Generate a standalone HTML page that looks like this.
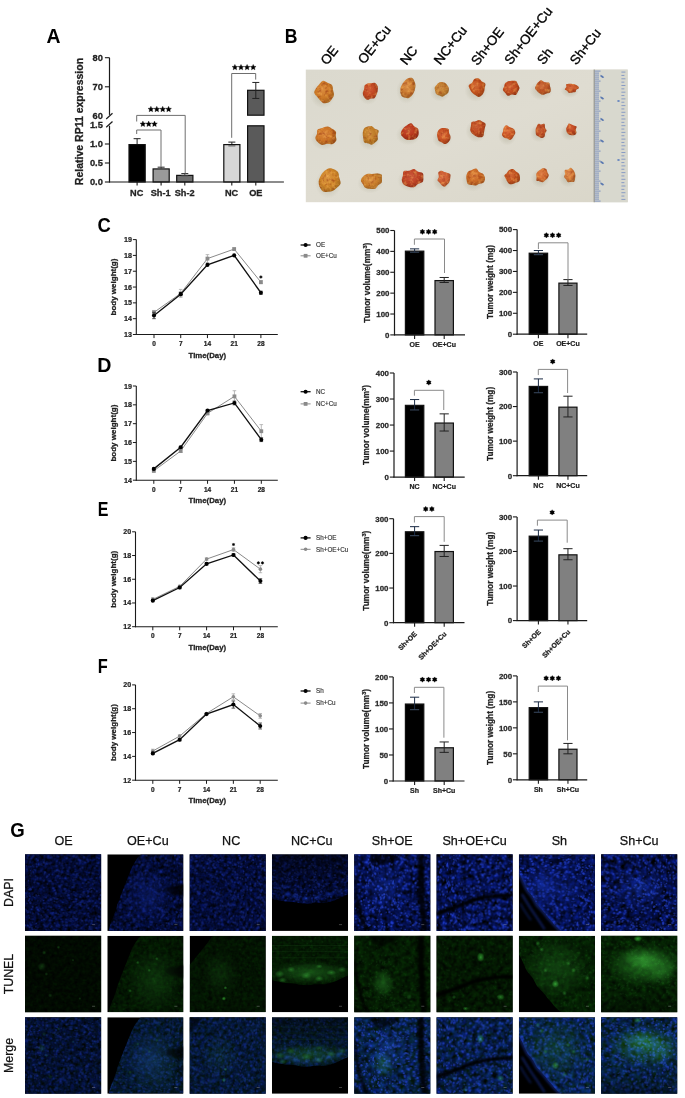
<!DOCTYPE html><html><head><meta charset="utf-8"><style>html,body{margin:0;padding:0;background:#fff;width:685px;height:1098px;overflow:hidden}svg{display:block}#root{filter:blur(0.35px)}</style></head><body>
<svg id="root" width="685" height="1098" viewBox="0 0 685 1098" font-family="Liberation Sans, sans-serif">
<rect width="685" height="1098" fill="#fff"/>
<rect x="129.00" y="144.60" width="16.20" height="37.40" fill="#000" stroke="#111" stroke-width="1.2" />
<line x1="137.10" y1="138.68" x2="137.10" y2="144.00" stroke="#222" stroke-width="1.0" />
<line x1="133.60" y1="138.68" x2="140.60" y2="138.68" stroke="#222" stroke-width="1.0" />
<rect x="153.10" y="168.92" width="16.10" height="13.08" fill="#9a9a9a" stroke="#111" stroke-width="1.2" />
<line x1="161.15" y1="167.18" x2="161.15" y2="168.32" stroke="#222" stroke-width="1.0" />
<line x1="157.65" y1="167.18" x2="164.65" y2="167.18" stroke="#222" stroke-width="1.0" />
<line x1="157.65" y1="169.46" x2="164.65" y2="169.46" stroke="#555" stroke-width="1.0" />
<rect x="176.70" y="175.38" width="16.20" height="6.62" fill="#6e6e6e" stroke="#111" stroke-width="1.2" />
<line x1="184.80" y1="173.64" x2="184.80" y2="174.78" stroke="#222" stroke-width="1.0" />
<line x1="181.30" y1="173.64" x2="188.30" y2="173.64" stroke="#222" stroke-width="1.0" />
<line x1="181.30" y1="175.92" x2="188.30" y2="175.92" stroke="#555" stroke-width="1.0" />
<rect x="223.80" y="144.60" width="16.10" height="37.40" fill="#d6d6d6" stroke="#111" stroke-width="1.2" />
<line x1="231.85" y1="142.10" x2="231.85" y2="144.00" stroke="#222" stroke-width="1.0" />
<line x1="228.35" y1="142.10" x2="235.35" y2="142.10" stroke="#222" stroke-width="1.0" />
<line x1="228.35" y1="145.90" x2="235.35" y2="145.90" stroke="#555" stroke-width="1.0" />
<rect x="247.60" y="125.80" width="16.40" height="56.20" fill="#5a5a5a" stroke="#111" stroke-width="1.2" />
<rect x="247.60" y="90.29" width="16.40" height="24.91" fill="#5a5a5a" stroke="#111" stroke-width="1.2" />
<line x1="255.80" y1="82.44" x2="255.80" y2="98.44" stroke="#222" stroke-width="1.0" />
<line x1="252.30" y1="82.44" x2="259.30" y2="82.44" stroke="#222" stroke-width="1.0" />
<line x1="252.30" y1="98.44" x2="259.30" y2="98.44" stroke="#222" stroke-width="1.0" />
<line x1="109.50" y1="57.70" x2="109.50" y2="114.90" stroke="#1a1a1a" stroke-width="1.2" />
<line x1="109.50" y1="125.70" x2="109.50" y2="182.50" stroke="#1a1a1a" stroke-width="1.2" />
<line x1="109.00" y1="182.00" x2="283.90" y2="182.00" stroke="#1a1a1a" stroke-width="1.2" />
<line x1="106.20" y1="119.00" x2="112.50" y2="113.30" stroke="#1a1a1a" stroke-width="1.2" />
<line x1="106.20" y1="127.30" x2="112.50" y2="121.50" stroke="#1a1a1a" stroke-width="1.2" />
<line x1="104.90" y1="57.70" x2="109.50" y2="57.70" stroke="#1a1a1a" stroke-width="1.1" />
<text x="102.90" y="61.00" font-size="9.3" font-weight="bold" text-anchor="end" fill="#222"  stroke="#222" stroke-width="0.28">80</text>
<line x1="104.90" y1="86.80" x2="109.50" y2="86.80" stroke="#1a1a1a" stroke-width="1.1" />
<text x="102.90" y="90.10" font-size="9.3" font-weight="bold" text-anchor="end" fill="#222"  stroke="#222" stroke-width="0.28">70</text>
<text x="102.90" y="119.20" font-size="9.3" font-weight="bold" text-anchor="end" fill="#222"  stroke="#222" stroke-width="0.28">60</text>
<text x="102.90" y="128.30" font-size="9.3" font-weight="bold" text-anchor="end" fill="#222"  stroke="#222" stroke-width="0.28">1.5</text>
<line x1="104.90" y1="144.00" x2="109.50" y2="144.00" stroke="#1a1a1a" stroke-width="1.1" />
<text x="102.90" y="147.30" font-size="9.3" font-weight="bold" text-anchor="end" fill="#222"  stroke="#222" stroke-width="0.28">1.0</text>
<line x1="104.90" y1="163.00" x2="109.50" y2="163.00" stroke="#1a1a1a" stroke-width="1.1" />
<text x="102.90" y="166.30" font-size="9.3" font-weight="bold" text-anchor="end" fill="#222"  stroke="#222" stroke-width="0.28">0.5</text>
<line x1="104.90" y1="182.00" x2="109.50" y2="182.00" stroke="#1a1a1a" stroke-width="1.1" />
<text x="102.90" y="185.30" font-size="9.3" font-weight="bold" text-anchor="end" fill="#222"  stroke="#222" stroke-width="0.28">0.0</text>
<line x1="137.10" y1="182.00" x2="137.10" y2="185.50" stroke="#1a1a1a" stroke-width="1.1" />
<line x1="161.10" y1="182.00" x2="161.10" y2="185.50" stroke="#1a1a1a" stroke-width="1.1" />
<line x1="184.80" y1="182.00" x2="184.80" y2="185.50" stroke="#1a1a1a" stroke-width="1.1" />
<line x1="231.80" y1="182.00" x2="231.80" y2="185.50" stroke="#1a1a1a" stroke-width="1.1" />
<line x1="255.80" y1="182.00" x2="255.80" y2="185.50" stroke="#1a1a1a" stroke-width="1.1" />
<text x="136.70" y="196.00" font-size="9.2" font-weight="bold" text-anchor="middle" fill="#222"  stroke="#222" stroke-width="0.28">NC</text>
<text x="160.70" y="196.00" font-size="9.2" font-weight="bold" text-anchor="middle" fill="#222"  stroke="#222" stroke-width="0.28">Sh-1</text>
<text x="184.70" y="196.00" font-size="9.2" font-weight="bold" text-anchor="middle" fill="#222"  stroke="#222" stroke-width="0.28">Sh-2</text>
<text x="231.60" y="196.00" font-size="9.2" font-weight="bold" text-anchor="middle" fill="#222"  stroke="#222" stroke-width="0.28">NC</text>
<text x="255.80" y="196.00" font-size="9.2" font-weight="bold" text-anchor="middle" fill="#222"  stroke="#222" stroke-width="0.28">OE</text>
<text x="0.00" y="0.00" font-size="10.5" font-weight="bold" text-anchor="middle" fill="#222" transform="translate(82.7,121.5) rotate(-90)" stroke="#222" stroke-width="0.28">Relative RP11 expression</text>
<polyline points="136.7,134.0 136.7,130.0 161.0,130.0 161.0,167.3" fill="none" stroke="#6e6e6e" stroke-width="1.0"/>
<polyline points="136.7,121.5 136.7,115.4 185.2,115.4 185.2,173.5" fill="none" stroke="#6e6e6e" stroke-width="1.0"/>
<polyline points="231.7,137.8 231.7,73.5 255.7,73.5 255.7,79.6" fill="none" stroke="#6e6e6e" stroke-width="1.0"/>
<polygon points="142.90,121.10 143.72,122.97 145.75,123.17 144.23,124.53 144.66,126.53 142.90,125.50 141.14,126.53 141.57,124.53 140.05,123.17 142.08,122.97" fill="#000" stroke="#000" stroke-width="0.35" stroke-linejoin="round"/>
<polygon points="148.70,121.10 149.52,122.97 151.55,123.17 150.03,124.53 150.46,126.53 148.70,125.50 146.94,126.53 147.37,124.53 145.85,123.17 147.88,122.97" fill="#000" stroke="#000" stroke-width="0.35" stroke-linejoin="round"/>
<polygon points="154.50,121.10 155.32,122.97 157.35,123.17 155.83,124.53 156.26,126.53 154.50,125.50 152.74,126.53 153.17,124.53 151.65,123.17 153.68,122.97" fill="#000" stroke="#000" stroke-width="0.35" stroke-linejoin="round"/>
<polygon points="150.90,106.30 151.72,108.17 153.75,108.37 152.23,109.73 152.66,111.73 150.90,110.70 149.14,111.73 149.57,109.73 148.05,108.37 150.08,108.17" fill="#000" stroke="#000" stroke-width="0.35" stroke-linejoin="round"/>
<polygon points="156.80,106.30 157.62,108.17 159.65,108.37 158.13,109.73 158.56,111.73 156.80,110.70 155.04,111.73 155.47,109.73 153.95,108.37 155.98,108.17" fill="#000" stroke="#000" stroke-width="0.35" stroke-linejoin="round"/>
<polygon points="162.70,106.30 163.52,108.17 165.55,108.37 164.03,109.73 164.46,111.73 162.70,110.70 160.94,111.73 161.37,109.73 159.85,108.37 161.88,108.17" fill="#000" stroke="#000" stroke-width="0.35" stroke-linejoin="round"/>
<polygon points="168.60,106.30 169.42,108.17 171.45,108.37 169.93,109.73 170.36,111.73 168.60,110.70 166.84,111.73 167.27,109.73 165.75,108.37 167.78,108.17" fill="#000" stroke="#000" stroke-width="0.35" stroke-linejoin="round"/>
<polygon points="234.90,64.40 235.72,66.27 237.75,66.47 236.23,67.83 236.66,69.83 234.90,68.80 233.14,69.83 233.57,67.83 232.05,66.47 234.08,66.27" fill="#000" stroke="#000" stroke-width="0.35" stroke-linejoin="round"/>
<polygon points="241.00,64.40 241.82,66.27 243.85,66.47 242.33,67.83 242.76,69.83 241.00,68.80 239.24,69.83 239.67,67.83 238.15,66.47 240.18,66.27" fill="#000" stroke="#000" stroke-width="0.35" stroke-linejoin="round"/>
<polygon points="247.10,64.40 247.92,66.27 249.95,66.47 248.43,67.83 248.86,69.83 247.10,68.80 245.34,69.83 245.77,67.83 244.25,66.47 246.28,66.27" fill="#000" stroke="#000" stroke-width="0.35" stroke-linejoin="round"/>
<polygon points="253.20,64.40 254.02,66.27 256.05,66.47 254.53,67.83 254.96,69.83 253.20,68.80 251.44,69.83 251.87,67.83 250.35,66.47 252.38,66.27" fill="#000" stroke="#000" stroke-width="0.35" stroke-linejoin="round"/>
<defs><linearGradient id="bg" x1="0" y1="0" x2="1" y2="1"><stop offset="0" stop-color="#dbd9ce"/><stop offset="0.5" stop-color="#dfdcd1"/><stop offset="1" stop-color="#d9d6c9"/></linearGradient><radialGradient id="tS" cx="0.5" cy="0.5" r="0.5"><stop offset="0" stop-color="#a8a48c" stop-opacity="0.55"/><stop offset="1" stop-color="#a8a48c" stop-opacity="0"/></radialGradient><filter id="mot" x="-10%" y="-10%" width="120%" height="120%" color-interpolation-filters="sRGB"><feTurbulence type="fractalNoise" baseFrequency="0.28" numOctaves="2" seed="11" result="n"/><feColorMatrix in="n" type="matrix" values="0 0 0 0 1  0 0 0 0 0.74  0 0 0 0 0.38  1.3 0 0 0 -0.62" result="sp"/><feComposite in="sp" in2="SourceGraphic" operator="in" result="sp2"/><feColorMatrix in="n" type="matrix" values="0 0 0 0 0.55  0 0 0 0 0.16  0 0 0 0 0.06  0 1.5 0 0 -0.75" result="dk"/><feComposite in="dk" in2="SourceGraphic" operator="in" result="dk2"/><feMerge><feMergeNode in="SourceGraphic"/><feMergeNode in="dk2"/><feMergeNode in="sp2"/></feMerge><feGaussianBlur stdDeviation="0.6"/></filter><filter id="pbl"><feGaussianBlur stdDeviation="0.35"/></filter></defs>
<rect x="305.80" y="69.60" width="321.90" height="132.60" fill="url(#bg)" stroke="none" stroke-width="0" />
<rect x="593.80" y="69.60" width="33.90" height="132.60" fill="#d8d8ce" stroke="none" stroke-width="0" />
<line x1="594.20" y1="69.60" x2="594.20" y2="202.20" stroke="#8a8a84" stroke-width="1.0" />
<line x1="594.80" y1="71.10" x2="600.60" y2="71.10" stroke="#6f87bd" stroke-width="0.85" />
<line x1="594.80" y1="73.10" x2="599.00" y2="73.10" stroke="#6f87bd" stroke-width="0.85" />
<line x1="594.80" y1="75.10" x2="599.00" y2="75.10" stroke="#6f87bd" stroke-width="0.85" />
<line x1="594.80" y1="77.10" x2="599.00" y2="77.10" stroke="#6f87bd" stroke-width="0.85" />
<line x1="594.80" y1="79.10" x2="599.00" y2="79.10" stroke="#6f87bd" stroke-width="0.85" />
<line x1="594.80" y1="81.10" x2="600.60" y2="81.10" stroke="#6f87bd" stroke-width="0.85" />
<line x1="594.80" y1="83.10" x2="599.00" y2="83.10" stroke="#6f87bd" stroke-width="0.85" />
<line x1="594.80" y1="85.10" x2="599.00" y2="85.10" stroke="#6f87bd" stroke-width="0.85" />
<line x1="594.80" y1="87.10" x2="599.00" y2="87.10" stroke="#6f87bd" stroke-width="0.85" />
<line x1="594.80" y1="89.10" x2="599.00" y2="89.10" stroke="#6f87bd" stroke-width="0.85" />
<line x1="594.80" y1="91.10" x2="600.60" y2="91.10" stroke="#6f87bd" stroke-width="0.85" />
<line x1="594.80" y1="93.10" x2="599.00" y2="93.10" stroke="#6f87bd" stroke-width="0.85" />
<line x1="594.80" y1="95.10" x2="599.00" y2="95.10" stroke="#6f87bd" stroke-width="0.85" />
<line x1="594.80" y1="97.10" x2="599.00" y2="97.10" stroke="#6f87bd" stroke-width="0.85" />
<line x1="594.80" y1="99.10" x2="599.00" y2="99.10" stroke="#6f87bd" stroke-width="0.85" />
<line x1="594.80" y1="101.10" x2="600.60" y2="101.10" stroke="#6f87bd" stroke-width="0.85" />
<line x1="594.80" y1="103.10" x2="599.00" y2="103.10" stroke="#6f87bd" stroke-width="0.85" />
<line x1="594.80" y1="105.10" x2="599.00" y2="105.10" stroke="#6f87bd" stroke-width="0.85" />
<line x1="594.80" y1="107.10" x2="599.00" y2="107.10" stroke="#6f87bd" stroke-width="0.85" />
<line x1="594.80" y1="109.10" x2="599.00" y2="109.10" stroke="#6f87bd" stroke-width="0.85" />
<line x1="594.80" y1="111.10" x2="600.60" y2="111.10" stroke="#6f87bd" stroke-width="0.85" />
<line x1="594.80" y1="113.10" x2="599.00" y2="113.10" stroke="#6f87bd" stroke-width="0.85" />
<line x1="594.80" y1="115.10" x2="599.00" y2="115.10" stroke="#6f87bd" stroke-width="0.85" />
<line x1="594.80" y1="117.10" x2="599.00" y2="117.10" stroke="#6f87bd" stroke-width="0.85" />
<line x1="594.80" y1="119.10" x2="599.00" y2="119.10" stroke="#6f87bd" stroke-width="0.85" />
<line x1="594.80" y1="121.10" x2="600.60" y2="121.10" stroke="#6f87bd" stroke-width="0.85" />
<line x1="594.80" y1="123.10" x2="599.00" y2="123.10" stroke="#6f87bd" stroke-width="0.85" />
<line x1="594.80" y1="125.10" x2="599.00" y2="125.10" stroke="#6f87bd" stroke-width="0.85" />
<line x1="594.80" y1="127.10" x2="599.00" y2="127.10" stroke="#6f87bd" stroke-width="0.85" />
<line x1="594.80" y1="129.10" x2="599.00" y2="129.10" stroke="#6f87bd" stroke-width="0.85" />
<line x1="594.80" y1="131.10" x2="600.60" y2="131.10" stroke="#6f87bd" stroke-width="0.85" />
<line x1="594.80" y1="133.10" x2="599.00" y2="133.10" stroke="#6f87bd" stroke-width="0.85" />
<line x1="594.80" y1="135.10" x2="599.00" y2="135.10" stroke="#6f87bd" stroke-width="0.85" />
<line x1="594.80" y1="137.10" x2="599.00" y2="137.10" stroke="#6f87bd" stroke-width="0.85" />
<line x1="594.80" y1="139.10" x2="599.00" y2="139.10" stroke="#6f87bd" stroke-width="0.85" />
<line x1="594.80" y1="141.10" x2="600.60" y2="141.10" stroke="#6f87bd" stroke-width="0.85" />
<line x1="594.80" y1="143.10" x2="599.00" y2="143.10" stroke="#6f87bd" stroke-width="0.85" />
<line x1="594.80" y1="145.10" x2="599.00" y2="145.10" stroke="#6f87bd" stroke-width="0.85" />
<line x1="594.80" y1="147.10" x2="599.00" y2="147.10" stroke="#6f87bd" stroke-width="0.85" />
<line x1="594.80" y1="149.10" x2="599.00" y2="149.10" stroke="#6f87bd" stroke-width="0.85" />
<line x1="594.80" y1="151.10" x2="600.60" y2="151.10" stroke="#6f87bd" stroke-width="0.85" />
<line x1="594.80" y1="153.10" x2="599.00" y2="153.10" stroke="#6f87bd" stroke-width="0.85" />
<line x1="594.80" y1="155.10" x2="599.00" y2="155.10" stroke="#6f87bd" stroke-width="0.85" />
<line x1="594.80" y1="157.10" x2="599.00" y2="157.10" stroke="#6f87bd" stroke-width="0.85" />
<line x1="594.80" y1="159.10" x2="599.00" y2="159.10" stroke="#6f87bd" stroke-width="0.85" />
<line x1="594.80" y1="161.10" x2="600.60" y2="161.10" stroke="#6f87bd" stroke-width="0.85" />
<line x1="594.80" y1="163.10" x2="599.00" y2="163.10" stroke="#6f87bd" stroke-width="0.85" />
<line x1="594.80" y1="165.10" x2="599.00" y2="165.10" stroke="#6f87bd" stroke-width="0.85" />
<line x1="594.80" y1="167.10" x2="599.00" y2="167.10" stroke="#6f87bd" stroke-width="0.85" />
<line x1="594.80" y1="169.10" x2="599.00" y2="169.10" stroke="#6f87bd" stroke-width="0.85" />
<line x1="594.80" y1="171.10" x2="600.60" y2="171.10" stroke="#6f87bd" stroke-width="0.85" />
<line x1="594.80" y1="173.10" x2="599.00" y2="173.10" stroke="#6f87bd" stroke-width="0.85" />
<line x1="594.80" y1="175.10" x2="599.00" y2="175.10" stroke="#6f87bd" stroke-width="0.85" />
<line x1="594.80" y1="177.10" x2="599.00" y2="177.10" stroke="#6f87bd" stroke-width="0.85" />
<line x1="594.80" y1="179.10" x2="599.00" y2="179.10" stroke="#6f87bd" stroke-width="0.85" />
<line x1="594.80" y1="181.10" x2="600.60" y2="181.10" stroke="#6f87bd" stroke-width="0.85" />
<line x1="594.80" y1="183.10" x2="599.00" y2="183.10" stroke="#6f87bd" stroke-width="0.85" />
<line x1="594.80" y1="185.10" x2="599.00" y2="185.10" stroke="#6f87bd" stroke-width="0.85" />
<line x1="594.80" y1="187.10" x2="599.00" y2="187.10" stroke="#6f87bd" stroke-width="0.85" />
<line x1="594.80" y1="189.10" x2="599.00" y2="189.10" stroke="#6f87bd" stroke-width="0.85" />
<line x1="594.80" y1="191.10" x2="600.60" y2="191.10" stroke="#6f87bd" stroke-width="0.85" />
<line x1="594.80" y1="193.10" x2="599.00" y2="193.10" stroke="#6f87bd" stroke-width="0.85" />
<line x1="594.80" y1="195.10" x2="599.00" y2="195.10" stroke="#6f87bd" stroke-width="0.85" />
<line x1="594.80" y1="197.10" x2="599.00" y2="197.10" stroke="#6f87bd" stroke-width="0.85" />
<line x1="594.80" y1="199.10" x2="599.00" y2="199.10" stroke="#6f87bd" stroke-width="0.85" />
<line x1="594.80" y1="201.10" x2="600.60" y2="201.10" stroke="#6f87bd" stroke-width="0.85" />
<line x1="621.40" y1="72.10" x2="625.40" y2="72.10" stroke="#7a90c0" stroke-width="0.85" />
<line x1="621.40" y1="75.45" x2="624.40" y2="75.45" stroke="#7a90c0" stroke-width="0.85" />
<line x1="621.40" y1="78.80" x2="625.40" y2="78.80" stroke="#7a90c0" stroke-width="0.85" />
<line x1="621.40" y1="82.15" x2="624.40" y2="82.15" stroke="#7a90c0" stroke-width="0.85" />
<line x1="621.40" y1="85.50" x2="625.40" y2="85.50" stroke="#7a90c0" stroke-width="0.85" />
<line x1="621.40" y1="88.85" x2="624.40" y2="88.85" stroke="#7a90c0" stroke-width="0.85" />
<line x1="621.40" y1="92.20" x2="625.40" y2="92.20" stroke="#7a90c0" stroke-width="0.85" />
<line x1="621.40" y1="95.55" x2="624.40" y2="95.55" stroke="#7a90c0" stroke-width="0.85" />
<line x1="621.40" y1="98.90" x2="625.40" y2="98.90" stroke="#7a90c0" stroke-width="0.85" />
<line x1="621.40" y1="102.25" x2="624.40" y2="102.25" stroke="#7a90c0" stroke-width="0.85" />
<line x1="621.40" y1="105.60" x2="625.40" y2="105.60" stroke="#7a90c0" stroke-width="0.85" />
<line x1="621.40" y1="108.95" x2="624.40" y2="108.95" stroke="#7a90c0" stroke-width="0.85" />
<line x1="621.40" y1="112.30" x2="625.40" y2="112.30" stroke="#7a90c0" stroke-width="0.85" />
<line x1="621.40" y1="115.65" x2="624.40" y2="115.65" stroke="#7a90c0" stroke-width="0.85" />
<line x1="621.40" y1="119.00" x2="625.40" y2="119.00" stroke="#7a90c0" stroke-width="0.85" />
<line x1="621.40" y1="122.35" x2="624.40" y2="122.35" stroke="#7a90c0" stroke-width="0.85" />
<line x1="621.40" y1="125.70" x2="625.40" y2="125.70" stroke="#7a90c0" stroke-width="0.85" />
<line x1="621.40" y1="129.05" x2="624.40" y2="129.05" stroke="#7a90c0" stroke-width="0.85" />
<line x1="621.40" y1="132.40" x2="625.40" y2="132.40" stroke="#7a90c0" stroke-width="0.85" />
<line x1="621.40" y1="135.75" x2="624.40" y2="135.75" stroke="#7a90c0" stroke-width="0.85" />
<line x1="621.40" y1="139.10" x2="625.40" y2="139.10" stroke="#7a90c0" stroke-width="0.85" />
<line x1="621.40" y1="142.45" x2="624.40" y2="142.45" stroke="#7a90c0" stroke-width="0.85" />
<line x1="621.40" y1="145.80" x2="625.40" y2="145.80" stroke="#7a90c0" stroke-width="0.85" />
<line x1="621.40" y1="149.15" x2="624.40" y2="149.15" stroke="#7a90c0" stroke-width="0.85" />
<line x1="621.40" y1="152.50" x2="625.40" y2="152.50" stroke="#7a90c0" stroke-width="0.85" />
<line x1="621.40" y1="155.85" x2="624.40" y2="155.85" stroke="#7a90c0" stroke-width="0.85" />
<line x1="621.40" y1="159.20" x2="625.40" y2="159.20" stroke="#7a90c0" stroke-width="0.85" />
<line x1="621.40" y1="162.55" x2="624.40" y2="162.55" stroke="#7a90c0" stroke-width="0.85" />
<line x1="621.40" y1="165.90" x2="625.40" y2="165.90" stroke="#7a90c0" stroke-width="0.85" />
<line x1="621.40" y1="169.25" x2="624.40" y2="169.25" stroke="#7a90c0" stroke-width="0.85" />
<line x1="621.40" y1="172.60" x2="625.40" y2="172.60" stroke="#7a90c0" stroke-width="0.85" />
<line x1="621.40" y1="175.95" x2="624.40" y2="175.95" stroke="#7a90c0" stroke-width="0.85" />
<line x1="621.40" y1="179.30" x2="625.40" y2="179.30" stroke="#7a90c0" stroke-width="0.85" />
<line x1="621.40" y1="182.65" x2="624.40" y2="182.65" stroke="#7a90c0" stroke-width="0.85" />
<line x1="621.40" y1="186.00" x2="625.40" y2="186.00" stroke="#7a90c0" stroke-width="0.85" />
<line x1="621.40" y1="189.35" x2="624.40" y2="189.35" stroke="#7a90c0" stroke-width="0.85" />
<line x1="621.40" y1="192.70" x2="625.40" y2="192.70" stroke="#7a90c0" stroke-width="0.85" />
<line x1="621.40" y1="196.05" x2="624.40" y2="196.05" stroke="#7a90c0" stroke-width="0.85" />
<line x1="621.40" y1="199.40" x2="625.40" y2="199.40" stroke="#7a90c0" stroke-width="0.85" />
<path d="M600.5,74.7 l2.5,1.2 l1.2,1.6 l-1.6,0.6 l-2.2,-1.6Z" fill="#5a78b0"/>
<path d="M600.5,96.2 l2.5,1.2 l1.2,1.6 l-1.6,0.6 l-2.2,-1.6Z" fill="#5a78b0"/>
<path d="M600.5,117.7 l2.5,1.2 l1.2,1.6 l-1.6,0.6 l-2.2,-1.6Z" fill="#5a78b0"/>
<path d="M600.5,139.2 l2.5,1.2 l1.2,1.6 l-1.6,0.6 l-2.2,-1.6Z" fill="#5a78b0"/>
<path d="M600.5,160.7 l2.5,1.2 l1.2,1.6 l-1.6,0.6 l-2.2,-1.6Z" fill="#5a78b0"/>
<path d="M600.5,182.2 l2.5,1.2 l1.2,1.6 l-1.6,0.6 l-2.2,-1.6Z" fill="#5a78b0"/>
<ellipse cx="618.5" cy="101.0" rx="1.3" ry="1.0" fill="#6a88c0"/>
<ellipse cx="618.5" cy="160.0" rx="1.3" ry="1.0" fill="#6a88c0"/>
<defs>
<radialGradient id="tg0" cx="0.42" cy="0.4" r="0.65"><stop offset="0" stop-color="#da8b3e"/><stop offset="0.55" stop-color="#cb7826"/><stop offset="1" stop-color="#9a5b1d"/></radialGradient>
<radialGradient id="tg1" cx="0.42" cy="0.4" r="0.65"><stop offset="0" stop-color="#d15d39"/><stop offset="0.55" stop-color="#c14822"/><stop offset="1" stop-color="#923619"/></radialGradient>
<radialGradient id="tg2" cx="0.42" cy="0.4" r="0.65"><stop offset="0" stop-color="#d88d48"/><stop offset="0.55" stop-color="#c97a31"/><stop offset="1" stop-color="#985c25"/></radialGradient>
<radialGradient id="tg3" cx="0.42" cy="0.4" r="0.65"><stop offset="0" stop-color="#ce8e45"/><stop offset="0.55" stop-color="#be7b2e"/><stop offset="1" stop-color="#905d23"/></radialGradient>
<radialGradient id="tg4" cx="0.42" cy="0.4" r="0.65"><stop offset="0" stop-color="#d16735"/><stop offset="0.55" stop-color="#c1521d"/><stop offset="1" stop-color="#923e16"/></radialGradient>
<radialGradient id="tg5" cx="0.42" cy="0.4" r="0.65"><stop offset="0" stop-color="#d16137"/><stop offset="0.55" stop-color="#c14c1f"/><stop offset="1" stop-color="#923917"/></radialGradient>
<radialGradient id="tg6" cx="0.42" cy="0.4" r="0.65"><stop offset="0" stop-color="#cd6c3d"/><stop offset="0.55" stop-color="#be5726"/><stop offset="1" stop-color="#90421c"/></radialGradient>
<radialGradient id="tg7" cx="0.42" cy="0.4" r="0.65"><stop offset="0" stop-color="#d66b3f"/><stop offset="0.55" stop-color="#c75627"/><stop offset="1" stop-color="#97411e"/></radialGradient>
<radialGradient id="tg8" cx="0.42" cy="0.4" r="0.65"><stop offset="0" stop-color="#da873c"/><stop offset="0.55" stop-color="#cb7325"/><stop offset="1" stop-color="#9a571c"/></radialGradient>
<radialGradient id="tg9" cx="0.42" cy="0.4" r="0.65"><stop offset="0" stop-color="#cd8e3d"/><stop offset="0.55" stop-color="#be7b26"/><stop offset="1" stop-color="#905d1c"/></radialGradient>
<radialGradient id="tg10" cx="0.42" cy="0.4" r="0.65"><stop offset="0" stop-color="#c84e34"/><stop offset="0.55" stop-color="#b8381c"/><stop offset="1" stop-color="#8b2a15"/></radialGradient>
<radialGradient id="tg11" cx="0.42" cy="0.4" r="0.65"><stop offset="0" stop-color="#d6663a"/><stop offset="0.55" stop-color="#c75123"/><stop offset="1" stop-color="#973d1a"/></radialGradient>
<radialGradient id="tg12" cx="0.42" cy="0.4" r="0.65"><stop offset="0" stop-color="#cb5e38"/><stop offset="0.55" stop-color="#bc4920"/><stop offset="1" stop-color="#8e3718"/></radialGradient>
<radialGradient id="tg13" cx="0.42" cy="0.4" r="0.65"><stop offset="0" stop-color="#db6c3c"/><stop offset="0.55" stop-color="#cd5725"/><stop offset="1" stop-color="#9b421c"/></radialGradient>
<radialGradient id="tg14" cx="0.42" cy="0.4" r="0.65"><stop offset="0" stop-color="#cd643d"/><stop offset="0.55" stop-color="#be4e26"/><stop offset="1" stop-color="#903b1c"/></radialGradient>
<radialGradient id="tg15" cx="0.42" cy="0.4" r="0.65"><stop offset="0" stop-color="#d15f39"/><stop offset="0.55" stop-color="#c14a22"/><stop offset="1" stop-color="#923819"/></radialGradient>
<radialGradient id="tg16" cx="0.42" cy="0.4" r="0.65"><stop offset="0" stop-color="#db9640"/><stop offset="0.55" stop-color="#cd8428"/><stop offset="1" stop-color="#9b641e"/></radialGradient>
<radialGradient id="tg17" cx="0.42" cy="0.4" r="0.65"><stop offset="0" stop-color="#d89142"/><stop offset="0.55" stop-color="#c97e2b"/><stop offset="1" stop-color="#985f21"/></radialGradient>
<radialGradient id="tg18" cx="0.42" cy="0.4" r="0.65"><stop offset="0" stop-color="#cd593d"/><stop offset="0.55" stop-color="#be4326"/><stop offset="1" stop-color="#90331c"/></radialGradient>
<radialGradient id="tg19" cx="0.42" cy="0.4" r="0.65"><stop offset="0" stop-color="#db724a"/><stop offset="0.55" stop-color="#cd5e33"/><stop offset="1" stop-color="#9b4726"/></radialGradient>
<radialGradient id="tg20" cx="0.42" cy="0.4" r="0.65"><stop offset="0" stop-color="#d87d3c"/><stop offset="0.55" stop-color="#c96925"/><stop offset="1" stop-color="#984f1c"/></radialGradient>
<radialGradient id="tg21" cx="0.42" cy="0.4" r="0.65"><stop offset="0" stop-color="#d16737"/><stop offset="0.55" stop-color="#c1521f"/><stop offset="1" stop-color="#923e17"/></radialGradient>
<radialGradient id="tg22" cx="0.42" cy="0.4" r="0.65"><stop offset="0" stop-color="#df7e47"/><stop offset="0.55" stop-color="#d16a30"/><stop offset="1" stop-color="#9e5024"/></radialGradient>
<radialGradient id="tg23" cx="0.42" cy="0.4" r="0.65"><stop offset="0" stop-color="#e18b4f"/><stop offset="0.55" stop-color="#d27839"/><stop offset="1" stop-color="#9f5b2b"/></radialGradient>
</defs>
<ellipse cx="322.7" cy="95.3" rx="12.5" ry="13.0" fill="url(#tS)"/>
<ellipse cx="368.4" cy="93.8" rx="10.2" ry="11.0" fill="url(#tS)"/>
<ellipse cx="406.2" cy="90.8" rx="10.0" ry="13.0" fill="url(#tS)"/>
<ellipse cx="439.9" cy="92.1" rx="10.0" ry="9.5" fill="url(#tS)"/>
<ellipse cx="475.9" cy="90.6" rx="11.5" ry="11.3" fill="url(#tS)"/>
<ellipse cx="509.2" cy="90.8" rx="11.0" ry="10.3" fill="url(#tS)"/>
<ellipse cx="541.2" cy="90.8" rx="11.6" ry="9.7" fill="url(#tS)"/>
<ellipse cx="569.9" cy="90.8" rx="9.2" ry="7.1" fill="url(#tS)"/>
<ellipse cx="324.2" cy="138.8" rx="13.5" ry="11.3" fill="url(#tS)"/>
<ellipse cx="369.2" cy="138.3" rx="10.8" ry="12.0" fill="url(#tS)"/>
<ellipse cx="408.2" cy="134.8" rx="12.3" ry="10.5" fill="url(#tS)"/>
<ellipse cx="442.2" cy="138.8" rx="10.0" ry="9.5" fill="url(#tS)"/>
<ellipse cx="476.2" cy="131.1" rx="10.8" ry="11.3" fill="url(#tS)"/>
<ellipse cx="507.2" cy="135.8" rx="9.2" ry="9.7" fill="url(#tS)"/>
<ellipse cx="538.9" cy="133.2" rx="8.7" ry="9.1" fill="url(#tS)"/>
<ellipse cx="569.2" cy="132.5" rx="8.5" ry="8.3" fill="url(#tS)"/>
<ellipse cx="328.2" cy="183.6" rx="13.0" ry="14.8" fill="url(#tS)"/>
<ellipse cx="370.2" cy="183.3" rx="13.0" ry="10.1" fill="url(#tS)"/>
<ellipse cx="410.7" cy="180.4" rx="13.5" ry="11.0" fill="url(#tS)"/>
<ellipse cx="442.0" cy="181.2" rx="9.2" ry="10.1" fill="url(#tS)"/>
<ellipse cx="473.2" cy="180.8" rx="11.7" ry="10.9" fill="url(#tS)"/>
<ellipse cx="510.2" cy="180.2" rx="10.2" ry="9.7" fill="url(#tS)"/>
<ellipse cx="540.2" cy="178.4" rx="9.5" ry="9.5" fill="url(#tS)"/>
<ellipse cx="568.2" cy="178.1" rx="9.2" ry="9.3" fill="url(#tS)"/>
<g filter="url(#mot)">
<path d="M333.1,90.2C333.4,91.9 334.2,93.6 334.0,95.1C333.8,96.6 332.6,98.0 331.7,99.2C330.8,100.5 329.7,101.9 328.4,102.5C327.1,103.2 325.2,103.6 323.8,103.2C322.4,102.8 321.1,101.2 320.0,100.2C318.9,99.1 318.2,98.0 317.2,96.8C316.2,95.5 314.3,93.9 314.2,92.5C314.0,91.0 315.5,89.2 316.3,87.9C317.1,86.6 318.0,85.6 319.1,84.4C320.1,83.3 321.3,81.2 322.7,80.9C324.1,80.6 325.9,82.1 327.5,82.8C329.0,83.5 331.0,83.8 331.9,85.1C332.9,86.3 332.8,88.5 333.1,90.2Z" fill="url(#tg0)" />
<path d="M377.6,91.0C377.4,92.4 376.9,93.7 376.4,94.8C375.9,96.0 375.3,97.6 374.4,98.2C373.5,98.8 372.2,98.3 371.0,98.5C369.8,98.8 368.5,100.1 367.4,99.8C366.2,99.6 364.9,98.4 364.2,97.3C363.4,96.2 362.8,94.5 362.8,93.1C362.8,91.8 363.7,90.5 364.1,89.2C364.4,87.9 364.1,86.3 364.8,85.3C365.4,84.4 366.8,83.9 367.8,83.5C368.8,83.2 369.8,83.4 371.0,83.3C372.2,83.2 373.8,82.4 375.0,82.9C376.1,83.4 377.3,85.0 377.7,86.3C378.2,87.7 377.8,89.6 377.6,91.0Z" fill="url(#tg1)" />
<path d="M414.6,90.4C414.1,92.0 413.3,93.7 412.3,95.0C411.3,96.2 410.0,97.5 408.8,98.0C407.7,98.5 406.4,98.1 405.3,97.8C404.2,97.6 402.9,97.5 402.1,96.6C401.3,95.8 400.8,94.3 400.5,92.9C400.3,91.4 400.2,89.6 400.6,88.0C401.0,86.5 401.9,84.8 402.7,83.5C403.6,82.2 404.6,81.0 405.6,80.1C406.6,79.2 407.9,78.4 409.0,78.1C410.2,77.7 411.6,77.7 412.5,78.2C413.4,78.8 414.0,80.2 414.5,81.4C415.0,82.7 415.5,84.0 415.5,85.5C415.5,87.0 415.1,88.8 414.6,90.4Z" fill="url(#tg2)" />
<path d="M448.9,89.3C448.9,90.4 448.7,91.8 448.2,92.7C447.6,93.6 446.5,94.2 445.5,94.8C444.6,95.5 443.6,96.5 442.6,96.7C441.6,96.8 440.3,96.0 439.3,95.6C438.3,95.2 437.0,94.8 436.4,94.0C435.7,93.3 435.5,92.0 435.2,90.9C435.0,89.8 434.5,88.6 434.7,87.6C434.9,86.6 435.9,85.7 436.7,84.9C437.4,84.0 438.2,83.0 439.2,82.6C440.1,82.1 441.5,82.0 442.6,82.2C443.7,82.3 444.9,82.7 445.8,83.4C446.7,84.0 447.3,85.1 447.9,86.1C448.4,87.1 448.8,88.2 448.9,89.3Z" fill="url(#tg3)" />
<path d="M484.7,87.8C484.5,89.1 484.6,90.2 484.2,91.3C483.8,92.5 483.2,93.8 482.3,94.8C481.4,95.7 480.0,97.1 478.8,97.1C477.6,97.1 476.2,95.7 475.1,95.0C474.0,94.2 473.0,93.7 472.2,92.8C471.4,91.9 470.8,90.9 470.2,89.7C469.7,88.5 468.4,86.7 468.7,85.5C469.0,84.3 471.2,83.8 472.1,82.7C473.1,81.6 473.3,79.6 474.4,78.9C475.5,78.2 477.5,78.1 478.8,78.6C480.0,79.0 480.8,80.7 481.9,81.5C483.0,82.4 484.9,82.6 485.3,83.7C485.8,84.7 484.9,86.5 484.7,87.8Z" fill="url(#tg4)" />
<path d="M519.4,88.0C519.4,89.2 518.5,90.4 517.9,91.5C517.3,92.7 516.9,94.4 515.9,94.9C514.9,95.4 513.1,94.4 511.8,94.5C510.5,94.7 509.0,96.1 508.0,95.8C506.9,95.5 506.1,93.9 505.3,92.9C504.4,92.0 503.1,91.0 502.9,89.9C502.7,88.8 503.8,87.5 504.2,86.4C504.6,85.2 504.6,84.0 505.3,83.1C506.1,82.3 507.3,81.7 508.4,81.3C509.5,80.9 510.7,80.8 511.9,80.7C513.2,80.7 514.9,80.4 515.9,81.1C516.9,81.7 517.4,83.3 518.0,84.4C518.6,85.6 519.4,86.8 519.4,88.0Z" fill="url(#tg5)" />
<path d="M550.8,89.4C550.8,90.4 550.6,91.9 549.9,92.6C549.1,93.3 547.4,93.3 546.2,93.7C545.0,94.0 543.9,94.9 542.8,94.8C541.7,94.7 540.4,93.8 539.5,93.2C538.5,92.5 537.8,91.8 537.1,91.0C536.4,90.1 535.3,89.2 535.1,88.2C535.0,87.3 535.7,86.2 536.2,85.3C536.6,84.3 537.1,83.4 537.9,82.6C538.7,81.7 539.8,80.3 541.0,80.2C542.2,80.2 543.5,81.9 544.9,82.3C546.2,82.7 548.2,82.1 549.1,82.8C550.0,83.5 549.7,85.2 550.0,86.3C550.3,87.4 550.8,88.3 550.8,89.4Z" fill="url(#tg6)" />
<path d="M579.0,88.0C578.8,88.7 576.9,89.1 576.3,89.8C575.7,90.5 576.2,91.6 575.5,92.1C574.9,92.6 573.5,92.4 572.4,92.5C571.4,92.7 570.0,93.3 569.2,93.0C568.3,92.7 567.9,91.6 567.2,90.9C566.5,90.3 564.9,89.9 564.8,89.3C564.6,88.6 566.2,87.8 566.4,87.0C566.7,86.2 565.7,84.9 566.2,84.4C566.8,83.9 568.5,83.9 569.6,83.8C570.6,83.8 571.5,83.9 572.4,84.0C573.3,84.1 574.2,84.1 575.0,84.4C575.9,84.7 576.8,85.2 577.4,85.8C578.1,86.4 579.2,87.3 579.0,88.0Z" fill="url(#tg7)" />
<path d="M335.8,136.0C335.9,137.5 336.8,139.2 336.3,140.5C335.7,141.9 334.1,143.5 332.6,144.0C331.1,144.6 328.9,143.6 327.1,143.7C325.3,143.9 323.5,145.2 322.0,144.9C320.4,144.6 318.8,143.3 317.7,142.1C316.6,141.0 315.5,139.5 315.4,138.2C315.2,136.9 316.6,135.6 317.0,134.1C317.4,132.7 316.6,130.7 317.5,129.7C318.4,128.7 320.7,128.5 322.4,128.0C324.0,127.5 325.8,126.5 327.4,126.6C329.0,126.7 330.6,127.9 332.0,128.7C333.4,129.5 335.2,130.4 335.9,131.7C336.5,132.9 335.7,134.5 335.8,136.0Z" fill="url(#tg8)" />
<path d="M377.6,135.5C377.4,137.0 378.2,138.6 377.7,139.8C377.3,141.0 376.0,141.8 375.0,142.6C374.1,143.4 373.0,144.6 371.9,144.7C370.8,144.9 369.7,144.0 368.5,143.6C367.2,143.2 365.3,143.6 364.4,142.6C363.5,141.7 363.5,139.4 363.3,137.8C363.0,136.2 362.6,134.6 362.8,133.0C362.9,131.4 363.4,129.3 364.3,128.2C365.2,127.2 367.0,127.0 368.2,126.6C369.5,126.3 370.8,125.8 371.9,126.2C373.0,126.5 373.7,128.0 374.8,128.7C376.0,129.5 378.2,129.5 378.6,130.6C379.1,131.8 377.7,134.0 377.6,135.5Z" fill="url(#tg9)" />
<path d="M418.6,132.0C418.6,133.2 418.8,134.6 418.2,135.7C417.7,136.8 416.6,138.1 415.4,138.7C414.2,139.4 412.6,139.7 411.1,139.8C409.6,140.0 407.9,140.1 406.6,139.7C405.3,139.3 404.0,138.2 403.1,137.3C402.1,136.3 401.1,135.1 400.9,133.9C400.7,132.8 401.4,131.4 401.9,130.3C402.5,129.2 403.2,128.3 404.0,127.4C404.9,126.6 405.8,125.9 407.0,125.2C408.2,124.5 410.0,123.0 411.2,123.3C412.5,123.5 413.3,125.7 414.4,126.5C415.5,127.4 417.1,127.6 417.8,128.5C418.5,129.4 418.5,130.8 418.6,132.0Z" fill="url(#tg10)" />
<path d="M450.4,136.0C450.6,137.0 450.6,138.3 450.3,139.3C449.9,140.3 449.2,141.4 448.3,142.2C447.4,143.0 446.1,144.1 445.0,144.1C443.9,144.1 442.7,142.8 441.6,142.2C440.6,141.7 439.4,141.5 438.7,140.7C438.0,139.9 437.8,138.7 437.5,137.6C437.2,136.5 437.0,135.4 437.1,134.3C437.2,133.2 437.5,131.8 438.1,130.8C438.8,129.8 439.9,128.8 441.1,128.3C442.2,127.8 443.7,127.8 445.0,128.0C446.2,128.2 447.9,128.4 448.6,129.3C449.3,130.2 448.9,132.2 449.2,133.3C449.5,134.4 450.2,135.0 450.4,136.0Z" fill="url(#tg11)" />
<path d="M484.8,128.3C484.6,129.6 484.4,130.6 484.1,131.9C483.8,133.3 483.8,135.6 483.0,136.4C482.1,137.3 480.2,137.3 479.0,137.2C477.7,137.1 476.5,136.4 475.5,135.9C474.4,135.3 473.4,134.7 472.5,133.8C471.7,132.9 470.6,131.7 470.3,130.4C470.0,129.2 470.7,127.7 470.9,126.3C471.1,124.9 470.9,122.9 471.7,122.0C472.5,121.2 474.4,121.5 475.6,121.2C476.8,120.9 477.8,119.9 478.9,120.0C480.0,120.1 481.0,121.0 482.1,121.6C483.2,122.3 485.1,122.7 485.5,123.8C486.0,124.9 485.0,127.0 484.8,128.3Z" fill="url(#tg12)" />
<path d="M515.3,133.0C515.2,134.0 514.3,135.0 513.7,135.9C513.2,136.8 512.9,137.8 512.2,138.5C511.6,139.1 510.6,140.0 509.7,140.0C508.9,140.0 508.1,138.9 507.2,138.6C506.3,138.2 505.2,138.4 504.4,137.8C503.5,137.2 502.2,136.1 502.0,135.0C501.8,133.9 502.8,132.5 503.1,131.3C503.4,130.1 503.3,128.7 503.8,127.7C504.4,126.6 505.5,125.2 506.4,125.2C507.4,125.1 508.7,126.6 509.6,127.1C510.5,127.6 511.1,127.7 511.9,128.1C512.7,128.6 513.8,128.9 514.4,129.7C514.9,130.5 515.4,132.0 515.3,133.0Z" fill="url(#tg13)" />
<path d="M546.6,130.4C546.6,131.3 545.5,132.1 545.2,133.1C544.8,134.2 545.1,135.9 544.5,136.7C543.9,137.5 542.5,138.0 541.5,138.0C540.5,137.9 539.6,137.0 538.7,136.5C537.8,136.0 536.7,135.8 536.2,135.0C535.7,134.3 535.8,132.8 535.7,131.8C535.7,130.8 535.5,129.9 535.7,129.0C535.9,128.1 536.3,127.2 536.8,126.4C537.2,125.5 537.8,124.1 538.5,123.8C539.3,123.5 540.3,124.5 541.3,124.5C542.3,124.6 543.9,123.5 544.5,124.0C545.1,124.6 544.6,126.7 545.0,127.8C545.3,128.9 546.5,129.5 546.6,130.4Z" fill="url(#tg14)" />
<path d="M575.8,129.7C575.7,130.7 576.6,131.8 576.4,132.7C576.2,133.6 575.4,134.7 574.6,135.1C573.8,135.5 572.5,135.3 571.6,135.2C570.7,135.1 569.9,135.0 569.2,134.7C568.5,134.3 567.8,133.8 567.3,133.1C566.9,132.5 566.7,131.7 566.5,130.9C566.3,130.1 566.1,129.2 566.2,128.5C566.4,127.7 566.9,127.1 567.3,126.3C567.8,125.5 568.1,123.9 568.8,123.6C569.5,123.3 570.8,124.3 571.6,124.6C572.4,124.9 572.9,125.1 573.8,125.5C574.6,125.8 576.3,125.9 576.6,126.6C577.0,127.3 575.8,128.7 575.8,129.7Z" fill="url(#tg15)" />
<path d="M340.6,183.6C340.1,185.3 337.9,186.8 336.6,188.0C335.2,189.3 334.0,190.4 332.6,191.0C331.2,191.6 329.8,191.7 328.2,191.8C326.6,191.9 324.6,192.4 323.2,191.6C321.8,190.9 320.6,189.0 319.9,187.3C319.1,185.5 318.5,183.2 318.7,181.2C318.9,179.2 320.0,177.0 321.0,175.2C322.0,173.5 323.3,171.8 324.7,170.7C326.1,169.5 327.9,168.4 329.5,168.2C331.1,168.0 332.9,168.7 334.3,169.4C335.8,170.1 337.4,171.0 338.2,172.4C339.0,173.8 338.8,176.0 339.2,177.8C339.6,179.7 341.0,181.9 340.6,183.6Z" fill="url(#tg16)" />
<path d="M381.9,178.8C381.9,180.1 382.3,181.4 381.7,182.5C381.0,183.6 379.3,184.3 378.2,185.3C377.1,186.4 376.3,188.3 374.9,188.8C373.4,189.4 371.2,189.0 369.6,188.7C367.9,188.5 366.0,188.2 364.9,187.4C363.8,186.5 363.6,185.1 362.9,183.9C362.2,182.8 360.9,181.6 360.9,180.4C361.0,179.1 362.0,177.6 363.1,176.5C364.1,175.4 365.6,174.3 367.1,173.9C368.6,173.5 370.3,174.0 371.9,173.9C373.4,173.9 374.8,173.4 376.4,173.5C378.0,173.6 380.6,173.8 381.5,174.6C382.4,175.5 381.9,177.4 381.9,178.8Z" fill="url(#tg17)" />
<path d="M423.3,177.6C423.3,179.1 423.6,180.9 422.7,182.0C421.8,183.0 419.4,183.1 418.0,184.0C416.5,184.9 415.6,186.8 413.9,187.2C412.3,187.6 410.0,187.2 408.3,186.7C406.5,186.2 404.4,185.3 403.4,184.2C402.3,183.0 401.9,181.1 401.8,179.7C401.8,178.3 402.6,177.1 402.9,175.7C403.2,174.3 402.7,172.1 403.7,171.3C404.8,170.5 407.6,171.1 409.3,170.8C411.0,170.4 412.4,168.9 413.8,169.0C415.2,169.1 416.2,170.8 417.7,171.5C419.2,172.2 421.8,172.2 422.8,173.2C423.7,174.3 423.3,176.1 423.3,177.6Z" fill="url(#tg18)" />
<path d="M450.2,178.4C450.0,179.7 449.8,181.0 449.3,182.0C448.9,183.0 448.0,183.7 447.2,184.5C446.4,185.3 445.5,186.5 444.6,186.7C443.7,186.8 442.5,186.0 441.7,185.3C440.9,184.7 440.5,183.6 439.8,182.8C439.1,182.0 437.6,181.3 437.5,180.3C437.3,179.3 438.6,178.2 438.8,176.9C438.9,175.6 437.9,173.5 438.3,172.5C438.8,171.4 440.4,170.8 441.4,170.8C442.5,170.7 443.5,171.7 444.4,172.1C445.3,172.4 446.0,172.5 446.9,172.8C447.9,173.2 449.7,173.3 450.2,174.3C450.8,175.2 450.3,177.1 450.2,178.4Z" fill="url(#tg19)" />
<path d="M485.0,178.0C485.1,179.4 484.7,181.4 483.7,182.4C482.7,183.4 480.4,183.3 479.1,183.8C477.8,184.3 477.1,185.3 475.9,185.5C474.8,185.7 473.5,185.4 472.2,185.1C470.9,184.9 468.9,184.9 467.9,184.0C467.0,183.2 466.8,181.4 466.6,180.0C466.3,178.7 466.1,177.3 466.3,175.9C466.6,174.6 467.0,172.9 467.9,171.9C468.8,170.9 470.4,170.4 471.8,169.9C473.2,169.4 474.9,168.3 476.2,168.6C477.4,169.0 478.1,171.2 479.2,172.1C480.4,173.0 482.0,173.0 483.0,173.9C484.0,174.9 484.9,176.6 485.0,178.0Z" fill="url(#tg20)" />
<path d="M520.0,177.4C520.1,178.6 520.0,180.3 519.3,181.2C518.5,182.1 516.7,182.2 515.6,182.7C514.6,183.1 513.8,183.8 512.8,184.0C511.8,184.3 510.4,184.5 509.5,184.1C508.5,183.7 507.8,182.5 507.3,181.6C506.7,180.7 506.5,179.9 506.0,178.9C505.6,177.9 504.2,176.5 504.4,175.5C504.5,174.5 506.1,173.8 506.9,172.9C507.7,172.0 508.2,170.7 509.2,170.1C510.2,169.5 511.9,168.9 513.0,169.1C514.1,169.4 515.0,170.8 516.0,171.6C517.0,172.4 518.3,172.8 518.9,173.8C519.6,174.7 520.0,176.2 520.0,177.4Z" fill="url(#tg21)" />
<path d="M548.8,175.6C548.7,176.6 547.8,177.7 547.2,178.5C546.6,179.3 545.8,179.8 545.0,180.4C544.3,181.0 543.6,182.0 542.7,182.2C541.9,182.4 540.9,181.7 539.9,181.5C538.9,181.3 537.1,181.5 536.6,180.8C536.0,180.0 536.7,178.1 536.6,177.0C536.6,175.9 536.1,175.0 536.3,174.1C536.5,173.2 537.2,172.3 537.8,171.6C538.4,170.9 539.2,170.5 540.0,170.0C540.9,169.4 541.8,168.3 542.8,168.2C543.9,168.0 545.4,168.4 546.2,169.1C547.0,169.8 547.1,171.4 547.5,172.5C548.0,173.6 548.8,174.6 548.8,175.6Z" fill="url(#tg22)" />
<path d="M575.3,175.3C575.4,176.2 575.3,177.2 575.1,178.2C574.9,179.3 574.8,181.2 574.1,181.8C573.4,182.4 571.8,181.9 570.7,182.0C569.7,182.0 568.5,182.4 567.7,181.9C566.9,181.4 566.6,180.0 566.0,179.2C565.4,178.4 564.3,177.7 564.2,176.9C564.0,176.0 565.0,175.1 565.1,174.0C565.2,172.9 564.3,170.9 564.8,170.2C565.3,169.5 567.0,170.1 568.0,169.7C569.1,169.2 570.0,167.6 570.8,167.7C571.7,167.8 572.6,169.3 573.3,170.1C573.9,170.9 574.4,171.7 574.7,172.6C575.1,173.5 575.2,174.4 575.3,175.3Z" fill="url(#tg23)" />
</g>
<text x="0.00" y="0.00" font-size="13.4" font-weight="normal" text-anchor="start" fill="#000" stroke="#000" stroke-width="0.35" transform="translate(326.90,65.80) rotate(-52)">OE</text>
<text x="0.00" y="0.00" font-size="13.4" font-weight="normal" text-anchor="start" fill="#000" stroke="#000" stroke-width="0.35" transform="translate(364.30,64.80) rotate(-52)">OE+Cu</text>
<text x="0.00" y="0.00" font-size="13.4" font-weight="normal" text-anchor="start" fill="#000" stroke="#000" stroke-width="0.35" transform="translate(406.40,65.80) rotate(-52)">NC</text>
<text x="0.00" y="0.00" font-size="13.4" font-weight="normal" text-anchor="start" fill="#000" stroke="#000" stroke-width="0.35" transform="translate(440.20,65.40) rotate(-52)">NC+Cu</text>
<text x="0.00" y="0.00" font-size="13.4" font-weight="normal" text-anchor="start" fill="#000" stroke="#000" stroke-width="0.35" transform="translate(477.60,66.30) rotate(-52)">Sh+OE</text>
<text x="0.00" y="0.00" font-size="13.4" font-weight="normal" text-anchor="start" fill="#000" stroke="#000" stroke-width="0.35" transform="translate(510.80,65.40) rotate(-52)">Sh+OE+Cu</text>
<text x="0.00" y="0.00" font-size="13.4" font-weight="normal" text-anchor="start" fill="#000" stroke="#000" stroke-width="0.35" transform="translate(543.40,65.40) rotate(-52)">Sh</text>
<text x="0.00" y="0.00" font-size="13.4" font-weight="normal" text-anchor="start" fill="#000" stroke="#000" stroke-width="0.35" transform="translate(576.20,65.80) rotate(-52)">Sh+Cu</text>
<text x="0.00" y="0.00" font-size="20" font-weight="bold" text-anchor="start" fill="#000" transform="translate(46.6,43.0) scale(0.97,1)">A</text>
<text x="0.00" y="0.00" font-size="20" font-weight="bold" text-anchor="start" fill="#000" transform="translate(284.8,42.9) scale(0.88,1)">B</text>
<text x="0.00" y="0.00" font-size="19.8" font-weight="bold" text-anchor="start" fill="#000" transform="translate(97.4,231.7) scale(0.93,1)">C</text>
<text x="0.00" y="0.00" font-size="19.6" font-weight="bold" text-anchor="start" fill="#000" transform="translate(97.2,372.1) scale(1.0,1)">D</text>
<text x="0.00" y="0.00" font-size="20" font-weight="bold" text-anchor="start" fill="#000" transform="translate(97.7,515.8) scale(0.8,1)">E</text>
<text x="0.00" y="0.00" font-size="20" font-weight="bold" text-anchor="start" fill="#000" transform="translate(97.7,672.7) scale(0.82,1)">F</text>
<text x="0.00" y="0.00" font-size="20" font-weight="bold" text-anchor="start" fill="#000" transform="translate(10.2,837.4) scale(0.93,1)">G</text>
<line x1="136.30" y1="239.60" x2="136.30" y2="335.00" stroke="#1a1a1a" stroke-width="1.1" />
<line x1="135.80" y1="334.50" x2="277.80" y2="334.50" stroke="#1a1a1a" stroke-width="1.1" />
<line x1="132.90" y1="334.50" x2="136.30" y2="334.50" stroke="#1a1a1a" stroke-width="1.0" />
<text x="131.90" y="337.00" font-size="7.1" font-weight="bold" text-anchor="end" fill="#222"  stroke="#222" stroke-width="0.22">13</text>
<line x1="132.90" y1="318.68" x2="136.30" y2="318.68" stroke="#1a1a1a" stroke-width="1.0" />
<text x="131.90" y="321.18" font-size="7.1" font-weight="bold" text-anchor="end" fill="#222"  stroke="#222" stroke-width="0.22">14</text>
<line x1="132.90" y1="302.87" x2="136.30" y2="302.87" stroke="#1a1a1a" stroke-width="1.0" />
<text x="131.90" y="305.37" font-size="7.1" font-weight="bold" text-anchor="end" fill="#222"  stroke="#222" stroke-width="0.22">15</text>
<line x1="132.90" y1="287.05" x2="136.30" y2="287.05" stroke="#1a1a1a" stroke-width="1.0" />
<text x="131.90" y="289.55" font-size="7.1" font-weight="bold" text-anchor="end" fill="#222"  stroke="#222" stroke-width="0.22">16</text>
<line x1="132.90" y1="271.23" x2="136.30" y2="271.23" stroke="#1a1a1a" stroke-width="1.0" />
<text x="131.90" y="273.73" font-size="7.1" font-weight="bold" text-anchor="end" fill="#222"  stroke="#222" stroke-width="0.22">17</text>
<line x1="132.90" y1="255.42" x2="136.30" y2="255.42" stroke="#1a1a1a" stroke-width="1.0" />
<text x="131.90" y="257.92" font-size="7.1" font-weight="bold" text-anchor="end" fill="#222"  stroke="#222" stroke-width="0.22">18</text>
<line x1="132.90" y1="239.60" x2="136.30" y2="239.60" stroke="#1a1a1a" stroke-width="1.0" />
<text x="131.90" y="242.10" font-size="7.1" font-weight="bold" text-anchor="end" fill="#222"  stroke="#222" stroke-width="0.22">19</text>
<line x1="154.00" y1="334.50" x2="154.00" y2="338.10" stroke="#1a1a1a" stroke-width="1.0" />
<text x="154.00" y="345.80" font-size="6.5" font-weight="bold" text-anchor="middle" fill="#222"  stroke="#222" stroke-width="0.22">0</text>
<line x1="180.72" y1="334.50" x2="180.72" y2="338.10" stroke="#1a1a1a" stroke-width="1.0" />
<text x="180.72" y="345.80" font-size="6.5" font-weight="bold" text-anchor="middle" fill="#222"  stroke="#222" stroke-width="0.22">7</text>
<line x1="207.45" y1="334.50" x2="207.45" y2="338.10" stroke="#1a1a1a" stroke-width="1.0" />
<text x="207.45" y="345.80" font-size="6.5" font-weight="bold" text-anchor="middle" fill="#222"  stroke="#222" stroke-width="0.22">14</text>
<line x1="234.17" y1="334.50" x2="234.17" y2="338.10" stroke="#1a1a1a" stroke-width="1.0" />
<text x="234.17" y="345.80" font-size="6.5" font-weight="bold" text-anchor="middle" fill="#222"  stroke="#222" stroke-width="0.22">21</text>
<line x1="260.90" y1="334.50" x2="260.90" y2="338.10" stroke="#1a1a1a" stroke-width="1.0" />
<text x="260.90" y="345.80" font-size="6.5" font-weight="bold" text-anchor="middle" fill="#222"  stroke="#222" stroke-width="0.22">28</text>
<text x="207.30" y="357.70" font-size="7.8" font-weight="bold" text-anchor="middle" fill="#222"  stroke="#222" stroke-width="0.28">Time(Day)</text>
<text x="0.00" y="0.00" font-size="8.0" font-weight="bold" text-anchor="middle" fill="#222" transform="translate(116.0,287.05) rotate(-90)" stroke="#222" stroke-width="0.28">body weight(g)</text>
<polyline points="154.00,312.36 180.72,293.38 207.45,258.58 234.17,249.09 260.90,282.15" fill="none" stroke="#8a8a8a" stroke-width="1.0"/>
<line x1="154.00" y1="314.25" x2="154.00" y2="310.46" stroke="#aaa" stroke-width="0.8" />
<line x1="152.20" y1="310.46" x2="155.80" y2="310.46" stroke="#aaa" stroke-width="0.8" />
<line x1="152.20" y1="314.25" x2="155.80" y2="314.25" stroke="#aaa" stroke-width="0.8" />
<rect x="152.10" y="310.46" width="3.80" height="3.80" fill="#8a8a8a" stroke="none" stroke-width="0" />
<line x1="180.72" y1="297.33" x2="180.72" y2="289.42" stroke="#aaa" stroke-width="0.8" />
<line x1="178.92" y1="289.42" x2="182.53" y2="289.42" stroke="#aaa" stroke-width="0.8" />
<line x1="178.92" y1="297.33" x2="182.53" y2="297.33" stroke="#aaa" stroke-width="0.8" />
<rect x="178.82" y="291.48" width="3.80" height="3.80" fill="#8a8a8a" stroke="none" stroke-width="0" />
<line x1="207.45" y1="262.53" x2="207.45" y2="254.63" stroke="#aaa" stroke-width="0.8" />
<line x1="205.65" y1="254.63" x2="209.25" y2="254.63" stroke="#aaa" stroke-width="0.8" />
<line x1="205.65" y1="262.53" x2="209.25" y2="262.53" stroke="#aaa" stroke-width="0.8" />
<rect x="205.55" y="256.68" width="3.80" height="3.80" fill="#8a8a8a" stroke="none" stroke-width="0" />
<line x1="234.17" y1="250.36" x2="234.17" y2="247.82" stroke="#aaa" stroke-width="0.8" />
<line x1="232.37" y1="247.82" x2="235.97" y2="247.82" stroke="#aaa" stroke-width="0.8" />
<line x1="232.37" y1="250.36" x2="235.97" y2="250.36" stroke="#aaa" stroke-width="0.8" />
<rect x="232.27" y="247.19" width="3.80" height="3.80" fill="#8a8a8a" stroke="none" stroke-width="0" />
<line x1="260.90" y1="283.73" x2="260.90" y2="280.57" stroke="#aaa" stroke-width="0.8" />
<line x1="259.10" y1="280.57" x2="262.70" y2="280.57" stroke="#aaa" stroke-width="0.8" />
<line x1="259.10" y1="283.73" x2="262.70" y2="283.73" stroke="#aaa" stroke-width="0.8" />
<rect x="259.00" y="280.25" width="3.80" height="3.80" fill="#8a8a8a" stroke="none" stroke-width="0" />
<polyline points="154.00,315.52 180.72,294.17 207.45,264.91 234.17,255.42 260.90,292.74" fill="none" stroke="#111" stroke-width="1.35"/>
<line x1="154.00" y1="318.68" x2="154.00" y2="312.36" stroke="#333" stroke-width="0.8" />
<line x1="152.20" y1="312.36" x2="155.80" y2="312.36" stroke="#333" stroke-width="0.8" />
<line x1="152.20" y1="318.68" x2="155.80" y2="318.68" stroke="#333" stroke-width="0.8" />
<circle cx="154.00" cy="315.52" r="2.05" fill="#000"/>
<line x1="180.72" y1="295.75" x2="180.72" y2="292.59" stroke="#333" stroke-width="0.8" />
<line x1="178.92" y1="292.59" x2="182.53" y2="292.59" stroke="#333" stroke-width="0.8" />
<line x1="178.92" y1="295.75" x2="182.53" y2="295.75" stroke="#333" stroke-width="0.8" />
<circle cx="180.72" cy="294.17" r="2.05" fill="#000"/>
<circle cx="207.45" cy="264.91" r="2.05" fill="#000"/>
<circle cx="234.17" cy="255.42" r="2.05" fill="#000"/>
<line x1="260.90" y1="294.33" x2="260.90" y2="291.16" stroke="#333" stroke-width="0.8" />
<line x1="259.10" y1="291.16" x2="262.70" y2="291.16" stroke="#333" stroke-width="0.8" />
<line x1="259.10" y1="294.33" x2="262.70" y2="294.33" stroke="#333" stroke-width="0.8" />
<circle cx="260.90" cy="292.74" r="2.05" fill="#000"/>
<polygon points="260.90,275.45 261.40,276.13 262.24,276.23 261.90,277.00 262.24,277.77 261.40,277.87 260.90,278.55 260.40,277.87 259.56,277.77 259.90,277.00 259.56,276.23 260.40,276.13" fill="#000" stroke="#000" stroke-width="0.3" stroke-linejoin="round"/>
<line x1="300.60" y1="245.00" x2="310.60" y2="245.00" stroke="#111" stroke-width="1.3" />
<circle cx="305.6" cy="245.0" r="2.05" fill="#000"/>
<line x1="300.60" y1="255.80" x2="310.60" y2="255.80" stroke="#8a8a8a" stroke-width="1.0" />
<rect x="303.70" y="253.90" width="3.80" height="3.80" fill="#8a8a8a" stroke="none" stroke-width="0" />
<text x="316.00" y="247.20" font-size="6.3" font-weight="normal" text-anchor="start" fill="#333" stroke="#333" stroke-width="0.15">OE</text>
<text x="316.00" y="258.00" font-size="6.3" font-weight="normal" text-anchor="start" fill="#333" stroke="#333" stroke-width="0.15">OE+Cu</text>
<line x1="136.30" y1="386.00" x2="136.30" y2="480.70" stroke="#1a1a1a" stroke-width="1.1" />
<line x1="135.80" y1="480.20" x2="277.80" y2="480.20" stroke="#1a1a1a" stroke-width="1.1" />
<line x1="132.90" y1="480.20" x2="136.30" y2="480.20" stroke="#1a1a1a" stroke-width="1.0" />
<text x="131.90" y="482.70" font-size="7.1" font-weight="bold" text-anchor="end" fill="#222"  stroke="#222" stroke-width="0.22">14</text>
<line x1="132.90" y1="461.36" x2="136.30" y2="461.36" stroke="#1a1a1a" stroke-width="1.0" />
<text x="131.90" y="463.86" font-size="7.1" font-weight="bold" text-anchor="end" fill="#222"  stroke="#222" stroke-width="0.22">15</text>
<line x1="132.90" y1="442.52" x2="136.30" y2="442.52" stroke="#1a1a1a" stroke-width="1.0" />
<text x="131.90" y="445.02" font-size="7.1" font-weight="bold" text-anchor="end" fill="#222"  stroke="#222" stroke-width="0.22">16</text>
<line x1="132.90" y1="423.68" x2="136.30" y2="423.68" stroke="#1a1a1a" stroke-width="1.0" />
<text x="131.90" y="426.18" font-size="7.1" font-weight="bold" text-anchor="end" fill="#222"  stroke="#222" stroke-width="0.22">17</text>
<line x1="132.90" y1="404.84" x2="136.30" y2="404.84" stroke="#1a1a1a" stroke-width="1.0" />
<text x="131.90" y="407.34" font-size="7.1" font-weight="bold" text-anchor="end" fill="#222"  stroke="#222" stroke-width="0.22">18</text>
<line x1="132.90" y1="386.00" x2="136.30" y2="386.00" stroke="#1a1a1a" stroke-width="1.0" />
<text x="131.90" y="388.50" font-size="7.1" font-weight="bold" text-anchor="end" fill="#222"  stroke="#222" stroke-width="0.22">19</text>
<line x1="153.80" y1="480.20" x2="153.80" y2="483.80" stroke="#1a1a1a" stroke-width="1.0" />
<text x="153.80" y="491.50" font-size="6.5" font-weight="bold" text-anchor="middle" fill="#222"  stroke="#222" stroke-width="0.22">0</text>
<line x1="180.68" y1="480.20" x2="180.68" y2="483.80" stroke="#1a1a1a" stroke-width="1.0" />
<text x="180.68" y="491.50" font-size="6.5" font-weight="bold" text-anchor="middle" fill="#222"  stroke="#222" stroke-width="0.22">7</text>
<line x1="207.55" y1="480.20" x2="207.55" y2="483.80" stroke="#1a1a1a" stroke-width="1.0" />
<text x="207.55" y="491.50" font-size="6.5" font-weight="bold" text-anchor="middle" fill="#222"  stroke="#222" stroke-width="0.22">14</text>
<line x1="234.43" y1="480.20" x2="234.43" y2="483.80" stroke="#1a1a1a" stroke-width="1.0" />
<text x="234.43" y="491.50" font-size="6.5" font-weight="bold" text-anchor="middle" fill="#222"  stroke="#222" stroke-width="0.22">21</text>
<line x1="261.30" y1="480.20" x2="261.30" y2="483.80" stroke="#1a1a1a" stroke-width="1.0" />
<text x="261.30" y="491.50" font-size="6.5" font-weight="bold" text-anchor="middle" fill="#222"  stroke="#222" stroke-width="0.22">28</text>
<text x="207.30" y="503.40" font-size="7.8" font-weight="bold" text-anchor="middle" fill="#222"  stroke="#222" stroke-width="0.28">Time(Day)</text>
<text x="0.00" y="0.00" font-size="8.0" font-weight="bold" text-anchor="middle" fill="#222" transform="translate(116.0,433.10) rotate(-90)" stroke="#222" stroke-width="0.28">body weight(g)</text>
<polyline points="153.80,470.78 180.68,451.00 207.55,413.32 234.43,396.36 261.30,431.22" fill="none" stroke="#8a8a8a" stroke-width="1.0"/>
<line x1="153.80" y1="472.29" x2="153.80" y2="469.27" stroke="#aaa" stroke-width="0.8" />
<line x1="152.00" y1="469.27" x2="155.60" y2="469.27" stroke="#aaa" stroke-width="0.8" />
<line x1="152.00" y1="472.29" x2="155.60" y2="472.29" stroke="#aaa" stroke-width="0.8" />
<rect x="151.90" y="468.88" width="3.80" height="3.80" fill="#8a8a8a" stroke="none" stroke-width="0" />
<line x1="180.68" y1="452.51" x2="180.68" y2="449.49" stroke="#aaa" stroke-width="0.8" />
<line x1="178.88" y1="449.49" x2="182.48" y2="449.49" stroke="#aaa" stroke-width="0.8" />
<line x1="178.88" y1="452.51" x2="182.48" y2="452.51" stroke="#aaa" stroke-width="0.8" />
<rect x="178.78" y="449.10" width="3.80" height="3.80" fill="#8a8a8a" stroke="none" stroke-width="0" />
<line x1="207.55" y1="414.83" x2="207.55" y2="411.81" stroke="#aaa" stroke-width="0.8" />
<line x1="205.75" y1="411.81" x2="209.35" y2="411.81" stroke="#aaa" stroke-width="0.8" />
<line x1="205.75" y1="414.83" x2="209.35" y2="414.83" stroke="#aaa" stroke-width="0.8" />
<rect x="205.65" y="411.42" width="3.80" height="3.80" fill="#8a8a8a" stroke="none" stroke-width="0" />
<line x1="234.43" y1="402.01" x2="234.43" y2="390.71" stroke="#aaa" stroke-width="0.8" />
<line x1="232.62" y1="390.71" x2="236.23" y2="390.71" stroke="#aaa" stroke-width="0.8" />
<line x1="232.62" y1="402.01" x2="236.23" y2="402.01" stroke="#aaa" stroke-width="0.8" />
<rect x="232.53" y="394.46" width="3.80" height="3.80" fill="#8a8a8a" stroke="none" stroke-width="0" />
<line x1="261.30" y1="437.81" x2="261.30" y2="424.62" stroke="#aaa" stroke-width="0.8" />
<line x1="259.50" y1="424.62" x2="263.10" y2="424.62" stroke="#aaa" stroke-width="0.8" />
<line x1="259.50" y1="437.81" x2="263.10" y2="437.81" stroke="#aaa" stroke-width="0.8" />
<rect x="259.40" y="429.32" width="3.80" height="3.80" fill="#8a8a8a" stroke="none" stroke-width="0" />
<polyline points="153.80,468.90 180.68,447.23 207.55,410.49 234.43,402.96 261.30,439.69" fill="none" stroke="#111" stroke-width="1.35"/>
<line x1="153.80" y1="469.84" x2="153.80" y2="467.95" stroke="#333" stroke-width="0.8" />
<line x1="152.00" y1="467.95" x2="155.60" y2="467.95" stroke="#333" stroke-width="0.8" />
<line x1="152.00" y1="469.84" x2="155.60" y2="469.84" stroke="#333" stroke-width="0.8" />
<circle cx="153.80" cy="468.90" r="2.05" fill="#000"/>
<line x1="180.68" y1="448.17" x2="180.68" y2="446.29" stroke="#333" stroke-width="0.8" />
<line x1="178.88" y1="446.29" x2="182.48" y2="446.29" stroke="#333" stroke-width="0.8" />
<line x1="178.88" y1="448.17" x2="182.48" y2="448.17" stroke="#333" stroke-width="0.8" />
<circle cx="180.68" cy="447.23" r="2.05" fill="#000"/>
<line x1="207.55" y1="411.43" x2="207.55" y2="409.55" stroke="#333" stroke-width="0.8" />
<line x1="205.75" y1="409.55" x2="209.35" y2="409.55" stroke="#333" stroke-width="0.8" />
<line x1="205.75" y1="411.43" x2="209.35" y2="411.43" stroke="#333" stroke-width="0.8" />
<circle cx="207.55" cy="410.49" r="2.05" fill="#000"/>
<line x1="234.43" y1="404.84" x2="234.43" y2="401.07" stroke="#333" stroke-width="0.8" />
<line x1="232.62" y1="401.07" x2="236.23" y2="401.07" stroke="#333" stroke-width="0.8" />
<line x1="232.62" y1="404.84" x2="236.23" y2="404.84" stroke="#333" stroke-width="0.8" />
<circle cx="234.43" cy="402.96" r="2.05" fill="#000"/>
<line x1="261.30" y1="441.58" x2="261.30" y2="437.81" stroke="#333" stroke-width="0.8" />
<line x1="259.50" y1="437.81" x2="263.10" y2="437.81" stroke="#333" stroke-width="0.8" />
<line x1="259.50" y1="441.58" x2="263.10" y2="441.58" stroke="#333" stroke-width="0.8" />
<circle cx="261.30" cy="439.69" r="2.05" fill="#000"/>
<line x1="300.60" y1="391.70" x2="310.60" y2="391.70" stroke="#111" stroke-width="1.3" />
<circle cx="305.6" cy="391.7" r="2.05" fill="#000"/>
<line x1="300.60" y1="403.90" x2="310.60" y2="403.90" stroke="#8a8a8a" stroke-width="1.0" />
<rect x="303.70" y="402.00" width="3.80" height="3.80" fill="#8a8a8a" stroke="none" stroke-width="0" />
<text x="316.00" y="393.90" font-size="6.3" font-weight="normal" text-anchor="start" fill="#333" stroke="#333" stroke-width="0.15">NC</text>
<text x="316.00" y="406.10" font-size="6.3" font-weight="normal" text-anchor="start" fill="#333" stroke="#333" stroke-width="0.15">NC+Cu</text>
<line x1="135.50" y1="531.80" x2="135.50" y2="627.20" stroke="#1a1a1a" stroke-width="1.1" />
<line x1="135.00" y1="626.70" x2="277.80" y2="626.70" stroke="#1a1a1a" stroke-width="1.1" />
<line x1="132.10" y1="626.70" x2="135.50" y2="626.70" stroke="#1a1a1a" stroke-width="1.0" />
<text x="131.10" y="629.20" font-size="7.1" font-weight="bold" text-anchor="end" fill="#222"  stroke="#222" stroke-width="0.22">12</text>
<line x1="132.10" y1="602.98" x2="135.50" y2="602.98" stroke="#1a1a1a" stroke-width="1.0" />
<text x="131.10" y="605.48" font-size="7.1" font-weight="bold" text-anchor="end" fill="#222"  stroke="#222" stroke-width="0.22">14</text>
<line x1="132.10" y1="579.25" x2="135.50" y2="579.25" stroke="#1a1a1a" stroke-width="1.0" />
<text x="131.10" y="581.75" font-size="7.1" font-weight="bold" text-anchor="end" fill="#222"  stroke="#222" stroke-width="0.22">16</text>
<line x1="132.10" y1="555.52" x2="135.50" y2="555.52" stroke="#1a1a1a" stroke-width="1.0" />
<text x="131.10" y="558.02" font-size="7.1" font-weight="bold" text-anchor="end" fill="#222"  stroke="#222" stroke-width="0.22">18</text>
<line x1="132.10" y1="531.80" x2="135.50" y2="531.80" stroke="#1a1a1a" stroke-width="1.0" />
<text x="131.10" y="534.30" font-size="7.1" font-weight="bold" text-anchor="end" fill="#222"  stroke="#222" stroke-width="0.22">20</text>
<line x1="152.80" y1="626.70" x2="152.80" y2="630.30" stroke="#1a1a1a" stroke-width="1.0" />
<text x="152.80" y="638.00" font-size="6.5" font-weight="bold" text-anchor="middle" fill="#222"  stroke="#222" stroke-width="0.22">0</text>
<line x1="179.70" y1="626.70" x2="179.70" y2="630.30" stroke="#1a1a1a" stroke-width="1.0" />
<text x="179.70" y="638.00" font-size="6.5" font-weight="bold" text-anchor="middle" fill="#222"  stroke="#222" stroke-width="0.22">7</text>
<line x1="206.60" y1="626.70" x2="206.60" y2="630.30" stroke="#1a1a1a" stroke-width="1.0" />
<text x="206.60" y="638.00" font-size="6.5" font-weight="bold" text-anchor="middle" fill="#222"  stroke="#222" stroke-width="0.22">14</text>
<line x1="233.50" y1="626.70" x2="233.50" y2="630.30" stroke="#1a1a1a" stroke-width="1.0" />
<text x="233.50" y="638.00" font-size="6.5" font-weight="bold" text-anchor="middle" fill="#222"  stroke="#222" stroke-width="0.22">21</text>
<line x1="260.40" y1="626.70" x2="260.40" y2="630.30" stroke="#1a1a1a" stroke-width="1.0" />
<text x="260.40" y="638.00" font-size="6.5" font-weight="bold" text-anchor="middle" fill="#222"  stroke="#222" stroke-width="0.22">28</text>
<text x="207.30" y="649.90" font-size="7.8" font-weight="bold" text-anchor="middle" fill="#222"  stroke="#222" stroke-width="0.28">Time(Day)</text>
<text x="0.00" y="0.00" font-size="8.0" font-weight="bold" text-anchor="middle" fill="#222" transform="translate(116.0,579.25) rotate(-90)" stroke="#222" stroke-width="0.28">body weight(g)</text>
<polyline points="152.80,599.42 179.70,586.37 206.60,559.08 233.50,549.59 260.40,569.17" fill="none" stroke="#8a8a8a" stroke-width="1.0"/>
<line x1="152.80" y1="601.20" x2="152.80" y2="597.64" stroke="#aaa" stroke-width="0.8" />
<line x1="151.00" y1="597.64" x2="154.60" y2="597.64" stroke="#aaa" stroke-width="0.8" />
<line x1="151.00" y1="601.20" x2="154.60" y2="601.20" stroke="#aaa" stroke-width="0.8" />
<circle cx="152.80" cy="599.42" r="1.8" fill="#8a8a8a"/>
<line x1="179.70" y1="587.55" x2="179.70" y2="585.18" stroke="#aaa" stroke-width="0.8" />
<line x1="177.90" y1="585.18" x2="181.50" y2="585.18" stroke="#aaa" stroke-width="0.8" />
<line x1="177.90" y1="587.55" x2="181.50" y2="587.55" stroke="#aaa" stroke-width="0.8" />
<circle cx="179.70" cy="586.37" r="1.8" fill="#8a8a8a"/>
<line x1="206.60" y1="560.27" x2="206.60" y2="557.90" stroke="#aaa" stroke-width="0.8" />
<line x1="204.80" y1="557.90" x2="208.40" y2="557.90" stroke="#aaa" stroke-width="0.8" />
<line x1="204.80" y1="560.27" x2="208.40" y2="560.27" stroke="#aaa" stroke-width="0.8" />
<circle cx="206.60" cy="559.08" r="1.8" fill="#8a8a8a"/>
<line x1="233.50" y1="551.37" x2="233.50" y2="547.81" stroke="#aaa" stroke-width="0.8" />
<line x1="231.70" y1="547.81" x2="235.30" y2="547.81" stroke="#aaa" stroke-width="0.8" />
<line x1="231.70" y1="551.37" x2="235.30" y2="551.37" stroke="#aaa" stroke-width="0.8" />
<circle cx="233.50" cy="549.59" r="1.8" fill="#8a8a8a"/>
<line x1="260.40" y1="572.73" x2="260.40" y2="565.61" stroke="#aaa" stroke-width="0.8" />
<line x1="258.60" y1="565.61" x2="262.20" y2="565.61" stroke="#aaa" stroke-width="0.8" />
<line x1="258.60" y1="572.73" x2="262.20" y2="572.73" stroke="#aaa" stroke-width="0.8" />
<circle cx="260.40" cy="569.17" r="1.8" fill="#8a8a8a"/>
<polyline points="152.80,600.60 179.70,587.55 206.60,563.83 233.50,554.93 260.40,581.03" fill="none" stroke="#111" stroke-width="1.35"/>
<line x1="152.80" y1="601.79" x2="152.80" y2="599.42" stroke="#333" stroke-width="0.8" />
<line x1="151.00" y1="599.42" x2="154.60" y2="599.42" stroke="#333" stroke-width="0.8" />
<line x1="151.00" y1="601.79" x2="154.60" y2="601.79" stroke="#333" stroke-width="0.8" />
<circle cx="152.80" cy="600.60" r="2.05" fill="#000"/>
<line x1="179.70" y1="588.74" x2="179.70" y2="586.37" stroke="#333" stroke-width="0.8" />
<line x1="177.90" y1="586.37" x2="181.50" y2="586.37" stroke="#333" stroke-width="0.8" />
<line x1="177.90" y1="588.74" x2="181.50" y2="588.74" stroke="#333" stroke-width="0.8" />
<circle cx="179.70" cy="587.55" r="2.05" fill="#000"/>
<line x1="206.60" y1="565.01" x2="206.60" y2="562.64" stroke="#333" stroke-width="0.8" />
<line x1="204.80" y1="562.64" x2="208.40" y2="562.64" stroke="#333" stroke-width="0.8" />
<line x1="204.80" y1="565.01" x2="208.40" y2="565.01" stroke="#333" stroke-width="0.8" />
<circle cx="206.60" cy="563.83" r="2.05" fill="#000"/>
<line x1="233.50" y1="556.12" x2="233.50" y2="553.75" stroke="#333" stroke-width="0.8" />
<line x1="231.70" y1="553.75" x2="235.30" y2="553.75" stroke="#333" stroke-width="0.8" />
<line x1="231.70" y1="556.12" x2="235.30" y2="556.12" stroke="#333" stroke-width="0.8" />
<circle cx="233.50" cy="554.93" r="2.05" fill="#000"/>
<line x1="260.40" y1="583.40" x2="260.40" y2="578.66" stroke="#333" stroke-width="0.8" />
<line x1="258.60" y1="578.66" x2="262.20" y2="578.66" stroke="#333" stroke-width="0.8" />
<line x1="258.60" y1="583.40" x2="262.20" y2="583.40" stroke="#333" stroke-width="0.8" />
<circle cx="260.40" cy="581.03" r="2.05" fill="#000"/>
<polygon points="233.50,542.95 234.00,543.63 234.84,543.73 234.50,544.50 234.84,545.27 234.00,545.37 233.50,546.05 233.00,545.37 232.16,545.27 232.50,544.50 232.16,543.73 233.00,543.63" fill="#000" stroke="#000" stroke-width="0.3" stroke-linejoin="round"/>
<polygon points="258.35,561.35 258.85,562.03 259.69,562.12 259.35,562.90 259.69,563.67 258.85,563.77 258.35,564.45 257.85,563.77 257.01,563.67 257.35,562.90 257.01,562.12 257.85,562.03" fill="#000" stroke="#000" stroke-width="0.3" stroke-linejoin="round"/>
<polygon points="262.45,561.35 262.95,562.03 263.79,562.12 263.45,562.90 263.79,563.67 262.95,563.77 262.45,564.45 261.95,563.77 261.11,563.67 261.45,562.90 261.11,562.12 261.95,562.03" fill="#000" stroke="#000" stroke-width="0.3" stroke-linejoin="round"/>
<line x1="300.60" y1="537.90" x2="310.60" y2="537.90" stroke="#111" stroke-width="1.3" />
<circle cx="305.6" cy="537.9" r="2.05" fill="#000"/>
<line x1="300.60" y1="549.30" x2="310.60" y2="549.30" stroke="#8a8a8a" stroke-width="1.0" />
<circle cx="305.60" cy="549.30" r="1.8" fill="#8a8a8a"/>
<text x="316.00" y="540.10" font-size="6.3" font-weight="normal" text-anchor="start" fill="#333" stroke="#333" stroke-width="0.15">Sh+OE</text>
<text x="316.00" y="551.50" font-size="6.3" font-weight="normal" text-anchor="start" fill="#333" stroke="#333" stroke-width="0.15">Sh+OE+Cu</text>
<line x1="135.50" y1="684.90" x2="135.50" y2="780.70" stroke="#1a1a1a" stroke-width="1.1" />
<line x1="135.00" y1="780.20" x2="277.80" y2="780.20" stroke="#1a1a1a" stroke-width="1.1" />
<line x1="132.10" y1="780.20" x2="135.50" y2="780.20" stroke="#1a1a1a" stroke-width="1.0" />
<text x="131.10" y="782.70" font-size="7.1" font-weight="bold" text-anchor="end" fill="#222"  stroke="#222" stroke-width="0.22">12</text>
<line x1="132.10" y1="756.38" x2="135.50" y2="756.38" stroke="#1a1a1a" stroke-width="1.0" />
<text x="131.10" y="758.88" font-size="7.1" font-weight="bold" text-anchor="end" fill="#222"  stroke="#222" stroke-width="0.22">14</text>
<line x1="132.10" y1="732.55" x2="135.50" y2="732.55" stroke="#1a1a1a" stroke-width="1.0" />
<text x="131.10" y="735.05" font-size="7.1" font-weight="bold" text-anchor="end" fill="#222"  stroke="#222" stroke-width="0.22">16</text>
<line x1="132.10" y1="708.73" x2="135.50" y2="708.73" stroke="#1a1a1a" stroke-width="1.0" />
<text x="131.10" y="711.23" font-size="7.1" font-weight="bold" text-anchor="end" fill="#222"  stroke="#222" stroke-width="0.22">18</text>
<line x1="132.10" y1="684.90" x2="135.50" y2="684.90" stroke="#1a1a1a" stroke-width="1.0" />
<text x="131.10" y="687.40" font-size="7.1" font-weight="bold" text-anchor="end" fill="#222"  stroke="#222" stroke-width="0.22">20</text>
<line x1="152.80" y1="780.20" x2="152.80" y2="783.80" stroke="#1a1a1a" stroke-width="1.0" />
<text x="152.80" y="791.50" font-size="6.5" font-weight="bold" text-anchor="middle" fill="#222"  stroke="#222" stroke-width="0.22">0</text>
<line x1="179.65" y1="780.20" x2="179.65" y2="783.80" stroke="#1a1a1a" stroke-width="1.0" />
<text x="179.65" y="791.50" font-size="6.5" font-weight="bold" text-anchor="middle" fill="#222"  stroke="#222" stroke-width="0.22">7</text>
<line x1="206.50" y1="780.20" x2="206.50" y2="783.80" stroke="#1a1a1a" stroke-width="1.0" />
<text x="206.50" y="791.50" font-size="6.5" font-weight="bold" text-anchor="middle" fill="#222"  stroke="#222" stroke-width="0.22">14</text>
<line x1="233.35" y1="780.20" x2="233.35" y2="783.80" stroke="#1a1a1a" stroke-width="1.0" />
<text x="233.35" y="791.50" font-size="6.5" font-weight="bold" text-anchor="middle" fill="#222"  stroke="#222" stroke-width="0.22">21</text>
<line x1="260.20" y1="780.20" x2="260.20" y2="783.80" stroke="#1a1a1a" stroke-width="1.0" />
<text x="260.20" y="791.50" font-size="6.5" font-weight="bold" text-anchor="middle" fill="#222"  stroke="#222" stroke-width="0.22">28</text>
<text x="207.30" y="803.40" font-size="7.8" font-weight="bold" text-anchor="middle" fill="#222"  stroke="#222" stroke-width="0.28">Time(Day)</text>
<text x="0.00" y="0.00" font-size="8.0" font-weight="bold" text-anchor="middle" fill="#222" transform="translate(116.0,732.55) rotate(-90)" stroke="#222" stroke-width="0.28">body weight(g)</text>
<polyline points="152.80,751.01 179.65,736.12 206.50,713.49 233.35,696.81 260.20,715.87" fill="none" stroke="#8a8a8a" stroke-width="1.0"/>
<line x1="152.80" y1="752.80" x2="152.80" y2="749.23" stroke="#aaa" stroke-width="0.8" />
<line x1="151.00" y1="749.23" x2="154.60" y2="749.23" stroke="#aaa" stroke-width="0.8" />
<line x1="151.00" y1="752.80" x2="154.60" y2="752.80" stroke="#aaa" stroke-width="0.8" />
<circle cx="152.80" cy="751.01" r="1.8" fill="#8a8a8a"/>
<line x1="179.65" y1="737.32" x2="179.65" y2="734.93" stroke="#aaa" stroke-width="0.8" />
<line x1="177.85" y1="734.93" x2="181.45" y2="734.93" stroke="#aaa" stroke-width="0.8" />
<line x1="177.85" y1="737.32" x2="181.45" y2="737.32" stroke="#aaa" stroke-width="0.8" />
<circle cx="179.65" cy="736.12" r="1.8" fill="#8a8a8a"/>
<line x1="206.50" y1="714.09" x2="206.50" y2="712.89" stroke="#aaa" stroke-width="0.8" />
<line x1="204.70" y1="712.89" x2="208.30" y2="712.89" stroke="#aaa" stroke-width="0.8" />
<line x1="204.70" y1="714.09" x2="208.30" y2="714.09" stroke="#aaa" stroke-width="0.8" />
<circle cx="206.50" cy="713.49" r="1.8" fill="#8a8a8a"/>
<line x1="233.35" y1="699.79" x2="233.35" y2="693.83" stroke="#aaa" stroke-width="0.8" />
<line x1="231.55" y1="693.83" x2="235.15" y2="693.83" stroke="#aaa" stroke-width="0.8" />
<line x1="231.55" y1="699.79" x2="235.15" y2="699.79" stroke="#aaa" stroke-width="0.8" />
<circle cx="233.35" cy="696.81" r="1.8" fill="#8a8a8a"/>
<line x1="260.20" y1="718.25" x2="260.20" y2="713.49" stroke="#aaa" stroke-width="0.8" />
<line x1="258.40" y1="713.49" x2="262.00" y2="713.49" stroke="#aaa" stroke-width="0.8" />
<line x1="258.40" y1="718.25" x2="262.00" y2="718.25" stroke="#aaa" stroke-width="0.8" />
<circle cx="260.20" cy="715.87" r="1.8" fill="#8a8a8a"/>
<polyline points="152.80,753.40 179.65,739.70 206.50,714.09 233.35,704.56 260.20,726.00" fill="none" stroke="#111" stroke-width="1.35"/>
<line x1="152.80" y1="754.59" x2="152.80" y2="752.21" stroke="#333" stroke-width="0.8" />
<line x1="151.00" y1="752.21" x2="154.60" y2="752.21" stroke="#333" stroke-width="0.8" />
<line x1="151.00" y1="754.59" x2="154.60" y2="754.59" stroke="#333" stroke-width="0.8" />
<circle cx="152.80" cy="753.40" r="2.05" fill="#000"/>
<line x1="179.65" y1="740.89" x2="179.65" y2="738.51" stroke="#333" stroke-width="0.8" />
<line x1="177.85" y1="738.51" x2="181.45" y2="738.51" stroke="#333" stroke-width="0.8" />
<line x1="177.85" y1="740.89" x2="181.45" y2="740.89" stroke="#333" stroke-width="0.8" />
<circle cx="179.65" cy="739.70" r="2.05" fill="#000"/>
<line x1="206.50" y1="714.68" x2="206.50" y2="713.49" stroke="#333" stroke-width="0.8" />
<line x1="204.70" y1="713.49" x2="208.30" y2="713.49" stroke="#333" stroke-width="0.8" />
<line x1="204.70" y1="714.68" x2="208.30" y2="714.68" stroke="#333" stroke-width="0.8" />
<circle cx="206.50" cy="714.09" r="2.05" fill="#000"/>
<line x1="233.35" y1="708.13" x2="233.35" y2="700.98" stroke="#333" stroke-width="0.8" />
<line x1="231.55" y1="700.98" x2="235.15" y2="700.98" stroke="#333" stroke-width="0.8" />
<line x1="231.55" y1="708.13" x2="235.15" y2="708.13" stroke="#333" stroke-width="0.8" />
<circle cx="233.35" cy="704.56" r="2.05" fill="#000"/>
<line x1="260.20" y1="728.98" x2="260.20" y2="723.02" stroke="#333" stroke-width="0.8" />
<line x1="258.40" y1="723.02" x2="262.00" y2="723.02" stroke="#333" stroke-width="0.8" />
<line x1="258.40" y1="728.98" x2="262.00" y2="728.98" stroke="#333" stroke-width="0.8" />
<circle cx="260.20" cy="726.00" r="2.05" fill="#000"/>
<line x1="300.60" y1="691.00" x2="310.60" y2="691.00" stroke="#111" stroke-width="1.3" />
<circle cx="305.6" cy="691.0" r="2.05" fill="#000"/>
<line x1="300.60" y1="703.10" x2="310.60" y2="703.10" stroke="#8a8a8a" stroke-width="1.0" />
<circle cx="305.60" cy="703.10" r="1.8" fill="#8a8a8a"/>
<text x="316.00" y="693.20" font-size="6.3" font-weight="normal" text-anchor="start" fill="#333" stroke="#333" stroke-width="0.15">Sh</text>
<text x="316.00" y="705.30" font-size="6.3" font-weight="normal" text-anchor="start" fill="#333" stroke="#333" stroke-width="0.15">Sh+Cu</text>
<rect x="405.40" y="251.14" width="18.40" height="83.76" fill="#000" stroke="#111" stroke-width="1.2" />
<line x1="414.60" y1="248.87" x2="414.60" y2="252.22" stroke="#1a2a44" stroke-width="1.0" />
<line x1="410.00" y1="248.87" x2="419.20" y2="248.87" stroke="#1a2a44" stroke-width="1.0" />
<line x1="410.00" y1="252.22" x2="419.20" y2="252.22" stroke="#3a4a60" stroke-width="1.0" />
<rect x="435.00" y="280.59" width="18.40" height="54.31" fill="#808080" stroke="#111" stroke-width="1.2" />
<line x1="444.20" y1="277.48" x2="444.20" y2="282.49" stroke="#222" stroke-width="1.0" />
<line x1="439.60" y1="277.48" x2="448.80" y2="277.48" stroke="#222" stroke-width="1.0" />
<line x1="439.60" y1="282.49" x2="448.80" y2="282.49" stroke="#222" stroke-width="1.0" />
<line x1="394.50" y1="230.50" x2="394.50" y2="335.40" stroke="#1a1a1a" stroke-width="1.2" />
<line x1="394.00" y1="334.90" x2="465.00" y2="334.90" stroke="#1a1a1a" stroke-width="1.2" />
<line x1="390.30" y1="334.90" x2="394.50" y2="334.90" stroke="#1a1a1a" stroke-width="1.1" />
<text x="389.50" y="337.70" font-size="7.9" font-weight="bold" text-anchor="end" fill="#2a2a2a"  stroke="#2a2a2a" stroke-width="0.28">0</text>
<line x1="390.30" y1="314.02" x2="394.50" y2="314.02" stroke="#1a1a1a" stroke-width="1.1" />
<text x="389.50" y="316.82" font-size="7.9" font-weight="bold" text-anchor="end" fill="#2a2a2a"  stroke="#2a2a2a" stroke-width="0.28">100</text>
<line x1="390.30" y1="293.14" x2="394.50" y2="293.14" stroke="#1a1a1a" stroke-width="1.1" />
<text x="389.50" y="295.94" font-size="7.9" font-weight="bold" text-anchor="end" fill="#2a2a2a"  stroke="#2a2a2a" stroke-width="0.28">200</text>
<line x1="390.30" y1="272.26" x2="394.50" y2="272.26" stroke="#1a1a1a" stroke-width="1.1" />
<text x="389.50" y="275.06" font-size="7.9" font-weight="bold" text-anchor="end" fill="#2a2a2a"  stroke="#2a2a2a" stroke-width="0.28">300</text>
<line x1="390.30" y1="251.38" x2="394.50" y2="251.38" stroke="#1a1a1a" stroke-width="1.1" />
<text x="389.50" y="254.18" font-size="7.9" font-weight="bold" text-anchor="end" fill="#2a2a2a"  stroke="#2a2a2a" stroke-width="0.28">400</text>
<line x1="390.30" y1="230.50" x2="394.50" y2="230.50" stroke="#1a1a1a" stroke-width="1.1" />
<text x="389.50" y="233.30" font-size="7.9" font-weight="bold" text-anchor="end" fill="#2a2a2a"  stroke="#2a2a2a" stroke-width="0.28">500</text>
<line x1="414.60" y1="334.90" x2="414.60" y2="338.90" stroke="#1a1a1a" stroke-width="1.1" />
<line x1="444.20" y1="334.90" x2="444.20" y2="338.90" stroke="#1a1a1a" stroke-width="1.1" />
<polyline points="414.40,244.80 414.40,239.00 444.50,239.00 444.50,273.00" fill="none" stroke="#8a8a8a" stroke-width="1.0"/>
<polygon points="422.40,229.10 423.28,230.28 424.74,230.45 424.15,231.80 424.74,233.15 423.28,233.32 422.40,234.50 421.53,233.32 420.06,233.15 420.65,231.80 420.06,230.45 421.53,230.28" fill="#000" stroke="#000" stroke-width="0.3" stroke-linejoin="round"/>
<polygon points="428.55,229.10 429.43,230.28 430.89,230.45 430.30,231.80 430.89,233.15 429.43,233.32 428.55,234.50 427.68,233.32 426.21,233.15 426.80,231.80 426.21,230.45 427.68,230.28" fill="#000" stroke="#000" stroke-width="0.3" stroke-linejoin="round"/>
<polygon points="434.70,229.10 435.58,230.28 437.04,230.45 436.45,231.80 437.04,233.15 435.58,233.32 434.70,234.50 433.83,233.32 432.36,233.15 432.95,231.80 432.36,230.45 433.83,230.28" fill="#000" stroke="#000" stroke-width="0.3" stroke-linejoin="round"/>
<text x="414.60" y="347.10" font-size="7.0" font-weight="bold" text-anchor="middle" fill="#222"  stroke="#222" stroke-width="0.22">OE</text>
<text x="444.20" y="347.10" font-size="7.0" font-weight="bold" text-anchor="middle" fill="#222"  stroke="#222" stroke-width="0.22">OE+Cu</text>
<text font-size="8.3" font-weight="bold" text-anchor="middle" fill="#222" stroke="#222" stroke-width="0.25" transform="translate(369.90,282.70) rotate(-90)">Tumor volume(mm<tspan font-size="5.6" dy="-3">3</tspan><tspan dy="3">)</tspan></text>
<rect x="529.20" y="253.21" width="18.40" height="80.99" fill="#000" stroke="#111" stroke-width="1.2" />
<line x1="538.40" y1="250.52" x2="538.40" y2="254.70" stroke="#1a2a44" stroke-width="1.0" />
<line x1="533.80" y1="250.52" x2="543.00" y2="250.52" stroke="#1a2a44" stroke-width="1.0" />
<line x1="533.80" y1="254.70" x2="543.00" y2="254.70" stroke="#3a4a60" stroke-width="1.0" />
<rect x="558.90" y="283.13" width="18.10" height="51.07" fill="#808080" stroke="#111" stroke-width="1.2" />
<line x1="567.95" y1="279.60" x2="567.95" y2="285.46" stroke="#222" stroke-width="1.0" />
<line x1="563.35" y1="279.60" x2="572.55" y2="279.60" stroke="#222" stroke-width="1.0" />
<line x1="563.35" y1="285.46" x2="572.55" y2="285.46" stroke="#222" stroke-width="1.0" />
<line x1="517.10" y1="229.60" x2="517.10" y2="334.70" stroke="#1a1a1a" stroke-width="1.2" />
<line x1="516.60" y1="334.20" x2="587.20" y2="334.20" stroke="#1a1a1a" stroke-width="1.2" />
<line x1="512.90" y1="334.20" x2="517.10" y2="334.20" stroke="#1a1a1a" stroke-width="1.1" />
<text x="512.10" y="337.00" font-size="7.9" font-weight="bold" text-anchor="end" fill="#2a2a2a"  stroke="#2a2a2a" stroke-width="0.28">0</text>
<line x1="512.90" y1="313.28" x2="517.10" y2="313.28" stroke="#1a1a1a" stroke-width="1.1" />
<text x="512.10" y="316.08" font-size="7.9" font-weight="bold" text-anchor="end" fill="#2a2a2a"  stroke="#2a2a2a" stroke-width="0.28">100</text>
<line x1="512.90" y1="292.36" x2="517.10" y2="292.36" stroke="#1a1a1a" stroke-width="1.1" />
<text x="512.10" y="295.16" font-size="7.9" font-weight="bold" text-anchor="end" fill="#2a2a2a"  stroke="#2a2a2a" stroke-width="0.28">200</text>
<line x1="512.90" y1="271.44" x2="517.10" y2="271.44" stroke="#1a1a1a" stroke-width="1.1" />
<text x="512.10" y="274.24" font-size="7.9" font-weight="bold" text-anchor="end" fill="#2a2a2a"  stroke="#2a2a2a" stroke-width="0.28">300</text>
<line x1="512.90" y1="250.52" x2="517.10" y2="250.52" stroke="#1a1a1a" stroke-width="1.1" />
<text x="512.10" y="253.32" font-size="7.9" font-weight="bold" text-anchor="end" fill="#2a2a2a"  stroke="#2a2a2a" stroke-width="0.28">400</text>
<line x1="512.90" y1="229.60" x2="517.10" y2="229.60" stroke="#1a1a1a" stroke-width="1.1" />
<text x="512.10" y="232.40" font-size="7.9" font-weight="bold" text-anchor="end" fill="#2a2a2a"  stroke="#2a2a2a" stroke-width="0.28">500</text>
<line x1="538.40" y1="334.20" x2="538.40" y2="338.20" stroke="#1a1a1a" stroke-width="1.1" />
<line x1="567.95" y1="334.20" x2="567.95" y2="338.20" stroke="#1a1a1a" stroke-width="1.1" />
<polyline points="538.40,249.00 538.40,242.80 568.00,242.80 568.00,279.60" fill="none" stroke="#8a8a8a" stroke-width="1.0"/>
<polygon points="546.35,232.60 547.23,233.78 548.69,233.95 548.10,235.30 548.69,236.65 547.23,236.82 546.35,238.00 545.48,236.82 544.01,236.65 544.60,235.30 544.01,233.95 545.48,233.78" fill="#000" stroke="#000" stroke-width="0.3" stroke-linejoin="round"/>
<polygon points="552.50,232.60 553.38,233.78 554.84,233.95 554.25,235.30 554.84,236.65 553.38,236.82 552.50,238.00 551.62,236.82 550.16,236.65 550.75,235.30 550.16,233.95 551.62,233.78" fill="#000" stroke="#000" stroke-width="0.3" stroke-linejoin="round"/>
<polygon points="558.65,232.60 559.52,233.78 560.99,233.95 560.40,235.30 560.99,236.65 559.52,236.82 558.65,238.00 557.77,236.82 556.31,236.65 556.90,235.30 556.31,233.95 557.77,233.78" fill="#000" stroke="#000" stroke-width="0.3" stroke-linejoin="round"/>
<text x="538.40" y="346.40" font-size="7.0" font-weight="bold" text-anchor="middle" fill="#222"  stroke="#222" stroke-width="0.22">OE</text>
<text x="567.95" y="346.40" font-size="7.0" font-weight="bold" text-anchor="middle" fill="#222"  stroke="#222" stroke-width="0.22">OE+Cu</text>
<text font-size="8.3" font-weight="bold" text-anchor="middle" fill="#222" stroke="#222" stroke-width="0.25" transform="translate(493.10,281.90) rotate(-90)">Tumor weight (mg)</text>
<rect x="405.40" y="405.35" width="18.40" height="71.75" fill="#000" stroke="#111" stroke-width="1.2" />
<line x1="414.60" y1="399.55" x2="414.60" y2="409.96" stroke="#1a2a44" stroke-width="1.0" />
<line x1="410.00" y1="399.55" x2="419.20" y2="399.55" stroke="#1a2a44" stroke-width="1.0" />
<line x1="410.00" y1="409.96" x2="419.20" y2="409.96" stroke="#3a4a60" stroke-width="1.0" />
<rect x="435.00" y="423.05" width="18.40" height="54.05" fill="#808080" stroke="#111" stroke-width="1.2" />
<line x1="444.20" y1="413.86" x2="444.20" y2="431.04" stroke="#222" stroke-width="1.0" />
<line x1="439.60" y1="413.86" x2="448.80" y2="413.86" stroke="#222" stroke-width="1.0" />
<line x1="439.60" y1="431.04" x2="448.80" y2="431.04" stroke="#222" stroke-width="1.0" />
<line x1="394.00" y1="373.00" x2="394.00" y2="477.60" stroke="#1a1a1a" stroke-width="1.2" />
<line x1="393.50" y1="477.10" x2="464.70" y2="477.10" stroke="#1a1a1a" stroke-width="1.2" />
<line x1="389.80" y1="477.10" x2="394.00" y2="477.10" stroke="#1a1a1a" stroke-width="1.1" />
<text x="389.00" y="479.90" font-size="7.9" font-weight="bold" text-anchor="end" fill="#2a2a2a"  stroke="#2a2a2a" stroke-width="0.28">0</text>
<line x1="389.80" y1="451.08" x2="394.00" y2="451.08" stroke="#1a1a1a" stroke-width="1.1" />
<text x="389.00" y="453.88" font-size="7.9" font-weight="bold" text-anchor="end" fill="#2a2a2a"  stroke="#2a2a2a" stroke-width="0.28">100</text>
<line x1="389.80" y1="425.05" x2="394.00" y2="425.05" stroke="#1a1a1a" stroke-width="1.1" />
<text x="389.00" y="427.85" font-size="7.9" font-weight="bold" text-anchor="end" fill="#2a2a2a"  stroke="#2a2a2a" stroke-width="0.28">200</text>
<line x1="389.80" y1="399.02" x2="394.00" y2="399.02" stroke="#1a1a1a" stroke-width="1.1" />
<text x="389.00" y="401.82" font-size="7.9" font-weight="bold" text-anchor="end" fill="#2a2a2a"  stroke="#2a2a2a" stroke-width="0.28">300</text>
<line x1="389.80" y1="373.00" x2="394.00" y2="373.00" stroke="#1a1a1a" stroke-width="1.1" />
<text x="389.00" y="375.80" font-size="7.9" font-weight="bold" text-anchor="end" fill="#2a2a2a"  stroke="#2a2a2a" stroke-width="0.28">400</text>
<line x1="414.60" y1="477.10" x2="414.60" y2="481.10" stroke="#1a1a1a" stroke-width="1.1" />
<line x1="444.20" y1="477.10" x2="444.20" y2="481.10" stroke="#1a1a1a" stroke-width="1.1" />
<polyline points="414.40,395.70 414.40,390.30 443.75,390.30 443.75,410.00" fill="none" stroke="#8a8a8a" stroke-width="1.0"/>
<polygon points="428.80,379.85 429.68,381.03 431.14,381.20 430.55,382.55 431.14,383.90 429.68,384.07 428.80,385.25 427.93,384.07 426.46,383.90 427.05,382.55 426.46,381.20 427.93,381.03" fill="#000" stroke="#000" stroke-width="0.3" stroke-linejoin="round"/>
<text x="414.60" y="489.30" font-size="7.0" font-weight="bold" text-anchor="middle" fill="#222"  stroke="#222" stroke-width="0.22">NC</text>
<text x="444.20" y="489.30" font-size="7.0" font-weight="bold" text-anchor="middle" fill="#222"  stroke="#222" stroke-width="0.22">NC+Cu</text>
<text font-size="8.3" font-weight="bold" text-anchor="middle" fill="#222" stroke="#222" stroke-width="0.25" transform="translate(369.40,425.05) rotate(-90)">Tumor volume(mm<tspan font-size="5.6" dy="-3">3</tspan><tspan dy="3">)</tspan></text>
<rect x="529.20" y="386.43" width="18.40" height="89.27" fill="#000" stroke="#111" stroke-width="1.2" />
<line x1="538.40" y1="378.91" x2="538.40" y2="392.74" stroke="#1a2a44" stroke-width="1.0" />
<line x1="533.80" y1="378.91" x2="543.00" y2="378.91" stroke="#1a2a44" stroke-width="1.0" />
<line x1="533.80" y1="392.74" x2="543.00" y2="392.74" stroke="#3a4a60" stroke-width="1.0" />
<rect x="558.90" y="407.17" width="18.10" height="68.53" fill="#808080" stroke="#111" stroke-width="1.2" />
<line x1="567.95" y1="396.20" x2="567.95" y2="416.94" stroke="#222" stroke-width="1.0" />
<line x1="563.35" y1="396.20" x2="572.55" y2="396.20" stroke="#222" stroke-width="1.0" />
<line x1="563.35" y1="416.94" x2="572.55" y2="416.94" stroke="#222" stroke-width="1.0" />
<line x1="517.10" y1="372.00" x2="517.10" y2="476.20" stroke="#1a1a1a" stroke-width="1.2" />
<line x1="516.60" y1="475.70" x2="587.20" y2="475.70" stroke="#1a1a1a" stroke-width="1.2" />
<line x1="512.90" y1="475.70" x2="517.10" y2="475.70" stroke="#1a1a1a" stroke-width="1.1" />
<text x="512.10" y="478.50" font-size="7.9" font-weight="bold" text-anchor="end" fill="#2a2a2a"  stroke="#2a2a2a" stroke-width="0.28">0</text>
<line x1="512.90" y1="441.13" x2="517.10" y2="441.13" stroke="#1a1a1a" stroke-width="1.1" />
<text x="512.10" y="443.93" font-size="7.9" font-weight="bold" text-anchor="end" fill="#2a2a2a"  stroke="#2a2a2a" stroke-width="0.28">100</text>
<line x1="512.90" y1="406.57" x2="517.10" y2="406.57" stroke="#1a1a1a" stroke-width="1.1" />
<text x="512.10" y="409.37" font-size="7.9" font-weight="bold" text-anchor="end" fill="#2a2a2a"  stroke="#2a2a2a" stroke-width="0.28">200</text>
<line x1="512.90" y1="372.00" x2="517.10" y2="372.00" stroke="#1a1a1a" stroke-width="1.1" />
<text x="512.10" y="374.80" font-size="7.9" font-weight="bold" text-anchor="end" fill="#2a2a2a"  stroke="#2a2a2a" stroke-width="0.28">300</text>
<line x1="538.40" y1="475.70" x2="538.40" y2="479.70" stroke="#1a1a1a" stroke-width="1.1" />
<line x1="567.95" y1="475.70" x2="567.95" y2="479.70" stroke="#1a1a1a" stroke-width="1.1" />
<polyline points="538.30,375.10 538.30,369.40 567.60,369.40 567.60,393.00" fill="none" stroke="#8a8a8a" stroke-width="1.0"/>
<polygon points="552.70,358.90 553.58,360.08 555.04,360.25 554.45,361.60 555.04,362.95 553.58,363.12 552.70,364.30 551.83,363.12 550.36,362.95 550.95,361.60 550.36,360.25 551.83,360.08" fill="#000" stroke="#000" stroke-width="0.3" stroke-linejoin="round"/>
<text x="538.40" y="487.90" font-size="7.0" font-weight="bold" text-anchor="middle" fill="#222"  stroke="#222" stroke-width="0.22">NC</text>
<text x="567.95" y="487.90" font-size="7.0" font-weight="bold" text-anchor="middle" fill="#222"  stroke="#222" stroke-width="0.22">NC+Cu</text>
<text font-size="8.3" font-weight="bold" text-anchor="middle" fill="#222" stroke="#222" stroke-width="0.25" transform="translate(493.10,423.85) rotate(-90)">Tumor weight (mg)</text>
<rect x="405.40" y="531.78" width="18.40" height="90.92" fill="#000" stroke="#111" stroke-width="1.2" />
<line x1="414.60" y1="526.67" x2="414.60" y2="535.69" stroke="#1a2a44" stroke-width="1.0" />
<line x1="410.00" y1="526.67" x2="419.20" y2="526.67" stroke="#1a2a44" stroke-width="1.0" />
<line x1="410.00" y1="535.69" x2="419.20" y2="535.69" stroke="#3a4a60" stroke-width="1.0" />
<rect x="435.00" y="551.54" width="18.40" height="71.16" fill="#808080" stroke="#111" stroke-width="1.2" />
<line x1="444.20" y1="545.39" x2="444.20" y2="556.49" stroke="#222" stroke-width="1.0" />
<line x1="439.60" y1="545.39" x2="448.80" y2="545.39" stroke="#222" stroke-width="1.0" />
<line x1="439.60" y1="556.49" x2="448.80" y2="556.49" stroke="#222" stroke-width="1.0" />
<line x1="393.50" y1="518.70" x2="393.50" y2="623.20" stroke="#1a1a1a" stroke-width="1.2" />
<line x1="393.00" y1="622.70" x2="464.50" y2="622.70" stroke="#1a1a1a" stroke-width="1.2" />
<line x1="389.30" y1="622.70" x2="393.50" y2="622.70" stroke="#1a1a1a" stroke-width="1.1" />
<text x="388.50" y="625.50" font-size="7.9" font-weight="bold" text-anchor="end" fill="#2a2a2a"  stroke="#2a2a2a" stroke-width="0.28">0</text>
<line x1="389.30" y1="588.03" x2="393.50" y2="588.03" stroke="#1a1a1a" stroke-width="1.1" />
<text x="388.50" y="590.83" font-size="7.9" font-weight="bold" text-anchor="end" fill="#2a2a2a"  stroke="#2a2a2a" stroke-width="0.28">100</text>
<line x1="389.30" y1="553.37" x2="393.50" y2="553.37" stroke="#1a1a1a" stroke-width="1.1" />
<text x="388.50" y="556.17" font-size="7.9" font-weight="bold" text-anchor="end" fill="#2a2a2a"  stroke="#2a2a2a" stroke-width="0.28">200</text>
<line x1="389.30" y1="518.70" x2="393.50" y2="518.70" stroke="#1a1a1a" stroke-width="1.1" />
<text x="388.50" y="521.50" font-size="7.9" font-weight="bold" text-anchor="end" fill="#2a2a2a"  stroke="#2a2a2a" stroke-width="0.28">300</text>
<line x1="414.60" y1="622.70" x2="414.60" y2="626.70" stroke="#1a1a1a" stroke-width="1.1" />
<line x1="444.20" y1="622.70" x2="444.20" y2="626.70" stroke="#1a1a1a" stroke-width="1.1" />
<polyline points="414.40,522.50 414.40,516.60 444.20,516.60 444.20,541.80" fill="none" stroke="#8a8a8a" stroke-width="1.0"/>
<polygon points="425.73,506.35 426.60,507.53 428.06,507.70 427.48,509.05 428.06,510.40 426.60,510.57 425.73,511.75 424.85,510.57 423.39,510.40 423.98,509.05 423.39,507.70 424.85,507.53" fill="#000" stroke="#000" stroke-width="0.3" stroke-linejoin="round"/>
<polygon points="431.88,506.35 432.75,507.53 434.21,507.70 433.62,509.05 434.21,510.40 432.75,510.57 431.88,511.75 431.00,510.57 429.54,510.40 430.12,509.05 429.54,507.70 431.00,507.53" fill="#000" stroke="#000" stroke-width="0.3" stroke-linejoin="round"/>
<text x="0.00" y="0.00" font-size="7.0" font-weight="bold" text-anchor="end" fill="#222" transform="translate(417.40,634.50) rotate(-45)" stroke="#222" stroke-width="0.22">Sh+OE</text>
<text x="0.00" y="0.00" font-size="7.0" font-weight="bold" text-anchor="end" fill="#222" transform="translate(447.00,634.50) rotate(-45)" stroke="#222" stroke-width="0.22">Sh+OE+Cu</text>
<text font-size="8.3" font-weight="bold" text-anchor="middle" fill="#222" stroke="#222" stroke-width="0.25" transform="translate(368.90,570.70) rotate(-90)">Tumor volume(mm<tspan font-size="5.6" dy="-3">3</tspan><tspan dy="3">)</tspan></text>
<rect x="529.20" y="536.17" width="18.40" height="84.43" fill="#000" stroke="#111" stroke-width="1.2" />
<line x1="538.40" y1="530.04" x2="538.40" y2="541.10" stroke="#1a2a44" stroke-width="1.0" />
<line x1="533.80" y1="530.04" x2="543.00" y2="530.04" stroke="#1a2a44" stroke-width="1.0" />
<line x1="533.80" y1="541.10" x2="543.00" y2="541.10" stroke="#3a4a60" stroke-width="1.0" />
<rect x="558.90" y="554.83" width="18.10" height="65.77" fill="#808080" stroke="#111" stroke-width="1.2" />
<line x1="567.95" y1="548.70" x2="567.95" y2="559.76" stroke="#222" stroke-width="1.0" />
<line x1="563.35" y1="548.70" x2="572.55" y2="548.70" stroke="#222" stroke-width="1.0" />
<line x1="563.35" y1="559.76" x2="572.55" y2="559.76" stroke="#222" stroke-width="1.0" />
<line x1="517.10" y1="516.90" x2="517.10" y2="621.10" stroke="#1a1a1a" stroke-width="1.2" />
<line x1="516.60" y1="620.60" x2="587.20" y2="620.60" stroke="#1a1a1a" stroke-width="1.2" />
<line x1="512.90" y1="620.60" x2="517.10" y2="620.60" stroke="#1a1a1a" stroke-width="1.1" />
<text x="512.10" y="623.40" font-size="7.9" font-weight="bold" text-anchor="end" fill="#2a2a2a"  stroke="#2a2a2a" stroke-width="0.28">0</text>
<line x1="512.90" y1="586.03" x2="517.10" y2="586.03" stroke="#1a1a1a" stroke-width="1.1" />
<text x="512.10" y="588.83" font-size="7.9" font-weight="bold" text-anchor="end" fill="#2a2a2a"  stroke="#2a2a2a" stroke-width="0.28">100</text>
<line x1="512.90" y1="551.47" x2="517.10" y2="551.47" stroke="#1a1a1a" stroke-width="1.1" />
<text x="512.10" y="554.27" font-size="7.9" font-weight="bold" text-anchor="end" fill="#2a2a2a"  stroke="#2a2a2a" stroke-width="0.28">200</text>
<line x1="512.90" y1="516.90" x2="517.10" y2="516.90" stroke="#1a1a1a" stroke-width="1.1" />
<text x="512.10" y="519.70" font-size="7.9" font-weight="bold" text-anchor="end" fill="#2a2a2a"  stroke="#2a2a2a" stroke-width="0.28">300</text>
<line x1="538.40" y1="620.60" x2="538.40" y2="624.60" stroke="#1a1a1a" stroke-width="1.1" />
<line x1="567.95" y1="620.60" x2="567.95" y2="624.60" stroke="#1a1a1a" stroke-width="1.1" />
<polyline points="537.40,525.70 537.40,520.10 567.20,520.10 567.20,542.70" fill="none" stroke="#8a8a8a" stroke-width="1.0"/>
<polygon points="552.15,509.70 553.02,510.88 554.49,511.05 553.90,512.40 554.49,513.75 553.02,513.92 552.15,515.10 551.27,513.92 549.81,513.75 550.40,512.40 549.81,511.05 551.27,510.88" fill="#000" stroke="#000" stroke-width="0.3" stroke-linejoin="round"/>
<text x="0.00" y="0.00" font-size="7.0" font-weight="bold" text-anchor="end" fill="#222" transform="translate(541.20,632.40) rotate(-45)" stroke="#222" stroke-width="0.22">Sh+OE</text>
<text x="0.00" y="0.00" font-size="7.0" font-weight="bold" text-anchor="end" fill="#222" transform="translate(570.75,632.40) rotate(-45)" stroke="#222" stroke-width="0.22">Sh+OE+Cu</text>
<text font-size="8.3" font-weight="bold" text-anchor="middle" fill="#222" stroke="#222" stroke-width="0.25" transform="translate(493.10,568.75) rotate(-90)">Tumor weight (mg)</text>
<rect x="405.40" y="704.05" width="18.40" height="76.95" fill="#000" stroke="#111" stroke-width="1.2" />
<line x1="414.60" y1="697.20" x2="414.60" y2="709.69" stroke="#1a2a44" stroke-width="1.0" />
<line x1="410.00" y1="697.20" x2="419.20" y2="697.20" stroke="#1a2a44" stroke-width="1.0" />
<line x1="410.00" y1="709.69" x2="419.20" y2="709.69" stroke="#3a4a60" stroke-width="1.0" />
<rect x="435.00" y="747.77" width="18.40" height="33.23" fill="#808080" stroke="#111" stroke-width="1.2" />
<line x1="444.20" y1="741.96" x2="444.20" y2="752.37" stroke="#222" stroke-width="1.0" />
<line x1="439.60" y1="741.96" x2="448.80" y2="741.96" stroke="#222" stroke-width="1.0" />
<line x1="439.60" y1="752.37" x2="448.80" y2="752.37" stroke="#222" stroke-width="1.0" />
<line x1="393.20" y1="676.90" x2="393.20" y2="781.50" stroke="#1a1a1a" stroke-width="1.2" />
<line x1="392.70" y1="781.00" x2="464.50" y2="781.00" stroke="#1a1a1a" stroke-width="1.2" />
<line x1="389.00" y1="781.00" x2="393.20" y2="781.00" stroke="#1a1a1a" stroke-width="1.1" />
<text x="388.20" y="783.80" font-size="7.9" font-weight="bold" text-anchor="end" fill="#2a2a2a"  stroke="#2a2a2a" stroke-width="0.28">0</text>
<line x1="389.00" y1="754.98" x2="393.20" y2="754.98" stroke="#1a1a1a" stroke-width="1.1" />
<text x="388.20" y="757.77" font-size="7.9" font-weight="bold" text-anchor="end" fill="#2a2a2a"  stroke="#2a2a2a" stroke-width="0.28">50</text>
<line x1="389.00" y1="728.95" x2="393.20" y2="728.95" stroke="#1a1a1a" stroke-width="1.1" />
<text x="388.20" y="731.75" font-size="7.9" font-weight="bold" text-anchor="end" fill="#2a2a2a"  stroke="#2a2a2a" stroke-width="0.28">100</text>
<line x1="389.00" y1="702.92" x2="393.20" y2="702.92" stroke="#1a1a1a" stroke-width="1.1" />
<text x="388.20" y="705.72" font-size="7.9" font-weight="bold" text-anchor="end" fill="#2a2a2a"  stroke="#2a2a2a" stroke-width="0.28">150</text>
<line x1="389.00" y1="676.90" x2="393.20" y2="676.90" stroke="#1a1a1a" stroke-width="1.1" />
<text x="388.20" y="679.70" font-size="7.9" font-weight="bold" text-anchor="end" fill="#2a2a2a"  stroke="#2a2a2a" stroke-width="0.28">200</text>
<line x1="414.60" y1="781.00" x2="414.60" y2="785.00" stroke="#1a1a1a" stroke-width="1.1" />
<line x1="444.20" y1="781.00" x2="444.20" y2="785.00" stroke="#1a1a1a" stroke-width="1.1" />
<polyline points="414.40,693.00 414.40,687.30 443.90,687.30 443.90,737.70" fill="none" stroke="#8a8a8a" stroke-width="1.0"/>
<polygon points="422.40,676.90 423.28,678.08 424.74,678.25 424.15,679.60 424.74,680.95 423.28,681.12 422.40,682.30 421.53,681.12 420.06,680.95 420.65,679.60 420.06,678.25 421.53,678.08" fill="#000" stroke="#000" stroke-width="0.3" stroke-linejoin="round"/>
<polygon points="428.55,676.90 429.43,678.08 430.89,678.25 430.30,679.60 430.89,680.95 429.43,681.12 428.55,682.30 427.68,681.12 426.21,680.95 426.80,679.60 426.21,678.25 427.68,678.08" fill="#000" stroke="#000" stroke-width="0.3" stroke-linejoin="round"/>
<polygon points="434.70,676.90 435.58,678.08 437.04,678.25 436.45,679.60 437.04,680.95 435.58,681.12 434.70,682.30 433.83,681.12 432.36,680.95 432.95,679.60 432.36,678.25 433.83,678.08" fill="#000" stroke="#000" stroke-width="0.3" stroke-linejoin="round"/>
<text x="414.60" y="793.20" font-size="7.0" font-weight="bold" text-anchor="middle" fill="#222"  stroke="#222" stroke-width="0.22">Sh</text>
<text x="444.20" y="793.20" font-size="7.0" font-weight="bold" text-anchor="middle" fill="#222"  stroke="#222" stroke-width="0.22">Sh+Cu</text>
<text font-size="8.3" font-weight="bold" text-anchor="middle" fill="#222" stroke="#222" stroke-width="0.25" transform="translate(368.60,728.95) rotate(-90)">Tumor volume(mm<tspan font-size="5.6" dy="-3">3</tspan><tspan dy="3">)</tspan></text>
<rect x="529.20" y="707.67" width="18.40" height="72.13" fill="#000" stroke="#111" stroke-width="1.2" />
<line x1="538.40" y1="701.88" x2="538.40" y2="712.26" stroke="#1a2a44" stroke-width="1.0" />
<line x1="533.80" y1="701.88" x2="543.00" y2="701.88" stroke="#1a2a44" stroke-width="1.0" />
<line x1="533.80" y1="712.26" x2="543.00" y2="712.26" stroke="#3a4a60" stroke-width="1.0" />
<rect x="558.90" y="749.23" width="18.10" height="30.57" fill="#808080" stroke="#111" stroke-width="1.2" />
<line x1="567.95" y1="743.43" x2="567.95" y2="753.82" stroke="#222" stroke-width="1.0" />
<line x1="563.35" y1="743.43" x2="572.55" y2="743.43" stroke="#222" stroke-width="1.0" />
<line x1="563.35" y1="753.82" x2="572.55" y2="753.82" stroke="#222" stroke-width="1.0" />
<line x1="517.10" y1="675.90" x2="517.10" y2="780.30" stroke="#1a1a1a" stroke-width="1.2" />
<line x1="516.60" y1="779.80" x2="587.20" y2="779.80" stroke="#1a1a1a" stroke-width="1.2" />
<line x1="512.90" y1="779.80" x2="517.10" y2="779.80" stroke="#1a1a1a" stroke-width="1.1" />
<text x="512.10" y="782.60" font-size="7.9" font-weight="bold" text-anchor="end" fill="#2a2a2a"  stroke="#2a2a2a" stroke-width="0.28">0</text>
<line x1="512.90" y1="753.82" x2="517.10" y2="753.82" stroke="#1a1a1a" stroke-width="1.1" />
<text x="512.10" y="756.62" font-size="7.9" font-weight="bold" text-anchor="end" fill="#2a2a2a"  stroke="#2a2a2a" stroke-width="0.28">50</text>
<line x1="512.90" y1="727.85" x2="517.10" y2="727.85" stroke="#1a1a1a" stroke-width="1.1" />
<text x="512.10" y="730.65" font-size="7.9" font-weight="bold" text-anchor="end" fill="#2a2a2a"  stroke="#2a2a2a" stroke-width="0.28">100</text>
<line x1="512.90" y1="701.88" x2="517.10" y2="701.88" stroke="#1a1a1a" stroke-width="1.1" />
<text x="512.10" y="704.67" font-size="7.9" font-weight="bold" text-anchor="end" fill="#2a2a2a"  stroke="#2a2a2a" stroke-width="0.28">150</text>
<line x1="512.90" y1="675.90" x2="517.10" y2="675.90" stroke="#1a1a1a" stroke-width="1.1" />
<text x="512.10" y="678.70" font-size="7.9" font-weight="bold" text-anchor="end" fill="#2a2a2a"  stroke="#2a2a2a" stroke-width="0.28">200</text>
<line x1="538.40" y1="779.80" x2="538.40" y2="783.80" stroke="#1a1a1a" stroke-width="1.1" />
<line x1="567.95" y1="779.80" x2="567.95" y2="783.80" stroke="#1a1a1a" stroke-width="1.1" />
<polyline points="538.30,692.00 538.30,686.10 567.50,686.10 567.50,740.30" fill="none" stroke="#8a8a8a" stroke-width="1.0"/>
<polygon points="546.15,675.60 547.02,676.78 548.49,676.95 547.90,678.30 548.49,679.65 547.02,679.82 546.15,681.00 545.27,679.82 543.81,679.65 544.40,678.30 543.81,676.95 545.27,676.78" fill="#000" stroke="#000" stroke-width="0.3" stroke-linejoin="round"/>
<polygon points="552.30,675.60 553.17,676.78 554.64,676.95 554.05,678.30 554.64,679.65 553.17,679.82 552.30,681.00 551.42,679.82 549.96,679.65 550.55,678.30 549.96,676.95 551.42,676.78" fill="#000" stroke="#000" stroke-width="0.3" stroke-linejoin="round"/>
<polygon points="558.45,675.60 559.32,676.78 560.79,676.95 560.20,678.30 560.79,679.65 559.32,679.82 558.45,681.00 557.57,679.82 556.11,679.65 556.70,678.30 556.11,676.95 557.57,676.78" fill="#000" stroke="#000" stroke-width="0.3" stroke-linejoin="round"/>
<text x="538.40" y="792.00" font-size="7.0" font-weight="bold" text-anchor="middle" fill="#222"  stroke="#222" stroke-width="0.22">Sh</text>
<text x="567.95" y="792.00" font-size="7.0" font-weight="bold" text-anchor="middle" fill="#222"  stroke="#222" stroke-width="0.22">Sh+Cu</text>
<text font-size="8.3" font-weight="bold" text-anchor="middle" fill="#222" stroke="#222" stroke-width="0.25" transform="translate(493.10,727.85) rotate(-90)">Tumor weight (mg)</text>
<text x="63.60" y="845.00" font-size="12.6" font-weight="normal" text-anchor="middle" fill="#111" stroke="#111" stroke-width="0.25">OE</text>
<text x="147.90" y="845.00" font-size="12.6" font-weight="normal" text-anchor="middle" fill="#111" stroke="#111" stroke-width="0.25">OE+Cu</text>
<text x="231.20" y="845.00" font-size="12.6" font-weight="normal" text-anchor="middle" fill="#111" stroke="#111" stroke-width="0.25">NC</text>
<text x="311.80" y="845.00" font-size="12.6" font-weight="normal" text-anchor="middle" fill="#111" stroke="#111" stroke-width="0.25">NC+Cu</text>
<text x="392.30" y="845.00" font-size="12.6" font-weight="normal" text-anchor="middle" fill="#111" stroke="#111" stroke-width="0.25">Sh+OE</text>
<text x="474.60" y="845.00" font-size="12.6" font-weight="normal" text-anchor="middle" fill="#111" stroke="#111" stroke-width="0.25">Sh+OE+Cu</text>
<text x="559.40" y="845.00" font-size="12.6" font-weight="normal" text-anchor="middle" fill="#111" stroke="#111" stroke-width="0.25">Sh</text>
<text x="639.20" y="845.00" font-size="12.6" font-weight="normal" text-anchor="middle" fill="#111" stroke="#111" stroke-width="0.25">Sh+Cu</text>
<text x="0.00" y="0.00" font-size="12.4" font-weight="normal" text-anchor="middle" fill="#111" stroke="#111" stroke-width="0.25" transform="translate(13.0,892.60) rotate(-90)">DAPI</text>
<text x="0.00" y="0.00" font-size="12.4" font-weight="normal" text-anchor="middle" fill="#111" stroke="#111" stroke-width="0.25" transform="translate(13.0,974.05) rotate(-90)">TUNEL</text>
<text x="0.00" y="0.00" font-size="12.4" font-weight="normal" text-anchor="middle" fill="#111" stroke="#111" stroke-width="0.25" transform="translate(13.0,1055.50) rotate(-90)">Merge</text>
<defs>
<pattern id="dB" patternUnits="userSpaceOnUse" width="100" height="100">
<circle cx="63.9" cy="2.5" r="1.1" fill="#2a4cf0" fill-opacity="0.42"/>
<circle cx="73.6" cy="67.7" r="1.5" fill="#2a4cf0" fill-opacity="0.32"/>
<circle cx="42.2" cy="3.0" r="1.0" fill="#2a4cf0" fill-opacity="0.63"/>
<circle cx="2.7" cy="19.9" r="1.3" fill="#2a4cf0" fill-opacity="0.66"/>
<circle cx="22.0" cy="58.9" r="1.5" fill="#2a4cf0" fill-opacity="0.25"/>
<circle cx="80.6" cy="69.8" r="1.1" fill="#2a4cf0" fill-opacity="0.37"/>
<circle cx="95.7" cy="33.7" r="0.9" fill="#2a4cf0" fill-opacity="0.32"/>
<circle cx="84.7" cy="60.4" r="1.5" fill="#2a4cf0" fill-opacity="0.80"/>
<circle cx="53.6" cy="97.3" r="1.1" fill="#2a4cf0" fill-opacity="0.66"/>
<circle cx="82.9" cy="61.9" r="1.5" fill="#2a4cf0" fill-opacity="0.68"/>
<circle cx="70.5" cy="4.6" r="1.0" fill="#2a4cf0" fill-opacity="0.47"/>
<circle cx="8.0" cy="23.3" r="0.9" fill="#2a4cf0" fill-opacity="0.46"/>
<circle cx="63.6" cy="36.5" r="1.1" fill="#2a4cf0" fill-opacity="0.41"/>
<circle cx="26.7" cy="93.7" r="1.3" fill="#2a4cf0" fill-opacity="0.71"/>
<circle cx="17.1" cy="72.9" r="1.0" fill="#2a4cf0" fill-opacity="0.53"/>
<circle cx="99.0" cy="64.0" r="1.3" fill="#2a4cf0" fill-opacity="0.76"/>
<circle cx="84.3" cy="77.6" r="1.0" fill="#2a4cf0" fill-opacity="0.27"/>
<circle cx="31.5" cy="26.8" r="1.0" fill="#2a4cf0" fill-opacity="0.96"/>
<circle cx="87.6" cy="31.5" r="1.3" fill="#2a4cf0" fill-opacity="0.55"/>
<circle cx="91.5" cy="45.9" r="1.0" fill="#2a4cf0" fill-opacity="0.43"/>
<circle cx="56.1" cy="26.3" r="1.3" fill="#2a4cf0" fill-opacity="0.92"/>
<circle cx="39.9" cy="21.9" r="1.6" fill="#2a4cf0" fill-opacity="0.63"/>
<circle cx="9.1" cy="4.7" r="0.9" fill="#2a4cf0" fill-opacity="0.72"/>
<circle cx="79.2" cy="42.2" r="0.9" fill="#2a4cf0" fill-opacity="0.54"/>
<circle cx="99.6" cy="52.9" r="1.6" fill="#2a4cf0" fill-opacity="0.90"/>
<circle cx="1.1" cy="72.1" r="1.4" fill="#2a4cf0" fill-opacity="0.65"/>
<circle cx="26.7" cy="64.1" r="0.9" fill="#2a4cf0" fill-opacity="0.58"/>
<circle cx="45.4" cy="95.4" r="1.5" fill="#2a4cf0" fill-opacity="0.45"/>
<circle cx="50.1" cy="17.9" r="1.5" fill="#2a4cf0" fill-opacity="0.90"/>
<circle cx="29.8" cy="63.9" r="1.3" fill="#2a4cf0" fill-opacity="0.36"/>
<circle cx="76.3" cy="53.9" r="1.4" fill="#2a4cf0" fill-opacity="0.65"/>
<circle cx="0.1" cy="32.4" r="0.9" fill="#2a4cf0" fill-opacity="0.95"/>
<circle cx="87.9" cy="83.2" r="1.1" fill="#2a4cf0" fill-opacity="0.29"/>
<circle cx="87.8" cy="94.7" r="0.9" fill="#2a4cf0" fill-opacity="0.61"/>
<circle cx="6.9" cy="76.1" r="1.4" fill="#2a4cf0" fill-opacity="0.35"/>
<circle cx="47.5" cy="55.0" r="1.0" fill="#2a4cf0" fill-opacity="0.90"/>
<circle cx="42.3" cy="21.2" r="1.3" fill="#2a4cf0" fill-opacity="0.80"/>
<circle cx="20.1" cy="31.2" r="1.6" fill="#2a4cf0" fill-opacity="0.74"/>
<circle cx="43.8" cy="51.8" r="0.9" fill="#2a4cf0" fill-opacity="0.42"/>
<circle cx="33.8" cy="58.8" r="1.0" fill="#2a4cf0" fill-opacity="0.42"/>
<circle cx="7.1" cy="63.1" r="1.0" fill="#2a4cf0" fill-opacity="0.93"/>
<circle cx="86.0" cy="7.1" r="1.0" fill="#2a4cf0" fill-opacity="0.75"/>
<circle cx="21.4" cy="13.2" r="1.6" fill="#2a4cf0" fill-opacity="0.68"/>
<circle cx="47.3" cy="78.5" r="1.5" fill="#2a4cf0" fill-opacity="0.39"/>
<circle cx="9.7" cy="43.1" r="1.2" fill="#2a4cf0" fill-opacity="0.60"/>
<circle cx="72.9" cy="67.3" r="1.6" fill="#2a4cf0" fill-opacity="0.32"/>
<circle cx="40.3" cy="33.9" r="1.5" fill="#2a4cf0" fill-opacity="0.44"/>
<circle cx="19.0" cy="44.9" r="1.2" fill="#2a4cf0" fill-opacity="0.46"/>
<circle cx="25.0" cy="92.3" r="1.2" fill="#2a4cf0" fill-opacity="0.90"/>
<circle cx="55.0" cy="5.1" r="1.6" fill="#2a4cf0" fill-opacity="0.88"/>
<circle cx="96.9" cy="92.6" r="1.5" fill="#2a4cf0" fill-opacity="0.37"/>
<circle cx="48.6" cy="21.4" r="1.2" fill="#2a4cf0" fill-opacity="0.29"/>
<circle cx="37.9" cy="98.5" r="1.0" fill="#2a4cf0" fill-opacity="0.84"/>
<circle cx="45.5" cy="42.3" r="1.6" fill="#2a4cf0" fill-opacity="1.00"/>
<circle cx="55.6" cy="71.8" r="1.0" fill="#2a4cf0" fill-opacity="0.47"/>
<circle cx="96.9" cy="57.9" r="1.3" fill="#2a4cf0" fill-opacity="0.81"/>
<circle cx="5.7" cy="58.4" r="1.2" fill="#2a4cf0" fill-opacity="0.89"/>
<circle cx="15.7" cy="96.1" r="0.9" fill="#2a4cf0" fill-opacity="0.39"/>
<circle cx="59.5" cy="67.5" r="1.0" fill="#2a4cf0" fill-opacity="0.34"/>
<circle cx="89.0" cy="24.6" r="1.3" fill="#2a4cf0" fill-opacity="0.71"/>
<circle cx="41.9" cy="58.4" r="1.2" fill="#2a4cf0" fill-opacity="0.95"/>
<circle cx="20.4" cy="71.6" r="1.0" fill="#2a4cf0" fill-opacity="0.55"/>
<circle cx="67.2" cy="30.0" r="1.1" fill="#2a4cf0" fill-opacity="0.81"/>
<circle cx="7.3" cy="45.8" r="1.6" fill="#2a4cf0" fill-opacity="1.00"/>
<circle cx="7.3" cy="21.3" r="1.0" fill="#2a4cf0" fill-opacity="0.95"/>
<circle cx="88.1" cy="87.9" r="1.1" fill="#2a4cf0" fill-opacity="0.37"/>
<circle cx="83.4" cy="70.4" r="1.3" fill="#2a4cf0" fill-opacity="0.99"/>
<circle cx="65.4" cy="0.8" r="1.5" fill="#2a4cf0" fill-opacity="0.47"/>
<circle cx="66.3" cy="93.9" r="1.0" fill="#2a4cf0" fill-opacity="0.34"/>
<circle cx="10.7" cy="55.3" r="1.1" fill="#2a4cf0" fill-opacity="0.70"/>
<circle cx="71.8" cy="20.4" r="1.3" fill="#2a4cf0" fill-opacity="0.45"/>
<circle cx="48.9" cy="90.5" r="1.5" fill="#2a4cf0" fill-opacity="0.32"/>
<circle cx="42.4" cy="27.7" r="0.9" fill="#2a4cf0" fill-opacity="0.83"/>
<circle cx="63.7" cy="26.2" r="1.4" fill="#2a4cf0" fill-opacity="0.66"/>
<circle cx="42.8" cy="1.0" r="0.9" fill="#2a4cf0" fill-opacity="0.91"/>
<circle cx="90.4" cy="54.6" r="1.5" fill="#2a4cf0" fill-opacity="0.69"/>
<circle cx="14.8" cy="12.7" r="1.1" fill="#2a4cf0" fill-opacity="0.92"/>
<circle cx="79.6" cy="86.1" r="1.5" fill="#2a4cf0" fill-opacity="0.41"/>
<circle cx="25.0" cy="10.3" r="1.4" fill="#2a4cf0" fill-opacity="0.91"/>
<circle cx="40.6" cy="62.1" r="1.0" fill="#2a4cf0" fill-opacity="0.95"/>
<circle cx="86.5" cy="97.6" r="1.5" fill="#2a4cf0" fill-opacity="0.91"/>
<circle cx="2.5" cy="73.7" r="1.1" fill="#2a4cf0" fill-opacity="0.95"/>
<circle cx="80.2" cy="86.4" r="1.5" fill="#2a4cf0" fill-opacity="0.45"/>
<circle cx="78.7" cy="10.8" r="1.5" fill="#2a4cf0" fill-opacity="0.89"/>
<circle cx="22.2" cy="81.7" r="1.2" fill="#2a4cf0" fill-opacity="0.48"/>
<circle cx="79.5" cy="22.8" r="0.9" fill="#2a4cf0" fill-opacity="0.39"/>
<circle cx="32.8" cy="86.4" r="1.6" fill="#2a4cf0" fill-opacity="0.46"/>
<circle cx="64.1" cy="40.0" r="1.6" fill="#2a4cf0" fill-opacity="0.65"/>
<circle cx="93.9" cy="11.5" r="1.6" fill="#2a4cf0" fill-opacity="0.38"/>
<circle cx="96.3" cy="26.5" r="0.9" fill="#2a4cf0" fill-opacity="0.58"/>
<circle cx="72.9" cy="31.4" r="1.3" fill="#2a4cf0" fill-opacity="0.63"/>
<circle cx="38.5" cy="57.7" r="1.0" fill="#2a4cf0" fill-opacity="0.78"/>
<circle cx="0.2" cy="92.6" r="1.3" fill="#2a4cf0" fill-opacity="0.79"/>
<circle cx="74.2" cy="67.1" r="1.1" fill="#2a4cf0" fill-opacity="0.30"/>
<circle cx="66.4" cy="33.0" r="1.1" fill="#2a4cf0" fill-opacity="0.89"/>
<circle cx="72.0" cy="30.0" r="1.1" fill="#2a4cf0" fill-opacity="0.56"/>
<circle cx="40.2" cy="29.6" r="0.9" fill="#2a4cf0" fill-opacity="0.57"/>
<circle cx="94.0" cy="67.7" r="1.5" fill="#2a4cf0" fill-opacity="0.71"/>
<circle cx="30.1" cy="54.8" r="0.9" fill="#2a4cf0" fill-opacity="0.47"/>
<circle cx="43.0" cy="58.0" r="1.3" fill="#2a4cf0" fill-opacity="0.60"/>
<circle cx="44.2" cy="21.4" r="1.2" fill="#2a4cf0" fill-opacity="0.93"/>
<circle cx="79.6" cy="17.0" r="0.9" fill="#2a4cf0" fill-opacity="0.64"/>
<circle cx="63.3" cy="33.5" r="1.5" fill="#2a4cf0" fill-opacity="0.81"/>
<circle cx="67.3" cy="22.5" r="1.0" fill="#2a4cf0" fill-opacity="0.27"/>
<circle cx="24.5" cy="47.5" r="1.5" fill="#2a4cf0" fill-opacity="0.30"/>
<circle cx="41.4" cy="63.0" r="1.0" fill="#2a4cf0" fill-opacity="0.77"/>
<circle cx="49.4" cy="24.4" r="1.3" fill="#2a4cf0" fill-opacity="0.25"/>
<circle cx="75.1" cy="77.0" r="0.9" fill="#2a4cf0" fill-opacity="0.57"/>
<circle cx="17.6" cy="95.8" r="1.2" fill="#2a4cf0" fill-opacity="0.29"/>
<circle cx="24.9" cy="84.8" r="1.2" fill="#2a4cf0" fill-opacity="0.85"/>
<circle cx="66.8" cy="98.8" r="1.3" fill="#2a4cf0" fill-opacity="0.96"/>
<circle cx="89.1" cy="61.3" r="1.4" fill="#2a4cf0" fill-opacity="0.63"/>
<circle cx="83.1" cy="54.8" r="1.5" fill="#2a4cf0" fill-opacity="0.81"/>
<circle cx="47.5" cy="25.9" r="1.0" fill="#2a4cf0" fill-opacity="0.73"/>
<circle cx="76.6" cy="52.1" r="1.3" fill="#2a4cf0" fill-opacity="0.46"/>
<circle cx="7.7" cy="28.6" r="1.1" fill="#2a4cf0" fill-opacity="0.49"/>
<circle cx="54.0" cy="13.8" r="1.0" fill="#2a4cf0" fill-opacity="0.77"/>
<circle cx="70.6" cy="6.4" r="1.2" fill="#2a4cf0" fill-opacity="0.66"/>
<circle cx="41.6" cy="20.7" r="1.2" fill="#2a4cf0" fill-opacity="0.93"/>
<circle cx="58.4" cy="69.6" r="1.5" fill="#2a4cf0" fill-opacity="0.82"/>
<circle cx="38.0" cy="0.6" r="1.1" fill="#2a4cf0" fill-opacity="0.82"/>
<circle cx="85.3" cy="95.3" r="1.2" fill="#2a4cf0" fill-opacity="0.81"/>
<circle cx="54.6" cy="60.3" r="1.0" fill="#2a4cf0" fill-opacity="0.41"/>
<circle cx="43.6" cy="2.9" r="1.1" fill="#2a4cf0" fill-opacity="0.76"/>
<circle cx="40.4" cy="16.5" r="1.2" fill="#2a4cf0" fill-opacity="0.35"/>
<circle cx="62.2" cy="2.7" r="1.1" fill="#2a4cf0" fill-opacity="0.67"/>
<circle cx="2.7" cy="64.3" r="1.0" fill="#2a4cf0" fill-opacity="0.60"/>
<circle cx="5.0" cy="37.9" r="1.0" fill="#2a4cf0" fill-opacity="0.50"/>
<circle cx="76.1" cy="37.9" r="1.4" fill="#2a4cf0" fill-opacity="0.87"/>
<circle cx="25.2" cy="8.2" r="0.9" fill="#2a4cf0" fill-opacity="0.65"/>
<circle cx="100.0" cy="35.0" r="1.3" fill="#2a4cf0" fill-opacity="0.84"/>
<circle cx="65.2" cy="75.4" r="1.6" fill="#2a4cf0" fill-opacity="0.40"/>
<circle cx="2.0" cy="15.2" r="0.9" fill="#2a4cf0" fill-opacity="0.75"/>
<circle cx="56.4" cy="21.8" r="1.4" fill="#2a4cf0" fill-opacity="0.83"/>
<circle cx="16.8" cy="60.7" r="1.4" fill="#2a4cf0" fill-opacity="0.34"/>
<circle cx="81.9" cy="96.5" r="0.9" fill="#2a4cf0" fill-opacity="0.27"/>
<circle cx="31.2" cy="67.7" r="1.6" fill="#2a4cf0" fill-opacity="0.55"/>
<circle cx="71.5" cy="7.6" r="1.4" fill="#2a4cf0" fill-opacity="0.72"/>
<circle cx="10.2" cy="77.2" r="1.5" fill="#2a4cf0" fill-opacity="0.70"/>
<circle cx="12.1" cy="98.4" r="1.4" fill="#2a4cf0" fill-opacity="0.51"/>
<circle cx="42.8" cy="37.1" r="1.2" fill="#2a4cf0" fill-opacity="0.51"/>
<circle cx="85.0" cy="82.2" r="0.9" fill="#2a4cf0" fill-opacity="0.97"/>
<circle cx="63.6" cy="82.9" r="1.4" fill="#2a4cf0" fill-opacity="0.58"/>
<circle cx="73.4" cy="96.5" r="1.1" fill="#2a4cf0" fill-opacity="0.86"/>
<circle cx="53.8" cy="48.3" r="1.2" fill="#2a4cf0" fill-opacity="0.80"/>
<circle cx="26.8" cy="85.2" r="1.5" fill="#2a4cf0" fill-opacity="0.31"/>
<circle cx="88.2" cy="24.4" r="1.2" fill="#2a4cf0" fill-opacity="0.71"/>
<circle cx="37.9" cy="2.9" r="1.5" fill="#2a4cf0" fill-opacity="0.39"/>
<circle cx="21.2" cy="79.8" r="1.1" fill="#2a4cf0" fill-opacity="0.91"/>
<circle cx="70.1" cy="27.6" r="0.9" fill="#2a4cf0" fill-opacity="0.96"/>
<circle cx="8.6" cy="72.0" r="1.2" fill="#2a4cf0" fill-opacity="0.82"/>
<circle cx="69.1" cy="64.6" r="1.2" fill="#2a4cf0" fill-opacity="0.84"/>
<circle cx="9.3" cy="22.2" r="1.4" fill="#2a4cf0" fill-opacity="0.48"/>
<circle cx="58.2" cy="47.3" r="1.2" fill="#2a4cf0" fill-opacity="0.57"/>
<circle cx="74.6" cy="33.1" r="1.4" fill="#2a4cf0" fill-opacity="0.45"/>
<circle cx="25.1" cy="12.1" r="1.0" fill="#2a4cf0" fill-opacity="0.34"/>
<circle cx="53.6" cy="76.2" r="1.0" fill="#2a4cf0" fill-opacity="0.41"/>
<circle cx="48.4" cy="72.5" r="1.6" fill="#2a4cf0" fill-opacity="0.64"/>
<circle cx="28.3" cy="10.1" r="1.0" fill="#2a4cf0" fill-opacity="0.42"/>
<circle cx="17.9" cy="1.4" r="1.3" fill="#2a4cf0" fill-opacity="0.46"/>
<circle cx="97.4" cy="55.3" r="1.4" fill="#2a4cf0" fill-opacity="0.34"/>
<circle cx="86.8" cy="49.1" r="1.5" fill="#2a4cf0" fill-opacity="0.68"/>
<circle cx="46.9" cy="44.0" r="1.0" fill="#2a4cf0" fill-opacity="0.29"/>
<circle cx="94.1" cy="47.8" r="1.5" fill="#2a4cf0" fill-opacity="0.55"/>
<circle cx="7.4" cy="62.9" r="0.9" fill="#2a4cf0" fill-opacity="0.36"/>
<circle cx="56.3" cy="30.4" r="1.6" fill="#2a4cf0" fill-opacity="0.34"/>
<circle cx="76.4" cy="60.6" r="1.4" fill="#2a4cf0" fill-opacity="0.42"/>
<circle cx="52.3" cy="45.1" r="1.2" fill="#2a4cf0" fill-opacity="0.90"/>
<circle cx="99.0" cy="30.5" r="1.3" fill="#2a4cf0" fill-opacity="0.71"/>
<circle cx="74.0" cy="94.8" r="1.0" fill="#2a4cf0" fill-opacity="0.41"/>
<circle cx="66.0" cy="15.7" r="1.0" fill="#2a4cf0" fill-opacity="0.31"/>
<circle cx="0.3" cy="45.1" r="1.3" fill="#2a4cf0" fill-opacity="0.47"/>
<circle cx="23.1" cy="70.7" r="1.4" fill="#2a4cf0" fill-opacity="0.59"/>
<circle cx="68.7" cy="92.4" r="1.4" fill="#2a4cf0" fill-opacity="0.72"/>
<circle cx="66.1" cy="93.4" r="1.2" fill="#2a4cf0" fill-opacity="0.66"/>
<circle cx="64.8" cy="90.8" r="1.5" fill="#2a4cf0" fill-opacity="0.30"/>
<circle cx="16.6" cy="30.8" r="1.4" fill="#2a4cf0" fill-opacity="0.68"/>
<circle cx="28.9" cy="12.4" r="1.4" fill="#2a4cf0" fill-opacity="0.77"/>
<circle cx="94.3" cy="50.0" r="1.2" fill="#2a4cf0" fill-opacity="0.31"/>
<circle cx="4.0" cy="43.2" r="1.1" fill="#2a4cf0" fill-opacity="0.44"/>
<circle cx="9.1" cy="96.2" r="1.5" fill="#2a4cf0" fill-opacity="0.68"/>
<circle cx="95.1" cy="100.0" r="1.4" fill="#2a4cf0" fill-opacity="0.45"/>
<circle cx="4.0" cy="75.6" r="1.2" fill="#2a4cf0" fill-opacity="0.74"/>
<circle cx="91.6" cy="18.1" r="1.3" fill="#2a4cf0" fill-opacity="0.73"/>
<circle cx="49.2" cy="9.1" r="1.1" fill="#2a4cf0" fill-opacity="0.50"/>
<circle cx="67.0" cy="85.8" r="1.1" fill="#2a4cf0" fill-opacity="0.77"/>
<circle cx="28.8" cy="94.5" r="1.5" fill="#2a4cf0" fill-opacity="0.66"/>
<circle cx="45.5" cy="31.5" r="1.1" fill="#2a4cf0" fill-opacity="0.98"/>
<circle cx="40.4" cy="51.5" r="1.6" fill="#2a4cf0" fill-opacity="0.74"/>
<circle cx="54.3" cy="41.3" r="1.0" fill="#2a4cf0" fill-opacity="0.52"/>
<circle cx="75.6" cy="62.5" r="1.4" fill="#2a4cf0" fill-opacity="0.40"/>
<circle cx="54.9" cy="92.8" r="1.2" fill="#2a4cf0" fill-opacity="0.77"/>
<circle cx="12.1" cy="97.3" r="1.3" fill="#2a4cf0" fill-opacity="0.43"/>
<circle cx="15.8" cy="55.1" r="1.3" fill="#2a4cf0" fill-opacity="0.32"/>
<circle cx="99.2" cy="91.3" r="1.2" fill="#2a4cf0" fill-opacity="0.34"/>
<circle cx="83.2" cy="49.8" r="1.4" fill="#2a4cf0" fill-opacity="0.63"/>
<circle cx="27.3" cy="83.5" r="1.6" fill="#2a4cf0" fill-opacity="0.43"/>
<circle cx="55.1" cy="38.4" r="1.5" fill="#2a4cf0" fill-opacity="0.63"/>
<circle cx="87.9" cy="86.4" r="1.1" fill="#2a4cf0" fill-opacity="0.84"/>
<circle cx="41.5" cy="93.4" r="1.2" fill="#2a4cf0" fill-opacity="0.87"/>
<circle cx="28.3" cy="29.9" r="1.3" fill="#2a4cf0" fill-opacity="1.00"/>
<circle cx="49.0" cy="14.9" r="1.3" fill="#2a4cf0" fill-opacity="0.51"/>
<circle cx="55.2" cy="54.3" r="1.2" fill="#2a4cf0" fill-opacity="0.49"/>
<circle cx="18.9" cy="69.7" r="1.3" fill="#2a4cf0" fill-opacity="0.43"/>
<circle cx="77.6" cy="4.4" r="1.4" fill="#2a4cf0" fill-opacity="0.78"/>
<circle cx="81.1" cy="38.6" r="1.3" fill="#2a4cf0" fill-opacity="0.87"/>
<circle cx="98.1" cy="49.5" r="0.9" fill="#2a4cf0" fill-opacity="0.63"/>
<circle cx="59.0" cy="87.0" r="1.5" fill="#2a4cf0" fill-opacity="0.58"/>
<circle cx="52.6" cy="45.7" r="1.4" fill="#2a4cf0" fill-opacity="0.56"/>
<circle cx="65.5" cy="15.4" r="1.2" fill="#2a4cf0" fill-opacity="0.98"/>
<circle cx="33.9" cy="69.3" r="1.3" fill="#2a4cf0" fill-opacity="0.89"/>
<circle cx="85.2" cy="85.9" r="1.1" fill="#2a4cf0" fill-opacity="0.49"/>
<circle cx="71.9" cy="75.9" r="1.5" fill="#2a4cf0" fill-opacity="0.28"/>
<circle cx="6.8" cy="63.1" r="1.5" fill="#2a4cf0" fill-opacity="1.00"/>
<circle cx="74.7" cy="43.4" r="0.9" fill="#2a4cf0" fill-opacity="0.73"/>
<circle cx="87.3" cy="44.4" r="1.4" fill="#2a4cf0" fill-opacity="0.93"/>
<circle cx="4.6" cy="79.6" r="1.1" fill="#2a4cf0" fill-opacity="0.53"/>
<circle cx="14.6" cy="53.1" r="1.3" fill="#2a4cf0" fill-opacity="0.84"/>
<circle cx="17.0" cy="7.9" r="1.5" fill="#2a4cf0" fill-opacity="0.71"/>
<circle cx="24.1" cy="91.3" r="1.0" fill="#2a4cf0" fill-opacity="0.60"/>
<circle cx="25.4" cy="25.5" r="0.9" fill="#2a4cf0" fill-opacity="0.85"/>
<circle cx="90.1" cy="67.8" r="1.0" fill="#2a4cf0" fill-opacity="0.58"/>
<circle cx="34.6" cy="58.8" r="1.3" fill="#2a4cf0" fill-opacity="0.57"/>
<circle cx="25.0" cy="84.5" r="1.0" fill="#2a4cf0" fill-opacity="0.54"/>
<circle cx="48.3" cy="23.7" r="1.3" fill="#2a4cf0" fill-opacity="0.68"/>
<circle cx="99.3" cy="29.5" r="1.6" fill="#2a4cf0" fill-opacity="0.74"/>
<circle cx="27.4" cy="56.6" r="1.4" fill="#2a4cf0" fill-opacity="0.81"/>
<circle cx="4.9" cy="60.6" r="1.2" fill="#2a4cf0" fill-opacity="0.93"/>
<circle cx="28.6" cy="79.9" r="1.3" fill="#2a4cf0" fill-opacity="0.51"/>
<circle cx="63.7" cy="62.1" r="1.4" fill="#2a4cf0" fill-opacity="0.79"/>
<circle cx="65.9" cy="83.8" r="1.3" fill="#2a4cf0" fill-opacity="0.93"/>
<circle cx="64.6" cy="30.9" r="1.2" fill="#2a4cf0" fill-opacity="0.68"/>
<circle cx="73.2" cy="9.0" r="1.1" fill="#2a4cf0" fill-opacity="0.81"/>
<circle cx="17.6" cy="13.2" r="1.3" fill="#2a4cf0" fill-opacity="0.98"/>
<circle cx="53.1" cy="91.3" r="1.5" fill="#2a4cf0" fill-opacity="0.44"/>
<circle cx="82.5" cy="48.2" r="1.5" fill="#2a4cf0" fill-opacity="0.81"/>
<circle cx="33.9" cy="11.5" r="1.6" fill="#2a4cf0" fill-opacity="0.36"/>
<circle cx="96.7" cy="86.0" r="1.4" fill="#2a4cf0" fill-opacity="0.98"/>
<circle cx="96.7" cy="80.5" r="1.1" fill="#2a4cf0" fill-opacity="0.84"/>
<circle cx="1.4" cy="53.7" r="1.2" fill="#2a4cf0" fill-opacity="0.75"/>
<circle cx="67.2" cy="58.5" r="1.5" fill="#2a4cf0" fill-opacity="0.96"/>
<circle cx="10.8" cy="23.4" r="0.9" fill="#2a4cf0" fill-opacity="0.91"/>
<circle cx="56.1" cy="91.5" r="1.0" fill="#2a4cf0" fill-opacity="0.30"/>
<circle cx="82.4" cy="90.9" r="1.1" fill="#2a4cf0" fill-opacity="0.56"/>
<circle cx="14.0" cy="94.6" r="1.1" fill="#2a4cf0" fill-opacity="0.62"/>
<circle cx="9.7" cy="88.7" r="1.0" fill="#2a4cf0" fill-opacity="0.59"/>
<circle cx="67.0" cy="74.3" r="1.6" fill="#2a4cf0" fill-opacity="0.56"/>
<circle cx="74.2" cy="15.5" r="1.2" fill="#2a4cf0" fill-opacity="0.32"/>
<circle cx="48.9" cy="40.8" r="1.6" fill="#2a4cf0" fill-opacity="0.27"/>
<circle cx="37.1" cy="44.3" r="1.6" fill="#2a4cf0" fill-opacity="0.89"/>
<circle cx="9.9" cy="68.6" r="1.3" fill="#2a4cf0" fill-opacity="0.98"/>
<circle cx="35.9" cy="39.8" r="1.0" fill="#2a4cf0" fill-opacity="0.34"/>
<circle cx="84.8" cy="45.5" r="1.3" fill="#2a4cf0" fill-opacity="0.73"/>
<circle cx="59.7" cy="2.1" r="1.4" fill="#2a4cf0" fill-opacity="0.43"/>
<circle cx="12.6" cy="56.5" r="0.9" fill="#2a4cf0" fill-opacity="0.82"/>
<circle cx="20.7" cy="21.6" r="1.5" fill="#2a4cf0" fill-opacity="0.50"/>
<circle cx="14.8" cy="90.1" r="0.9" fill="#2a4cf0" fill-opacity="0.89"/>
<circle cx="14.5" cy="13.0" r="1.0" fill="#2a4cf0" fill-opacity="0.38"/>
<circle cx="66.1" cy="2.6" r="0.9" fill="#2a4cf0" fill-opacity="0.84"/>
<circle cx="23.8" cy="32.4" r="1.0" fill="#2a4cf0" fill-opacity="0.29"/>
<circle cx="74.2" cy="52.6" r="1.4" fill="#2a4cf0" fill-opacity="0.61"/>
<circle cx="77.8" cy="51.3" r="0.9" fill="#2a4cf0" fill-opacity="0.63"/>
<circle cx="94.5" cy="4.3" r="1.4" fill="#2a4cf0" fill-opacity="0.90"/>
<circle cx="52.1" cy="45.8" r="1.6" fill="#2a4cf0" fill-opacity="0.30"/>
<circle cx="47.9" cy="40.2" r="1.4" fill="#2a4cf0" fill-opacity="0.62"/>
<circle cx="91.0" cy="7.3" r="0.9" fill="#2a4cf0" fill-opacity="0.71"/>
<circle cx="6.6" cy="27.5" r="1.3" fill="#2a4cf0" fill-opacity="0.66"/>
<circle cx="32.5" cy="99.5" r="1.2" fill="#2a4cf0" fill-opacity="0.59"/>
<circle cx="60.5" cy="9.9" r="1.4" fill="#2a4cf0" fill-opacity="0.89"/>
<circle cx="65.1" cy="76.9" r="1.4" fill="#2a4cf0" fill-opacity="0.41"/>
<circle cx="45.2" cy="22.8" r="1.1" fill="#2a4cf0" fill-opacity="0.59"/>
<circle cx="41.6" cy="9.5" r="1.2" fill="#2a4cf0" fill-opacity="0.75"/>
<circle cx="37.4" cy="15.3" r="1.5" fill="#2a4cf0" fill-opacity="0.30"/>
<circle cx="83.2" cy="9.3" r="0.9" fill="#2a4cf0" fill-opacity="0.80"/>
<circle cx="81.2" cy="55.6" r="1.3" fill="#2a4cf0" fill-opacity="0.67"/>
<circle cx="33.0" cy="12.2" r="1.1" fill="#2a4cf0" fill-opacity="0.75"/>
<circle cx="75.0" cy="86.8" r="1.4" fill="#2a4cf0" fill-opacity="0.98"/>
<circle cx="60.0" cy="35.2" r="1.3" fill="#2a4cf0" fill-opacity="0.41"/>
<circle cx="65.7" cy="22.4" r="0.9" fill="#2a4cf0" fill-opacity="0.88"/>
<circle cx="36.8" cy="76.3" r="1.3" fill="#2a4cf0" fill-opacity="0.86"/>
<circle cx="84.5" cy="97.5" r="1.5" fill="#2a4cf0" fill-opacity="0.71"/>
<circle cx="64.3" cy="2.6" r="1.5" fill="#2a4cf0" fill-opacity="0.87"/>
<circle cx="26.7" cy="18.0" r="1.4" fill="#2a4cf0" fill-opacity="0.48"/>
<circle cx="34.0" cy="0.6" r="1.5" fill="#2a4cf0" fill-opacity="0.67"/>
<circle cx="40.1" cy="14.2" r="1.3" fill="#2a4cf0" fill-opacity="0.27"/>
<circle cx="74.6" cy="21.5" r="1.2" fill="#2a4cf0" fill-opacity="0.51"/>
<circle cx="37.0" cy="72.2" r="1.4" fill="#2a4cf0" fill-opacity="0.68"/>
<circle cx="8.5" cy="5.3" r="1.0" fill="#2a4cf0" fill-opacity="0.71"/>
<circle cx="67.4" cy="27.2" r="1.3" fill="#2a4cf0" fill-opacity="0.61"/>
<circle cx="44.2" cy="27.3" r="1.4" fill="#2a4cf0" fill-opacity="0.34"/>
<circle cx="43.0" cy="28.3" r="1.4" fill="#2a4cf0" fill-opacity="0.61"/>
<circle cx="66.7" cy="4.5" r="1.1" fill="#2a4cf0" fill-opacity="0.70"/>
<circle cx="0.8" cy="30.1" r="1.0" fill="#2a4cf0" fill-opacity="0.35"/>
<circle cx="25.6" cy="32.8" r="0.9" fill="#2a4cf0" fill-opacity="0.81"/>
<circle cx="17.6" cy="38.0" r="1.4" fill="#2a4cf0" fill-opacity="0.63"/>
<circle cx="83.3" cy="80.6" r="0.9" fill="#2a4cf0" fill-opacity="0.90"/>
<circle cx="4.2" cy="1.9" r="1.5" fill="#2a4cf0" fill-opacity="0.90"/>
<circle cx="57.6" cy="57.3" r="1.4" fill="#2a4cf0" fill-opacity="0.56"/>
<circle cx="11.5" cy="2.1" r="1.1" fill="#2a4cf0" fill-opacity="0.85"/>
<circle cx="61.8" cy="83.2" r="1.5" fill="#2a4cf0" fill-opacity="0.32"/>
<circle cx="84.4" cy="24.3" r="1.3" fill="#2a4cf0" fill-opacity="0.64"/>
<circle cx="39.6" cy="31.0" r="1.1" fill="#2a4cf0" fill-opacity="0.50"/>
<circle cx="16.8" cy="51.0" r="0.9" fill="#2a4cf0" fill-opacity="0.63"/>
<circle cx="90.6" cy="34.9" r="1.4" fill="#2a4cf0" fill-opacity="0.86"/>
<circle cx="81.5" cy="23.6" r="1.0" fill="#2a4cf0" fill-opacity="0.40"/>
<circle cx="60.2" cy="76.0" r="1.3" fill="#2a4cf0" fill-opacity="0.38"/>
<circle cx="77.3" cy="49.4" r="1.4" fill="#2a4cf0" fill-opacity="0.82"/>
<circle cx="44.9" cy="92.4" r="1.3" fill="#2a4cf0" fill-opacity="0.73"/>
<circle cx="62.5" cy="86.4" r="1.3" fill="#2a4cf0" fill-opacity="0.36"/>
<circle cx="6.8" cy="44.2" r="1.1" fill="#2a4cf0" fill-opacity="0.46"/>
<circle cx="5.6" cy="50.7" r="1.1" fill="#2a4cf0" fill-opacity="0.59"/>
<circle cx="5.7" cy="83.2" r="0.9" fill="#2a4cf0" fill-opacity="0.90"/>
<circle cx="85.5" cy="61.5" r="1.2" fill="#2a4cf0" fill-opacity="0.60"/>
<circle cx="55.4" cy="79.2" r="1.5" fill="#2a4cf0" fill-opacity="0.59"/>
<circle cx="81.0" cy="65.2" r="1.1" fill="#2a4cf0" fill-opacity="0.61"/>
<circle cx="15.1" cy="6.2" r="0.9" fill="#2a4cf0" fill-opacity="0.92"/>
<circle cx="34.3" cy="71.4" r="1.2" fill="#2a4cf0" fill-opacity="0.38"/>
<circle cx="24.8" cy="43.8" r="1.2" fill="#2a4cf0" fill-opacity="0.64"/>
<circle cx="15.9" cy="37.3" r="1.1" fill="#2a4cf0" fill-opacity="0.56"/>
<circle cx="33.8" cy="59.8" r="1.4" fill="#2a4cf0" fill-opacity="0.74"/>
<circle cx="6.6" cy="9.5" r="1.4" fill="#2a4cf0" fill-opacity="0.46"/>
<circle cx="72.4" cy="65.7" r="1.5" fill="#2a4cf0" fill-opacity="0.90"/>
<circle cx="33.3" cy="58.3" r="1.0" fill="#2a4cf0" fill-opacity="0.51"/>
<circle cx="96.8" cy="69.8" r="1.1" fill="#2a4cf0" fill-opacity="0.70"/>
<circle cx="93.8" cy="31.0" r="1.1" fill="#2a4cf0" fill-opacity="0.84"/>
<circle cx="81.3" cy="67.0" r="1.5" fill="#2a4cf0" fill-opacity="0.80"/>
<circle cx="68.5" cy="52.6" r="1.3" fill="#2a4cf0" fill-opacity="0.57"/>
<circle cx="36.2" cy="36.3" r="1.0" fill="#2a4cf0" fill-opacity="0.41"/>
<circle cx="94.8" cy="48.6" r="1.0" fill="#2a4cf0" fill-opacity="0.35"/>
<circle cx="7.7" cy="84.4" r="0.9" fill="#2a4cf0" fill-opacity="0.83"/>
<circle cx="83.5" cy="88.4" r="0.9" fill="#2a4cf0" fill-opacity="0.50"/>
<circle cx="76.6" cy="13.1" r="1.1" fill="#2a4cf0" fill-opacity="0.37"/>
<circle cx="83.1" cy="77.1" r="1.5" fill="#2a4cf0" fill-opacity="0.37"/>
<circle cx="43.8" cy="41.1" r="1.4" fill="#2a4cf0" fill-opacity="0.43"/>
<circle cx="44.4" cy="28.5" r="1.4" fill="#2a4cf0" fill-opacity="0.59"/>
<circle cx="53.4" cy="30.9" r="1.5" fill="#2a4cf0" fill-opacity="0.60"/>
<circle cx="83.5" cy="36.8" r="1.6" fill="#2a4cf0" fill-opacity="0.99"/>
<circle cx="46.2" cy="28.2" r="1.1" fill="#2a4cf0" fill-opacity="0.65"/>
<circle cx="96.6" cy="81.7" r="1.5" fill="#2a4cf0" fill-opacity="0.35"/>
<circle cx="25.0" cy="64.1" r="1.5" fill="#2a4cf0" fill-opacity="0.67"/>
<circle cx="10.3" cy="84.6" r="1.5" fill="#2a4cf0" fill-opacity="0.46"/>
<circle cx="76.3" cy="27.3" r="1.5" fill="#2a4cf0" fill-opacity="0.36"/>
<circle cx="43.7" cy="94.6" r="1.0" fill="#2a4cf0" fill-opacity="0.59"/>
<circle cx="35.0" cy="2.7" r="0.9" fill="#2a4cf0" fill-opacity="0.63"/>
<circle cx="23.6" cy="99.5" r="1.1" fill="#2a4cf0" fill-opacity="0.27"/>
<circle cx="93.1" cy="83.9" r="1.3" fill="#2a4cf0" fill-opacity="0.84"/>
<circle cx="13.8" cy="28.7" r="1.5" fill="#2a4cf0" fill-opacity="0.77"/>
<circle cx="13.9" cy="70.6" r="1.2" fill="#2a4cf0" fill-opacity="0.25"/>
<circle cx="7.9" cy="25.6" r="1.5" fill="#2a4cf0" fill-opacity="0.66"/>
<circle cx="72.7" cy="52.8" r="0.9" fill="#2a4cf0" fill-opacity="0.47"/>
<circle cx="30.1" cy="4.8" r="1.2" fill="#2a4cf0" fill-opacity="0.85"/>
<circle cx="45.7" cy="11.1" r="1.5" fill="#2a4cf0" fill-opacity="0.70"/>
<circle cx="1.6" cy="51.5" r="1.0" fill="#2a4cf0" fill-opacity="0.36"/>
<circle cx="42.9" cy="61.5" r="1.0" fill="#2a4cf0" fill-opacity="0.56"/>
<circle cx="66.4" cy="8.6" r="1.6" fill="#2a4cf0" fill-opacity="0.30"/>
<circle cx="52.6" cy="50.7" r="1.6" fill="#2a4cf0" fill-opacity="0.67"/>
<circle cx="39.0" cy="47.0" r="1.3" fill="#2a4cf0" fill-opacity="0.99"/>
<circle cx="25.4" cy="1.6" r="1.4" fill="#2a4cf0" fill-opacity="0.51"/>
<circle cx="73.3" cy="62.8" r="1.4" fill="#2a4cf0" fill-opacity="0.80"/>
<circle cx="33.3" cy="4.4" r="1.3" fill="#2a4cf0" fill-opacity="0.86"/>
<circle cx="17.5" cy="77.9" r="1.2" fill="#2a4cf0" fill-opacity="0.77"/>
<circle cx="63.2" cy="81.1" r="0.9" fill="#2a4cf0" fill-opacity="0.83"/>
<circle cx="45.8" cy="29.3" r="0.9" fill="#2a4cf0" fill-opacity="0.40"/>
<circle cx="4.2" cy="93.3" r="1.2" fill="#2a4cf0" fill-opacity="0.99"/>
<circle cx="54.3" cy="25.3" r="1.4" fill="#2a4cf0" fill-opacity="0.39"/>
<circle cx="35.7" cy="78.1" r="1.5" fill="#2a4cf0" fill-opacity="0.50"/>
<circle cx="12.4" cy="36.8" r="1.5" fill="#2a4cf0" fill-opacity="0.81"/>
<circle cx="89.5" cy="38.7" r="1.6" fill="#2a4cf0" fill-opacity="0.62"/>
<circle cx="49.8" cy="92.4" r="1.2" fill="#2a4cf0" fill-opacity="0.85"/>
<circle cx="72.7" cy="7.9" r="1.3" fill="#2a4cf0" fill-opacity="0.87"/>
<circle cx="54.5" cy="32.1" r="0.9" fill="#2a4cf0" fill-opacity="0.75"/>
<circle cx="30.6" cy="60.3" r="1.2" fill="#2a4cf0" fill-opacity="0.77"/>
<circle cx="35.2" cy="4.2" r="1.5" fill="#2a4cf0" fill-opacity="0.51"/>
<circle cx="99.8" cy="27.5" r="1.6" fill="#2a4cf0" fill-opacity="0.96"/>
<circle cx="7.5" cy="63.8" r="1.1" fill="#2a4cf0" fill-opacity="0.85"/>
<circle cx="67.9" cy="95.3" r="1.0" fill="#2a4cf0" fill-opacity="0.71"/>
<circle cx="78.1" cy="3.5" r="0.9" fill="#2a4cf0" fill-opacity="0.83"/>
<circle cx="36.6" cy="38.3" r="1.3" fill="#2a4cf0" fill-opacity="0.70"/>
<circle cx="67.9" cy="94.9" r="1.1" fill="#2a4cf0" fill-opacity="0.82"/>
<circle cx="57.4" cy="52.9" r="1.1" fill="#2a4cf0" fill-opacity="0.74"/>
<circle cx="25.0" cy="11.3" r="1.4" fill="#2a4cf0" fill-opacity="0.62"/>
<circle cx="38.7" cy="56.2" r="1.0" fill="#2a4cf0" fill-opacity="0.45"/>
<circle cx="44.6" cy="99.6" r="1.1" fill="#2a4cf0" fill-opacity="0.94"/>
<circle cx="49.1" cy="12.3" r="1.5" fill="#2a4cf0" fill-opacity="0.59"/>
<circle cx="89.9" cy="44.5" r="0.9" fill="#2a4cf0" fill-opacity="0.76"/>
<circle cx="84.6" cy="32.0" r="1.1" fill="#2a4cf0" fill-opacity="0.30"/>
<circle cx="54.2" cy="89.1" r="1.5" fill="#2a4cf0" fill-opacity="0.78"/>
<circle cx="92.7" cy="63.8" r="1.4" fill="#2a4cf0" fill-opacity="0.63"/>
<circle cx="12.1" cy="20.1" r="1.0" fill="#2a4cf0" fill-opacity="0.84"/>
<circle cx="2.6" cy="55.4" r="1.1" fill="#2a4cf0" fill-opacity="0.85"/>
<circle cx="55.2" cy="61.2" r="0.9" fill="#2a4cf0" fill-opacity="0.48"/>
<circle cx="100.0" cy="71.9" r="1.2" fill="#2a4cf0" fill-opacity="0.83"/>
<circle cx="82.3" cy="7.4" r="1.6" fill="#2a4cf0" fill-opacity="0.73"/>
<circle cx="45.0" cy="68.0" r="1.1" fill="#2a4cf0" fill-opacity="0.91"/>
<circle cx="78.0" cy="64.0" r="1.0" fill="#2a4cf0" fill-opacity="0.97"/>
<circle cx="43.3" cy="91.1" r="0.9" fill="#2a4cf0" fill-opacity="0.34"/>
<circle cx="15.3" cy="16.5" r="1.1" fill="#2a4cf0" fill-opacity="0.78"/>
<circle cx="34.6" cy="94.1" r="1.5" fill="#2a4cf0" fill-opacity="0.88"/>
<circle cx="25.1" cy="63.5" r="1.3" fill="#2a4cf0" fill-opacity="0.34"/>
<circle cx="30.3" cy="53.3" r="1.2" fill="#2a4cf0" fill-opacity="0.38"/>
<circle cx="94.2" cy="15.4" r="1.3" fill="#2a4cf0" fill-opacity="0.79"/>
<circle cx="60.5" cy="84.3" r="1.3" fill="#2a4cf0" fill-opacity="0.87"/>
<circle cx="2.8" cy="4.5" r="1.3" fill="#2a4cf0" fill-opacity="0.68"/>
<circle cx="65.1" cy="76.7" r="1.2" fill="#2a4cf0" fill-opacity="0.73"/>
<circle cx="49.8" cy="62.7" r="1.1" fill="#2a4cf0" fill-opacity="0.97"/>
<circle cx="48.3" cy="80.5" r="1.4" fill="#2a4cf0" fill-opacity="0.47"/>
<circle cx="7.3" cy="6.0" r="1.2" fill="#2a4cf0" fill-opacity="0.61"/>
<circle cx="20.4" cy="60.7" r="1.1" fill="#2a4cf0" fill-opacity="0.79"/>
<circle cx="73.4" cy="86.1" r="1.6" fill="#2a4cf0" fill-opacity="0.35"/>
<circle cx="37.1" cy="56.2" r="1.1" fill="#2a4cf0" fill-opacity="0.60"/>
<circle cx="26.7" cy="24.8" r="0.9" fill="#2a4cf0" fill-opacity="0.47"/>
<circle cx="38.4" cy="61.5" r="1.0" fill="#2a4cf0" fill-opacity="0.90"/>
<circle cx="16.0" cy="32.7" r="1.3" fill="#2a4cf0" fill-opacity="0.48"/>
<circle cx="76.3" cy="49.8" r="1.2" fill="#2a4cf0" fill-opacity="0.62"/>
<circle cx="30.9" cy="2.3" r="1.6" fill="#2a4cf0" fill-opacity="0.63"/>
<circle cx="96.7" cy="21.5" r="1.1" fill="#2a4cf0" fill-opacity="0.29"/>
<circle cx="49.5" cy="88.2" r="1.3" fill="#2a4cf0" fill-opacity="0.60"/>
<circle cx="53.7" cy="84.7" r="1.2" fill="#2a4cf0" fill-opacity="0.91"/>
<circle cx="72.8" cy="76.4" r="1.1" fill="#2a4cf0" fill-opacity="0.55"/>
<circle cx="57.0" cy="19.5" r="1.3" fill="#2a4cf0" fill-opacity="0.31"/>
<circle cx="50.4" cy="76.4" r="1.1" fill="#2a4cf0" fill-opacity="0.99"/>
<circle cx="68.0" cy="11.9" r="1.6" fill="#2a4cf0" fill-opacity="0.55"/>
<circle cx="79.5" cy="33.9" r="1.6" fill="#2a4cf0" fill-opacity="0.82"/>
<circle cx="19.9" cy="50.9" r="1.2" fill="#2a4cf0" fill-opacity="0.28"/>
<circle cx="13.7" cy="33.3" r="1.2" fill="#2a4cf0" fill-opacity="0.59"/>
<circle cx="60.6" cy="51.6" r="1.1" fill="#2a4cf0" fill-opacity="0.71"/>
<circle cx="16.3" cy="99.1" r="1.4" fill="#2a4cf0" fill-opacity="0.47"/>
<circle cx="33.6" cy="82.8" r="1.2" fill="#2a4cf0" fill-opacity="0.78"/>
<circle cx="30.0" cy="81.6" r="1.1" fill="#2a4cf0" fill-opacity="0.76"/>
<circle cx="98.0" cy="58.4" r="1.4" fill="#2a4cf0" fill-opacity="0.79"/>
<circle cx="68.8" cy="2.7" r="1.2" fill="#2a4cf0" fill-opacity="0.98"/>
<circle cx="78.3" cy="77.6" r="1.3" fill="#2a4cf0" fill-opacity="0.79"/>
<circle cx="58.4" cy="17.1" r="1.3" fill="#2a4cf0" fill-opacity="0.71"/>
<circle cx="84.1" cy="14.8" r="1.4" fill="#2a4cf0" fill-opacity="0.27"/>
<circle cx="94.8" cy="11.0" r="0.9" fill="#2a4cf0" fill-opacity="0.49"/>
<circle cx="15.1" cy="69.1" r="1.2" fill="#2a4cf0" fill-opacity="0.83"/>
<circle cx="92.1" cy="87.3" r="1.4" fill="#2a4cf0" fill-opacity="0.30"/>
<circle cx="13.8" cy="20.7" r="1.1" fill="#2a4cf0" fill-opacity="0.75"/>
<circle cx="52.5" cy="31.4" r="1.0" fill="#2a4cf0" fill-opacity="0.93"/>
<circle cx="34.2" cy="35.4" r="1.4" fill="#2a4cf0" fill-opacity="0.79"/>
<circle cx="64.3" cy="69.3" r="1.3" fill="#2a4cf0" fill-opacity="0.39"/>
<circle cx="24.7" cy="55.8" r="1.0" fill="#2a4cf0" fill-opacity="0.98"/>
<circle cx="29.8" cy="28.9" r="1.0" fill="#2a4cf0" fill-opacity="0.78"/>
<circle cx="31.7" cy="34.9" r="1.6" fill="#2a4cf0" fill-opacity="0.85"/>
<circle cx="27.3" cy="12.2" r="1.4" fill="#2a4cf0" fill-opacity="0.53"/>
<circle cx="98.0" cy="81.8" r="1.6" fill="#2a4cf0" fill-opacity="0.85"/>
<circle cx="29.0" cy="28.8" r="1.4" fill="#2a4cf0" fill-opacity="0.51"/>
<circle cx="44.2" cy="25.6" r="1.2" fill="#2a4cf0" fill-opacity="0.40"/>
<circle cx="53.9" cy="93.3" r="1.4" fill="#2a4cf0" fill-opacity="0.35"/>
<circle cx="61.6" cy="58.7" r="1.0" fill="#2a4cf0" fill-opacity="0.75"/>
<circle cx="53.1" cy="63.8" r="0.9" fill="#2a4cf0" fill-opacity="0.56"/>
<circle cx="71.7" cy="10.1" r="1.4" fill="#2a4cf0" fill-opacity="0.25"/>
<circle cx="55.0" cy="92.9" r="1.2" fill="#2a4cf0" fill-opacity="0.95"/>
<circle cx="87.8" cy="47.7" r="1.0" fill="#2a4cf0" fill-opacity="0.97"/>
<circle cx="32.1" cy="64.6" r="1.5" fill="#2a4cf0" fill-opacity="0.32"/>
<circle cx="57.4" cy="53.5" r="1.4" fill="#2a4cf0" fill-opacity="0.95"/>
<circle cx="91.3" cy="17.5" r="1.5" fill="#2a4cf0" fill-opacity="0.38"/>
<circle cx="92.0" cy="99.7" r="1.1" fill="#2a4cf0" fill-opacity="0.62"/>
<circle cx="93.7" cy="96.2" r="1.5" fill="#2a4cf0" fill-opacity="0.91"/>
<circle cx="0.9" cy="56.8" r="0.9" fill="#2a4cf0" fill-opacity="0.99"/>
<circle cx="28.5" cy="98.9" r="1.3" fill="#2a4cf0" fill-opacity="0.62"/>
<circle cx="93.9" cy="85.1" r="1.2" fill="#2a4cf0" fill-opacity="0.39"/>
<circle cx="11.3" cy="16.2" r="1.2" fill="#2a4cf0" fill-opacity="0.44"/>
<circle cx="18.6" cy="73.7" r="1.4" fill="#2a4cf0" fill-opacity="0.68"/>
<circle cx="75.7" cy="17.5" r="1.5" fill="#2a4cf0" fill-opacity="0.92"/>
<circle cx="82.7" cy="51.5" r="0.9" fill="#2a4cf0" fill-opacity="0.75"/>
<circle cx="18.5" cy="14.1" r="1.1" fill="#2a4cf0" fill-opacity="0.44"/>
<circle cx="26.1" cy="23.6" r="1.4" fill="#2a4cf0" fill-opacity="0.97"/>
<circle cx="30.2" cy="72.3" r="0.9" fill="#2a4cf0" fill-opacity="0.74"/>
<circle cx="69.3" cy="6.2" r="0.9" fill="#2a4cf0" fill-opacity="0.48"/>
<circle cx="40.5" cy="50.3" r="1.5" fill="#2a4cf0" fill-opacity="0.78"/>
<circle cx="31.1" cy="11.7" r="1.5" fill="#2a4cf0" fill-opacity="0.47"/>
<circle cx="61.5" cy="21.9" r="1.0" fill="#2a4cf0" fill-opacity="0.36"/>
<circle cx="74.8" cy="60.6" r="1.2" fill="#2a4cf0" fill-opacity="0.66"/>
<circle cx="47.1" cy="53.8" r="1.3" fill="#2a4cf0" fill-opacity="0.41"/>
<circle cx="24.7" cy="75.5" r="1.5" fill="#2a4cf0" fill-opacity="0.31"/>
<circle cx="44.7" cy="70.4" r="0.9" fill="#2a4cf0" fill-opacity="0.67"/>
<circle cx="6.2" cy="54.8" r="1.2" fill="#2a4cf0" fill-opacity="0.68"/>
<circle cx="15.0" cy="32.8" r="1.2" fill="#2a4cf0" fill-opacity="0.34"/>
<circle cx="20.5" cy="58.3" r="0.9" fill="#2a4cf0" fill-opacity="0.63"/>
<circle cx="80.9" cy="45.3" r="1.2" fill="#2a4cf0" fill-opacity="0.59"/>
<circle cx="5.8" cy="46.2" r="1.5" fill="#2a4cf0" fill-opacity="0.79"/>
<circle cx="39.6" cy="81.6" r="1.4" fill="#2a4cf0" fill-opacity="0.68"/>
<circle cx="4.5" cy="34.5" r="0.9" fill="#2a4cf0" fill-opacity="1.00"/>
<circle cx="93.5" cy="6.9" r="1.6" fill="#2a4cf0" fill-opacity="0.27"/>
<circle cx="40.9" cy="76.9" r="1.4" fill="#2a4cf0" fill-opacity="0.98"/>
<circle cx="64.6" cy="42.0" r="1.6" fill="#2a4cf0" fill-opacity="0.54"/>
<circle cx="87.0" cy="90.7" r="1.1" fill="#2a4cf0" fill-opacity="0.76"/>
<circle cx="66.2" cy="53.9" r="1.3" fill="#2a4cf0" fill-opacity="0.51"/>
<circle cx="17.8" cy="53.7" r="1.2" fill="#2a4cf0" fill-opacity="0.80"/>
<circle cx="22.3" cy="0.3" r="0.9" fill="#2a4cf0" fill-opacity="0.47"/>
<circle cx="67.3" cy="54.4" r="1.2" fill="#2a4cf0" fill-opacity="0.87"/>
<circle cx="24.8" cy="34.6" r="1.1" fill="#2a4cf0" fill-opacity="0.95"/>
<circle cx="72.5" cy="11.3" r="1.5" fill="#2a4cf0" fill-opacity="0.56"/>
<circle cx="76.6" cy="88.4" r="0.9" fill="#2a4cf0" fill-opacity="0.40"/>
<circle cx="10.1" cy="3.4" r="1.3" fill="#2a4cf0" fill-opacity="0.78"/>
<circle cx="4.9" cy="74.1" r="1.2" fill="#2a4cf0" fill-opacity="0.43"/>
<circle cx="21.7" cy="86.4" r="0.9" fill="#2a4cf0" fill-opacity="0.63"/>
<circle cx="28.9" cy="81.6" r="1.4" fill="#2a4cf0" fill-opacity="0.49"/>
<circle cx="59.8" cy="67.3" r="1.1" fill="#2a4cf0" fill-opacity="0.48"/>
<circle cx="14.3" cy="66.0" r="1.0" fill="#2a4cf0" fill-opacity="0.48"/>
<circle cx="6.1" cy="94.9" r="1.5" fill="#2a4cf0" fill-opacity="0.93"/>
<circle cx="62.6" cy="42.7" r="1.2" fill="#2a4cf0" fill-opacity="0.98"/>
<circle cx="94.2" cy="67.1" r="1.4" fill="#2a4cf0" fill-opacity="0.49"/>
<circle cx="41.6" cy="14.9" r="1.1" fill="#2a4cf0" fill-opacity="0.82"/>
<circle cx="47.4" cy="84.9" r="1.1" fill="#2a4cf0" fill-opacity="0.78"/>
<circle cx="80.6" cy="91.5" r="1.3" fill="#2a4cf0" fill-opacity="0.98"/>
<circle cx="55.7" cy="13.4" r="1.0" fill="#2a4cf0" fill-opacity="0.40"/>
<circle cx="64.7" cy="92.2" r="1.5" fill="#2a4cf0" fill-opacity="0.32"/>
<circle cx="72.5" cy="19.0" r="1.1" fill="#2a4cf0" fill-opacity="0.76"/>
<circle cx="60.3" cy="87.4" r="1.0" fill="#2a4cf0" fill-opacity="0.82"/>
<circle cx="72.4" cy="55.9" r="1.2" fill="#2a4cf0" fill-opacity="0.90"/>
<circle cx="33.3" cy="95.7" r="0.9" fill="#2a4cf0" fill-opacity="0.95"/>
<circle cx="96.2" cy="11.7" r="1.6" fill="#2a4cf0" fill-opacity="0.61"/>
<circle cx="24.3" cy="60.4" r="1.0" fill="#2a4cf0" fill-opacity="0.94"/>
<circle cx="55.2" cy="77.6" r="1.1" fill="#2a4cf0" fill-opacity="0.65"/>
<circle cx="35.9" cy="26.2" r="1.2" fill="#2a4cf0" fill-opacity="0.62"/>
<circle cx="9.9" cy="98.1" r="1.2" fill="#2a4cf0" fill-opacity="0.88"/>
<circle cx="91.4" cy="37.1" r="1.2" fill="#2a4cf0" fill-opacity="0.67"/>
<circle cx="22.1" cy="14.6" r="1.0" fill="#2a4cf0" fill-opacity="0.95"/>
<circle cx="57.9" cy="41.8" r="1.0" fill="#2a4cf0" fill-opacity="0.50"/>
<circle cx="38.0" cy="83.3" r="1.2" fill="#2a4cf0" fill-opacity="0.74"/>
<circle cx="68.5" cy="25.7" r="1.5" fill="#2a4cf0" fill-opacity="0.97"/>
<circle cx="64.2" cy="49.1" r="1.0" fill="#2a4cf0" fill-opacity="0.85"/>
<circle cx="16.9" cy="72.0" r="1.2" fill="#2a4cf0" fill-opacity="0.94"/>
<circle cx="54.2" cy="64.2" r="0.9" fill="#2a4cf0" fill-opacity="0.28"/>
<circle cx="84.7" cy="94.5" r="1.4" fill="#2a4cf0" fill-opacity="0.82"/>
<circle cx="41.2" cy="84.3" r="1.0" fill="#2a4cf0" fill-opacity="0.78"/>
<circle cx="0.9" cy="50.6" r="1.1" fill="#2a4cf0" fill-opacity="0.71"/>
<circle cx="66.7" cy="61.7" r="1.2" fill="#2a4cf0" fill-opacity="0.62"/>
<circle cx="0.7" cy="55.2" r="0.9" fill="#2a4cf0" fill-opacity="0.65"/>
<circle cx="27.5" cy="97.7" r="0.9" fill="#2a4cf0" fill-opacity="0.86"/>
<circle cx="67.4" cy="80.6" r="1.5" fill="#2a4cf0" fill-opacity="0.33"/>
<circle cx="9.6" cy="14.9" r="1.0" fill="#2a4cf0" fill-opacity="0.64"/>
<circle cx="81.5" cy="26.7" r="1.1" fill="#2a4cf0" fill-opacity="0.53"/>
<circle cx="40.6" cy="56.5" r="1.6" fill="#2a4cf0" fill-opacity="0.42"/>
<circle cx="68.4" cy="84.8" r="1.3" fill="#2a4cf0" fill-opacity="0.89"/>
<circle cx="76.0" cy="9.4" r="1.1" fill="#2a4cf0" fill-opacity="0.66"/>
<circle cx="5.6" cy="0.9" r="1.0" fill="#2a4cf0" fill-opacity="0.62"/>
<circle cx="43.4" cy="78.4" r="1.3" fill="#2a4cf0" fill-opacity="0.89"/>
<circle cx="9.5" cy="52.8" r="0.9" fill="#2a4cf0" fill-opacity="0.41"/>
<circle cx="86.8" cy="88.8" r="1.2" fill="#2a4cf0" fill-opacity="0.28"/>
<circle cx="7.4" cy="92.6" r="1.5" fill="#2a4cf0" fill-opacity="0.67"/>
<circle cx="3.3" cy="92.9" r="1.1" fill="#2a4cf0" fill-opacity="0.97"/>
<circle cx="58.7" cy="75.2" r="1.4" fill="#2a4cf0" fill-opacity="0.55"/>
<circle cx="7.7" cy="16.2" r="1.0" fill="#2a4cf0" fill-opacity="0.88"/>
<circle cx="38.9" cy="89.7" r="1.1" fill="#2a4cf0" fill-opacity="0.82"/>
<circle cx="14.0" cy="98.8" r="1.4" fill="#2a4cf0" fill-opacity="0.63"/>
<circle cx="97.4" cy="5.4" r="1.2" fill="#2a4cf0" fill-opacity="0.88"/>
<circle cx="34.1" cy="76.9" r="1.6" fill="#2a4cf0" fill-opacity="0.55"/>
<circle cx="77.4" cy="3.0" r="1.1" fill="#2a4cf0" fill-opacity="0.99"/>
<circle cx="49.1" cy="35.6" r="1.6" fill="#2a4cf0" fill-opacity="0.57"/>
<circle cx="68.0" cy="66.1" r="0.9" fill="#2a4cf0" fill-opacity="0.71"/>
<circle cx="79.8" cy="71.3" r="0.9" fill="#2a4cf0" fill-opacity="0.37"/>
<circle cx="71.2" cy="63.4" r="1.4" fill="#2a4cf0" fill-opacity="0.49"/>
<circle cx="10.7" cy="0.5" r="1.1" fill="#2a4cf0" fill-opacity="0.52"/>
<circle cx="27.0" cy="13.3" r="1.0" fill="#2a4cf0" fill-opacity="0.59"/>
<circle cx="55.5" cy="40.8" r="0.9" fill="#2a4cf0" fill-opacity="0.52"/>
<circle cx="9.3" cy="59.8" r="1.1" fill="#2a4cf0" fill-opacity="0.54"/>
<circle cx="29.2" cy="38.8" r="0.9" fill="#2a4cf0" fill-opacity="0.93"/>
</pattern>
<pattern id="dG" patternUnits="userSpaceOnUse" width="100" height="100">
<circle cx="90.5" cy="97.8" r="1.3" fill="#2a9a2a" fill-opacity="0.38"/>
<circle cx="38.1" cy="13.9" r="1.1" fill="#2a9a2a" fill-opacity="0.62"/>
<circle cx="6.3" cy="43.5" r="1.2" fill="#2a9a2a" fill-opacity="0.61"/>
<circle cx="7.7" cy="25.2" r="1.0" fill="#2a9a2a" fill-opacity="0.72"/>
<circle cx="59.4" cy="19.6" r="0.9" fill="#2a9a2a" fill-opacity="0.48"/>
<circle cx="94.9" cy="33.2" r="1.3" fill="#2a9a2a" fill-opacity="0.85"/>
<circle cx="33.0" cy="33.5" r="1.5" fill="#2a9a2a" fill-opacity="0.89"/>
<circle cx="97.4" cy="13.6" r="1.1" fill="#2a9a2a" fill-opacity="0.96"/>
<circle cx="20.1" cy="31.4" r="1.6" fill="#2a9a2a" fill-opacity="0.98"/>
<circle cx="29.1" cy="69.5" r="1.2" fill="#2a9a2a" fill-opacity="0.68"/>
<circle cx="24.2" cy="37.6" r="1.5" fill="#2a9a2a" fill-opacity="0.54"/>
<circle cx="11.4" cy="56.4" r="1.3" fill="#2a9a2a" fill-opacity="0.66"/>
<circle cx="68.2" cy="55.0" r="1.6" fill="#2a9a2a" fill-opacity="0.60"/>
<circle cx="70.8" cy="43.8" r="1.1" fill="#2a9a2a" fill-opacity="0.77"/>
<circle cx="81.9" cy="79.6" r="1.2" fill="#2a9a2a" fill-opacity="0.62"/>
<circle cx="63.3" cy="24.2" r="1.3" fill="#2a9a2a" fill-opacity="0.79"/>
<circle cx="78.9" cy="7.4" r="1.6" fill="#2a9a2a" fill-opacity="0.61"/>
<circle cx="40.1" cy="50.7" r="1.5" fill="#2a9a2a" fill-opacity="0.77"/>
<circle cx="54.4" cy="79.1" r="1.1" fill="#2a9a2a" fill-opacity="0.92"/>
<circle cx="53.7" cy="63.8" r="0.9" fill="#2a9a2a" fill-opacity="0.83"/>
<circle cx="65.8" cy="35.5" r="1.3" fill="#2a9a2a" fill-opacity="0.28"/>
<circle cx="98.4" cy="67.7" r="1.1" fill="#2a9a2a" fill-opacity="0.81"/>
<circle cx="96.6" cy="43.0" r="0.9" fill="#2a9a2a" fill-opacity="0.44"/>
<circle cx="51.1" cy="51.9" r="1.3" fill="#2a9a2a" fill-opacity="0.68"/>
<circle cx="44.6" cy="39.1" r="1.4" fill="#2a9a2a" fill-opacity="0.69"/>
<circle cx="50.0" cy="34.5" r="0.9" fill="#2a9a2a" fill-opacity="0.33"/>
<circle cx="41.6" cy="96.2" r="0.9" fill="#2a9a2a" fill-opacity="0.96"/>
<circle cx="14.2" cy="31.2" r="1.2" fill="#2a9a2a" fill-opacity="0.41"/>
<circle cx="48.3" cy="47.6" r="1.2" fill="#2a9a2a" fill-opacity="0.77"/>
<circle cx="31.9" cy="30.0" r="1.5" fill="#2a9a2a" fill-opacity="0.34"/>
<circle cx="84.9" cy="64.8" r="1.4" fill="#2a9a2a" fill-opacity="0.37"/>
<circle cx="98.4" cy="24.4" r="1.0" fill="#2a9a2a" fill-opacity="0.37"/>
<circle cx="56.0" cy="95.8" r="1.0" fill="#2a9a2a" fill-opacity="0.55"/>
<circle cx="18.4" cy="64.0" r="1.2" fill="#2a9a2a" fill-opacity="0.27"/>
<circle cx="61.4" cy="19.7" r="1.3" fill="#2a9a2a" fill-opacity="0.54"/>
<circle cx="70.5" cy="20.6" r="1.4" fill="#2a9a2a" fill-opacity="0.86"/>
<circle cx="6.3" cy="10.2" r="1.5" fill="#2a9a2a" fill-opacity="0.39"/>
<circle cx="32.6" cy="45.8" r="1.0" fill="#2a9a2a" fill-opacity="0.90"/>
<circle cx="52.8" cy="63.9" r="1.3" fill="#2a9a2a" fill-opacity="0.71"/>
<circle cx="58.7" cy="34.8" r="1.5" fill="#2a9a2a" fill-opacity="0.71"/>
<circle cx="81.4" cy="70.6" r="1.1" fill="#2a9a2a" fill-opacity="0.71"/>
<circle cx="8.5" cy="13.4" r="0.9" fill="#2a9a2a" fill-opacity="0.48"/>
<circle cx="18.3" cy="69.3" r="1.2" fill="#2a9a2a" fill-opacity="0.56"/>
<circle cx="13.8" cy="38.4" r="1.0" fill="#2a9a2a" fill-opacity="0.73"/>
<circle cx="69.3" cy="64.5" r="1.6" fill="#2a9a2a" fill-opacity="0.67"/>
<circle cx="49.0" cy="14.0" r="1.1" fill="#2a9a2a" fill-opacity="0.59"/>
<circle cx="5.4" cy="35.9" r="0.9" fill="#2a9a2a" fill-opacity="0.35"/>
<circle cx="81.5" cy="96.4" r="1.2" fill="#2a9a2a" fill-opacity="0.62"/>
<circle cx="68.5" cy="41.6" r="1.5" fill="#2a9a2a" fill-opacity="0.62"/>
<circle cx="8.3" cy="3.1" r="1.4" fill="#2a9a2a" fill-opacity="0.47"/>
<circle cx="27.5" cy="53.8" r="1.0" fill="#2a9a2a" fill-opacity="0.59"/>
<circle cx="74.3" cy="76.6" r="1.3" fill="#2a9a2a" fill-opacity="0.33"/>
<circle cx="11.4" cy="77.5" r="1.5" fill="#2a9a2a" fill-opacity="0.53"/>
<circle cx="82.3" cy="4.2" r="1.4" fill="#2a9a2a" fill-opacity="0.66"/>
<circle cx="99.0" cy="10.2" r="1.5" fill="#2a9a2a" fill-opacity="0.81"/>
<circle cx="29.8" cy="99.9" r="1.2" fill="#2a9a2a" fill-opacity="0.51"/>
<circle cx="81.7" cy="43.9" r="1.6" fill="#2a9a2a" fill-opacity="0.83"/>
<circle cx="23.7" cy="81.1" r="1.3" fill="#2a9a2a" fill-opacity="0.51"/>
<circle cx="71.1" cy="63.3" r="1.0" fill="#2a9a2a" fill-opacity="0.35"/>
<circle cx="20.7" cy="20.7" r="0.9" fill="#2a9a2a" fill-opacity="0.51"/>
<circle cx="28.1" cy="53.9" r="1.1" fill="#2a9a2a" fill-opacity="0.78"/>
<circle cx="28.9" cy="26.7" r="1.5" fill="#2a9a2a" fill-opacity="0.99"/>
<circle cx="67.9" cy="9.5" r="1.6" fill="#2a9a2a" fill-opacity="0.84"/>
<circle cx="91.9" cy="99.2" r="1.5" fill="#2a9a2a" fill-opacity="0.35"/>
<circle cx="86.6" cy="25.0" r="1.4" fill="#2a9a2a" fill-opacity="0.87"/>
<circle cx="76.1" cy="67.6" r="1.2" fill="#2a9a2a" fill-opacity="0.68"/>
<circle cx="26.9" cy="41.4" r="1.2" fill="#2a9a2a" fill-opacity="0.73"/>
<circle cx="88.0" cy="9.3" r="1.2" fill="#2a9a2a" fill-opacity="0.46"/>
<circle cx="93.6" cy="36.9" r="1.6" fill="#2a9a2a" fill-opacity="0.50"/>
<circle cx="0.2" cy="77.4" r="1.4" fill="#2a9a2a" fill-opacity="0.80"/>
<circle cx="45.8" cy="66.4" r="1.1" fill="#2a9a2a" fill-opacity="0.30"/>
<circle cx="53.4" cy="21.8" r="1.2" fill="#2a9a2a" fill-opacity="0.41"/>
<circle cx="26.9" cy="82.8" r="1.1" fill="#2a9a2a" fill-opacity="0.68"/>
<circle cx="56.6" cy="48.5" r="1.1" fill="#2a9a2a" fill-opacity="0.76"/>
<circle cx="4.8" cy="10.0" r="1.4" fill="#2a9a2a" fill-opacity="0.59"/>
<circle cx="12.4" cy="85.8" r="1.2" fill="#2a9a2a" fill-opacity="0.25"/>
<circle cx="95.8" cy="20.2" r="1.4" fill="#2a9a2a" fill-opacity="0.35"/>
<circle cx="65.0" cy="15.9" r="1.5" fill="#2a9a2a" fill-opacity="0.46"/>
<circle cx="65.5" cy="25.0" r="1.1" fill="#2a9a2a" fill-opacity="0.93"/>
<circle cx="16.6" cy="39.6" r="1.1" fill="#2a9a2a" fill-opacity="0.77"/>
<circle cx="23.4" cy="65.5" r="1.4" fill="#2a9a2a" fill-opacity="0.25"/>
<circle cx="47.7" cy="13.3" r="1.0" fill="#2a9a2a" fill-opacity="0.76"/>
<circle cx="0.9" cy="69.6" r="1.5" fill="#2a9a2a" fill-opacity="0.99"/>
<circle cx="42.2" cy="13.2" r="0.9" fill="#2a9a2a" fill-opacity="0.54"/>
<circle cx="73.1" cy="10.2" r="1.1" fill="#2a9a2a" fill-opacity="0.91"/>
<circle cx="13.7" cy="77.3" r="1.4" fill="#2a9a2a" fill-opacity="0.35"/>
<circle cx="99.3" cy="14.3" r="1.2" fill="#2a9a2a" fill-opacity="0.26"/>
<circle cx="65.0" cy="44.0" r="1.4" fill="#2a9a2a" fill-opacity="0.72"/>
<circle cx="15.1" cy="41.2" r="1.4" fill="#2a9a2a" fill-opacity="0.89"/>
<circle cx="8.7" cy="10.0" r="1.4" fill="#2a9a2a" fill-opacity="0.69"/>
<circle cx="38.4" cy="96.3" r="1.1" fill="#2a9a2a" fill-opacity="0.35"/>
<circle cx="27.7" cy="8.4" r="1.3" fill="#2a9a2a" fill-opacity="0.70"/>
<circle cx="60.8" cy="77.9" r="1.4" fill="#2a9a2a" fill-opacity="0.89"/>
<circle cx="65.8" cy="30.2" r="1.2" fill="#2a9a2a" fill-opacity="0.63"/>
<circle cx="74.8" cy="29.6" r="0.9" fill="#2a9a2a" fill-opacity="0.92"/>
<circle cx="95.5" cy="49.5" r="0.9" fill="#2a9a2a" fill-opacity="0.62"/>
<circle cx="59.4" cy="52.8" r="1.6" fill="#2a9a2a" fill-opacity="0.99"/>
<circle cx="93.4" cy="13.2" r="1.5" fill="#2a9a2a" fill-opacity="0.68"/>
<circle cx="36.5" cy="68.3" r="1.4" fill="#2a9a2a" fill-opacity="0.97"/>
<circle cx="77.0" cy="1.7" r="0.9" fill="#2a9a2a" fill-opacity="0.45"/>
<circle cx="4.0" cy="6.0" r="1.4" fill="#2a9a2a" fill-opacity="0.63"/>
<circle cx="62.9" cy="50.1" r="1.2" fill="#2a9a2a" fill-opacity="0.78"/>
<circle cx="8.2" cy="53.7" r="1.3" fill="#2a9a2a" fill-opacity="0.46"/>
<circle cx="31.0" cy="51.1" r="1.0" fill="#2a9a2a" fill-opacity="0.86"/>
<circle cx="53.6" cy="39.1" r="1.3" fill="#2a9a2a" fill-opacity="0.88"/>
<circle cx="68.1" cy="6.6" r="1.4" fill="#2a9a2a" fill-opacity="0.80"/>
<circle cx="84.6" cy="5.8" r="0.9" fill="#2a9a2a" fill-opacity="0.58"/>
<circle cx="45.3" cy="60.9" r="1.1" fill="#2a9a2a" fill-opacity="0.81"/>
<circle cx="74.1" cy="11.9" r="1.4" fill="#2a9a2a" fill-opacity="0.78"/>
<circle cx="16.4" cy="95.3" r="1.2" fill="#2a9a2a" fill-opacity="0.84"/>
<circle cx="72.1" cy="16.7" r="0.9" fill="#2a9a2a" fill-opacity="0.84"/>
<circle cx="26.9" cy="88.6" r="1.4" fill="#2a9a2a" fill-opacity="0.27"/>
<circle cx="80.7" cy="27.2" r="0.9" fill="#2a9a2a" fill-opacity="0.78"/>
<circle cx="57.7" cy="7.7" r="1.2" fill="#2a9a2a" fill-opacity="0.52"/>
<circle cx="50.0" cy="56.7" r="1.1" fill="#2a9a2a" fill-opacity="0.44"/>
<circle cx="10.3" cy="57.4" r="1.4" fill="#2a9a2a" fill-opacity="0.42"/>
<circle cx="50.9" cy="4.4" r="1.5" fill="#2a9a2a" fill-opacity="0.43"/>
<circle cx="47.2" cy="38.3" r="1.0" fill="#2a9a2a" fill-opacity="0.95"/>
<circle cx="85.7" cy="55.3" r="1.5" fill="#2a9a2a" fill-opacity="0.81"/>
<circle cx="41.9" cy="32.2" r="1.2" fill="#2a9a2a" fill-opacity="0.79"/>
<circle cx="27.1" cy="7.8" r="1.1" fill="#2a9a2a" fill-opacity="0.63"/>
<circle cx="90.2" cy="17.9" r="1.5" fill="#2a9a2a" fill-opacity="0.99"/>
<circle cx="95.4" cy="6.9" r="1.2" fill="#2a9a2a" fill-opacity="0.46"/>
<circle cx="84.5" cy="32.7" r="1.3" fill="#2a9a2a" fill-opacity="0.26"/>
<circle cx="20.1" cy="56.4" r="1.1" fill="#2a9a2a" fill-opacity="0.72"/>
<circle cx="46.4" cy="59.2" r="1.2" fill="#2a9a2a" fill-opacity="0.83"/>
<circle cx="19.5" cy="90.0" r="1.4" fill="#2a9a2a" fill-opacity="0.43"/>
<circle cx="0.6" cy="41.0" r="1.0" fill="#2a9a2a" fill-opacity="0.51"/>
<circle cx="84.0" cy="87.7" r="1.6" fill="#2a9a2a" fill-opacity="0.25"/>
<circle cx="65.7" cy="84.9" r="1.4" fill="#2a9a2a" fill-opacity="0.33"/>
<circle cx="53.0" cy="23.8" r="1.2" fill="#2a9a2a" fill-opacity="0.29"/>
<circle cx="99.7" cy="71.2" r="0.9" fill="#2a9a2a" fill-opacity="0.94"/>
<circle cx="89.7" cy="52.0" r="1.4" fill="#2a9a2a" fill-opacity="0.53"/>
<circle cx="97.5" cy="8.5" r="0.9" fill="#2a9a2a" fill-opacity="0.35"/>
<circle cx="82.0" cy="7.5" r="1.3" fill="#2a9a2a" fill-opacity="0.58"/>
<circle cx="96.4" cy="23.7" r="1.0" fill="#2a9a2a" fill-opacity="0.49"/>
<circle cx="80.1" cy="70.1" r="1.4" fill="#2a9a2a" fill-opacity="0.49"/>
<circle cx="27.2" cy="7.5" r="1.0" fill="#2a9a2a" fill-opacity="0.83"/>
<circle cx="58.5" cy="15.5" r="1.0" fill="#2a9a2a" fill-opacity="0.60"/>
<circle cx="40.7" cy="53.6" r="1.6" fill="#2a9a2a" fill-opacity="0.41"/>
<circle cx="30.8" cy="26.5" r="0.9" fill="#2a9a2a" fill-opacity="0.37"/>
<circle cx="68.6" cy="82.6" r="1.4" fill="#2a9a2a" fill-opacity="0.28"/>
<circle cx="83.6" cy="32.8" r="0.9" fill="#2a9a2a" fill-opacity="0.44"/>
<circle cx="35.6" cy="51.3" r="1.4" fill="#2a9a2a" fill-opacity="0.45"/>
<circle cx="99.1" cy="3.1" r="1.2" fill="#2a9a2a" fill-opacity="0.59"/>
<circle cx="74.8" cy="25.0" r="1.2" fill="#2a9a2a" fill-opacity="0.85"/>
<circle cx="14.0" cy="1.2" r="1.5" fill="#2a9a2a" fill-opacity="0.99"/>
<circle cx="13.1" cy="82.4" r="1.1" fill="#2a9a2a" fill-opacity="0.72"/>
<circle cx="64.5" cy="58.2" r="1.0" fill="#2a9a2a" fill-opacity="0.86"/>
<circle cx="2.2" cy="6.4" r="1.5" fill="#2a9a2a" fill-opacity="0.58"/>
<circle cx="12.9" cy="90.5" r="1.5" fill="#2a9a2a" fill-opacity="0.50"/>
<circle cx="4.3" cy="46.1" r="1.0" fill="#2a9a2a" fill-opacity="0.68"/>
<circle cx="82.2" cy="39.5" r="0.9" fill="#2a9a2a" fill-opacity="0.76"/>
<circle cx="17.3" cy="21.5" r="1.0" fill="#2a9a2a" fill-opacity="0.46"/>
<circle cx="88.3" cy="3.5" r="1.3" fill="#2a9a2a" fill-opacity="0.43"/>
<circle cx="29.5" cy="41.2" r="1.3" fill="#2a9a2a" fill-opacity="0.30"/>
<circle cx="28.0" cy="13.7" r="1.0" fill="#2a9a2a" fill-opacity="0.91"/>
<circle cx="52.6" cy="63.1" r="1.5" fill="#2a9a2a" fill-opacity="0.85"/>
<circle cx="98.9" cy="78.2" r="1.1" fill="#2a9a2a" fill-opacity="0.66"/>
<circle cx="48.5" cy="91.3" r="1.2" fill="#2a9a2a" fill-opacity="0.54"/>
<circle cx="18.0" cy="31.9" r="1.0" fill="#2a9a2a" fill-opacity="0.92"/>
<circle cx="77.9" cy="5.9" r="1.6" fill="#2a9a2a" fill-opacity="0.65"/>
<circle cx="76.7" cy="100.0" r="1.6" fill="#2a9a2a" fill-opacity="0.33"/>
<circle cx="65.7" cy="26.7" r="1.5" fill="#2a9a2a" fill-opacity="0.94"/>
<circle cx="5.6" cy="99.6" r="1.0" fill="#2a9a2a" fill-opacity="0.88"/>
<circle cx="79.7" cy="35.5" r="1.5" fill="#2a9a2a" fill-opacity="0.88"/>
<circle cx="17.6" cy="59.3" r="1.5" fill="#2a9a2a" fill-opacity="0.77"/>
<circle cx="91.4" cy="2.8" r="1.4" fill="#2a9a2a" fill-opacity="0.96"/>
<circle cx="56.4" cy="56.3" r="1.0" fill="#2a9a2a" fill-opacity="0.99"/>
<circle cx="88.2" cy="49.2" r="1.1" fill="#2a9a2a" fill-opacity="0.62"/>
<circle cx="9.0" cy="23.3" r="1.0" fill="#2a9a2a" fill-opacity="0.64"/>
<circle cx="0.1" cy="91.8" r="1.0" fill="#2a9a2a" fill-opacity="0.35"/>
<circle cx="71.7" cy="91.9" r="1.5" fill="#2a9a2a" fill-opacity="0.49"/>
<circle cx="2.2" cy="58.7" r="1.5" fill="#2a9a2a" fill-opacity="0.83"/>
<circle cx="84.6" cy="86.1" r="1.6" fill="#2a9a2a" fill-opacity="0.53"/>
<circle cx="94.2" cy="39.6" r="0.9" fill="#2a9a2a" fill-opacity="0.48"/>
<circle cx="13.6" cy="15.8" r="1.6" fill="#2a9a2a" fill-opacity="0.84"/>
<circle cx="96.1" cy="64.9" r="1.0" fill="#2a9a2a" fill-opacity="0.98"/>
<circle cx="69.4" cy="92.9" r="1.4" fill="#2a9a2a" fill-opacity="0.42"/>
<circle cx="58.9" cy="17.5" r="1.1" fill="#2a9a2a" fill-opacity="0.77"/>
<circle cx="12.7" cy="72.9" r="1.6" fill="#2a9a2a" fill-opacity="0.96"/>
<circle cx="39.2" cy="99.4" r="1.6" fill="#2a9a2a" fill-opacity="0.27"/>
<circle cx="60.2" cy="92.1" r="1.6" fill="#2a9a2a" fill-opacity="0.42"/>
<circle cx="56.6" cy="93.7" r="1.0" fill="#2a9a2a" fill-opacity="0.81"/>
<circle cx="23.8" cy="98.2" r="1.0" fill="#2a9a2a" fill-opacity="0.91"/>
<circle cx="8.9" cy="70.9" r="1.3" fill="#2a9a2a" fill-opacity="0.91"/>
<circle cx="44.7" cy="26.5" r="1.0" fill="#2a9a2a" fill-opacity="0.30"/>
<circle cx="25.7" cy="10.8" r="0.9" fill="#2a9a2a" fill-opacity="0.54"/>
<circle cx="73.3" cy="96.9" r="1.5" fill="#2a9a2a" fill-opacity="0.62"/>
<circle cx="37.9" cy="54.6" r="0.9" fill="#2a9a2a" fill-opacity="0.61"/>
<circle cx="86.4" cy="65.1" r="1.4" fill="#2a9a2a" fill-opacity="0.37"/>
<circle cx="7.4" cy="84.6" r="1.1" fill="#2a9a2a" fill-opacity="0.49"/>
<circle cx="95.2" cy="7.4" r="1.0" fill="#2a9a2a" fill-opacity="0.53"/>
<circle cx="73.2" cy="54.7" r="1.5" fill="#2a9a2a" fill-opacity="0.32"/>
<circle cx="59.4" cy="61.4" r="1.2" fill="#2a9a2a" fill-opacity="0.27"/>
<circle cx="94.2" cy="16.5" r="1.5" fill="#2a9a2a" fill-opacity="0.37"/>
<circle cx="10.1" cy="20.6" r="1.0" fill="#2a9a2a" fill-opacity="0.77"/>
<circle cx="72.2" cy="73.0" r="1.0" fill="#2a9a2a" fill-opacity="0.46"/>
<circle cx="23.8" cy="5.0" r="1.3" fill="#2a9a2a" fill-opacity="0.88"/>
<circle cx="15.4" cy="36.1" r="1.2" fill="#2a9a2a" fill-opacity="0.47"/>
<circle cx="66.2" cy="60.0" r="1.0" fill="#2a9a2a" fill-opacity="0.27"/>
<circle cx="17.1" cy="29.2" r="0.9" fill="#2a9a2a" fill-opacity="0.88"/>
<circle cx="30.8" cy="39.7" r="1.2" fill="#2a9a2a" fill-opacity="0.75"/>
<circle cx="9.1" cy="54.4" r="1.0" fill="#2a9a2a" fill-opacity="0.91"/>
<circle cx="36.9" cy="44.6" r="1.0" fill="#2a9a2a" fill-opacity="0.60"/>
<circle cx="22.6" cy="26.9" r="0.9" fill="#2a9a2a" fill-opacity="0.81"/>
<circle cx="66.7" cy="8.6" r="1.1" fill="#2a9a2a" fill-opacity="0.66"/>
<circle cx="97.1" cy="59.0" r="1.3" fill="#2a9a2a" fill-opacity="0.88"/>
<circle cx="81.8" cy="41.9" r="1.3" fill="#2a9a2a" fill-opacity="0.90"/>
<circle cx="47.5" cy="88.2" r="1.2" fill="#2a9a2a" fill-opacity="0.31"/>
<circle cx="90.3" cy="71.4" r="1.2" fill="#2a9a2a" fill-opacity="0.93"/>
<circle cx="80.0" cy="67.8" r="1.3" fill="#2a9a2a" fill-opacity="0.34"/>
<circle cx="75.7" cy="17.3" r="1.6" fill="#2a9a2a" fill-opacity="0.98"/>
<circle cx="80.8" cy="12.6" r="1.2" fill="#2a9a2a" fill-opacity="0.99"/>
<circle cx="43.5" cy="99.7" r="1.3" fill="#2a9a2a" fill-opacity="0.88"/>
<circle cx="25.8" cy="91.1" r="1.5" fill="#2a9a2a" fill-opacity="0.30"/>
<circle cx="38.8" cy="39.7" r="1.1" fill="#2a9a2a" fill-opacity="0.46"/>
<circle cx="45.8" cy="87.3" r="1.4" fill="#2a9a2a" fill-opacity="0.72"/>
<circle cx="52.3" cy="42.0" r="1.2" fill="#2a9a2a" fill-opacity="0.36"/>
<circle cx="58.8" cy="75.8" r="1.6" fill="#2a9a2a" fill-opacity="0.94"/>
<circle cx="56.3" cy="10.1" r="1.1" fill="#2a9a2a" fill-opacity="0.65"/>
<circle cx="34.4" cy="41.1" r="1.1" fill="#2a9a2a" fill-opacity="0.61"/>
<circle cx="60.9" cy="3.7" r="1.1" fill="#2a9a2a" fill-opacity="0.36"/>
<circle cx="60.9" cy="69.4" r="0.9" fill="#2a9a2a" fill-opacity="0.92"/>
<circle cx="33.1" cy="23.8" r="1.4" fill="#2a9a2a" fill-opacity="0.94"/>
<circle cx="89.7" cy="2.0" r="1.5" fill="#2a9a2a" fill-opacity="0.48"/>
<circle cx="28.0" cy="49.2" r="1.4" fill="#2a9a2a" fill-opacity="0.32"/>
<circle cx="86.9" cy="13.4" r="1.6" fill="#2a9a2a" fill-opacity="0.58"/>
<circle cx="82.6" cy="26.9" r="1.2" fill="#2a9a2a" fill-opacity="0.73"/>
<circle cx="18.8" cy="21.1" r="1.5" fill="#2a9a2a" fill-opacity="0.81"/>
<circle cx="75.9" cy="86.7" r="1.5" fill="#2a9a2a" fill-opacity="0.64"/>
<circle cx="15.9" cy="31.1" r="1.2" fill="#2a9a2a" fill-opacity="0.35"/>
<circle cx="85.1" cy="87.9" r="0.9" fill="#2a9a2a" fill-opacity="0.39"/>
<circle cx="83.3" cy="83.7" r="1.0" fill="#2a9a2a" fill-opacity="0.59"/>
<circle cx="91.8" cy="70.5" r="1.1" fill="#2a9a2a" fill-opacity="0.87"/>
<circle cx="50.5" cy="63.5" r="0.9" fill="#2a9a2a" fill-opacity="0.27"/>
<circle cx="37.2" cy="59.4" r="1.0" fill="#2a9a2a" fill-opacity="0.90"/>
<circle cx="58.7" cy="35.0" r="1.0" fill="#2a9a2a" fill-opacity="0.92"/>
<circle cx="74.9" cy="68.9" r="1.1" fill="#2a9a2a" fill-opacity="0.54"/>
<circle cx="16.3" cy="57.2" r="1.6" fill="#2a9a2a" fill-opacity="0.89"/>
<circle cx="64.7" cy="67.8" r="1.1" fill="#2a9a2a" fill-opacity="0.56"/>
<circle cx="2.0" cy="78.0" r="1.4" fill="#2a9a2a" fill-opacity="0.26"/>
<circle cx="91.2" cy="64.7" r="1.3" fill="#2a9a2a" fill-opacity="0.26"/>
<circle cx="25.2" cy="80.5" r="1.1" fill="#2a9a2a" fill-opacity="0.98"/>
<circle cx="64.3" cy="42.4" r="1.1" fill="#2a9a2a" fill-opacity="0.51"/>
<circle cx="25.2" cy="46.7" r="1.4" fill="#2a9a2a" fill-opacity="0.87"/>
<circle cx="39.7" cy="10.2" r="1.2" fill="#2a9a2a" fill-opacity="0.75"/>
<circle cx="84.3" cy="37.4" r="1.3" fill="#2a9a2a" fill-opacity="0.71"/>
<circle cx="29.8" cy="10.8" r="0.9" fill="#2a9a2a" fill-opacity="0.99"/>
<circle cx="64.1" cy="86.1" r="1.0" fill="#2a9a2a" fill-opacity="0.78"/>
<circle cx="89.2" cy="29.9" r="1.0" fill="#2a9a2a" fill-opacity="0.82"/>
<circle cx="90.0" cy="80.5" r="1.5" fill="#2a9a2a" fill-opacity="0.70"/>
<circle cx="66.1" cy="68.1" r="1.4" fill="#2a9a2a" fill-opacity="0.74"/>
<circle cx="99.7" cy="25.9" r="1.2" fill="#2a9a2a" fill-opacity="0.54"/>
<circle cx="3.5" cy="70.8" r="1.3" fill="#2a9a2a" fill-opacity="0.39"/>
<circle cx="72.7" cy="22.2" r="1.3" fill="#2a9a2a" fill-opacity="0.84"/>
<circle cx="90.7" cy="67.2" r="1.2" fill="#2a9a2a" fill-opacity="0.88"/>
<circle cx="84.1" cy="87.6" r="1.0" fill="#2a9a2a" fill-opacity="0.32"/>
<circle cx="12.8" cy="25.9" r="1.5" fill="#2a9a2a" fill-opacity="0.82"/>
<circle cx="18.3" cy="68.0" r="1.1" fill="#2a9a2a" fill-opacity="0.32"/>
<circle cx="35.5" cy="74.4" r="1.1" fill="#2a9a2a" fill-opacity="0.84"/>
<circle cx="33.1" cy="26.1" r="1.1" fill="#2a9a2a" fill-opacity="0.89"/>
<circle cx="47.1" cy="86.6" r="1.3" fill="#2a9a2a" fill-opacity="0.96"/>
<circle cx="7.1" cy="88.9" r="1.2" fill="#2a9a2a" fill-opacity="0.90"/>
<circle cx="38.2" cy="29.8" r="0.9" fill="#2a9a2a" fill-opacity="0.89"/>
<circle cx="13.7" cy="20.0" r="1.2" fill="#2a9a2a" fill-opacity="0.68"/>
<circle cx="90.7" cy="45.8" r="1.1" fill="#2a9a2a" fill-opacity="0.79"/>
<circle cx="77.9" cy="48.8" r="1.3" fill="#2a9a2a" fill-opacity="0.38"/>
<circle cx="63.4" cy="0.5" r="1.1" fill="#2a9a2a" fill-opacity="0.82"/>
<circle cx="16.9" cy="76.4" r="1.2" fill="#2a9a2a" fill-opacity="0.82"/>
<circle cx="8.8" cy="61.4" r="1.3" fill="#2a9a2a" fill-opacity="0.55"/>
<circle cx="96.5" cy="38.3" r="0.9" fill="#2a9a2a" fill-opacity="0.40"/>
<circle cx="37.3" cy="1.4" r="1.1" fill="#2a9a2a" fill-opacity="0.87"/>
<circle cx="19.1" cy="67.7" r="1.3" fill="#2a9a2a" fill-opacity="0.44"/>
<circle cx="69.4" cy="34.4" r="0.9" fill="#2a9a2a" fill-opacity="0.54"/>
<circle cx="58.9" cy="16.7" r="1.5" fill="#2a9a2a" fill-opacity="0.47"/>
<circle cx="29.1" cy="72.8" r="1.3" fill="#2a9a2a" fill-opacity="0.50"/>
<circle cx="88.8" cy="99.5" r="1.1" fill="#2a9a2a" fill-opacity="0.93"/>
<circle cx="35.9" cy="18.8" r="1.6" fill="#2a9a2a" fill-opacity="0.94"/>
<circle cx="40.3" cy="22.8" r="1.4" fill="#2a9a2a" fill-opacity="0.35"/>
<circle cx="73.4" cy="59.0" r="1.0" fill="#2a9a2a" fill-opacity="0.52"/>
<circle cx="65.1" cy="3.7" r="1.5" fill="#2a9a2a" fill-opacity="0.44"/>
<circle cx="53.5" cy="4.9" r="1.6" fill="#2a9a2a" fill-opacity="0.75"/>
<circle cx="65.4" cy="2.0" r="1.4" fill="#2a9a2a" fill-opacity="0.56"/>
<circle cx="38.0" cy="54.7" r="1.2" fill="#2a9a2a" fill-opacity="0.36"/>
<circle cx="69.5" cy="63.0" r="1.1" fill="#2a9a2a" fill-opacity="0.75"/>
<circle cx="66.2" cy="27.0" r="1.3" fill="#2a9a2a" fill-opacity="0.35"/>
<circle cx="83.1" cy="10.5" r="1.4" fill="#2a9a2a" fill-opacity="0.34"/>
<circle cx="11.4" cy="10.6" r="1.0" fill="#2a9a2a" fill-opacity="0.40"/>
<circle cx="26.3" cy="52.3" r="1.0" fill="#2a9a2a" fill-opacity="0.78"/>
<circle cx="29.5" cy="3.9" r="1.2" fill="#2a9a2a" fill-opacity="0.41"/>
<circle cx="93.3" cy="33.1" r="0.9" fill="#2a9a2a" fill-opacity="0.75"/>
<circle cx="90.7" cy="83.5" r="1.4" fill="#2a9a2a" fill-opacity="0.36"/>
<circle cx="9.0" cy="51.2" r="1.4" fill="#2a9a2a" fill-opacity="0.33"/>
<circle cx="25.6" cy="23.1" r="1.6" fill="#2a9a2a" fill-opacity="0.47"/>
<circle cx="46.4" cy="10.0" r="1.0" fill="#2a9a2a" fill-opacity="0.28"/>
<circle cx="29.1" cy="80.2" r="1.1" fill="#2a9a2a" fill-opacity="0.80"/>
<circle cx="9.5" cy="75.8" r="0.9" fill="#2a9a2a" fill-opacity="0.89"/>
<circle cx="66.3" cy="17.1" r="1.1" fill="#2a9a2a" fill-opacity="0.58"/>
<circle cx="62.2" cy="87.8" r="0.9" fill="#2a9a2a" fill-opacity="0.86"/>
<circle cx="18.3" cy="40.1" r="1.6" fill="#2a9a2a" fill-opacity="0.45"/>
<circle cx="38.6" cy="85.1" r="1.4" fill="#2a9a2a" fill-opacity="0.74"/>
<circle cx="79.7" cy="11.3" r="1.4" fill="#2a9a2a" fill-opacity="0.29"/>
<circle cx="94.2" cy="15.9" r="1.2" fill="#2a9a2a" fill-opacity="0.69"/>
<circle cx="80.2" cy="67.8" r="1.0" fill="#2a9a2a" fill-opacity="0.53"/>
<circle cx="35.9" cy="2.9" r="1.4" fill="#2a9a2a" fill-opacity="0.88"/>
<circle cx="97.3" cy="13.1" r="1.5" fill="#2a9a2a" fill-opacity="0.33"/>
<circle cx="41.1" cy="4.6" r="1.0" fill="#2a9a2a" fill-opacity="0.49"/>
<circle cx="70.5" cy="67.8" r="1.4" fill="#2a9a2a" fill-opacity="0.68"/>
<circle cx="56.5" cy="97.8" r="1.4" fill="#2a9a2a" fill-opacity="0.50"/>
<circle cx="52.3" cy="70.1" r="0.9" fill="#2a9a2a" fill-opacity="0.75"/>
<circle cx="24.9" cy="34.6" r="1.4" fill="#2a9a2a" fill-opacity="0.54"/>
<circle cx="83.9" cy="55.8" r="1.6" fill="#2a9a2a" fill-opacity="0.29"/>
<circle cx="64.3" cy="15.7" r="1.5" fill="#2a9a2a" fill-opacity="0.89"/>
<circle cx="86.9" cy="7.5" r="1.2" fill="#2a9a2a" fill-opacity="0.43"/>
<circle cx="97.0" cy="5.0" r="1.0" fill="#2a9a2a" fill-opacity="0.73"/>
<circle cx="40.3" cy="23.5" r="1.2" fill="#2a9a2a" fill-opacity="0.85"/>
<circle cx="44.8" cy="85.7" r="1.2" fill="#2a9a2a" fill-opacity="0.34"/>
<circle cx="49.7" cy="65.3" r="0.9" fill="#2a9a2a" fill-opacity="0.56"/>
<circle cx="55.7" cy="0.0" r="0.9" fill="#2a9a2a" fill-opacity="0.70"/>
<circle cx="61.9" cy="30.5" r="1.2" fill="#2a9a2a" fill-opacity="0.41"/>
<circle cx="67.1" cy="95.0" r="1.1" fill="#2a9a2a" fill-opacity="0.29"/>
<circle cx="22.3" cy="45.4" r="1.3" fill="#2a9a2a" fill-opacity="0.71"/>
<circle cx="47.3" cy="65.7" r="1.4" fill="#2a9a2a" fill-opacity="0.34"/>
<circle cx="75.9" cy="22.2" r="1.1" fill="#2a9a2a" fill-opacity="0.87"/>
<circle cx="96.4" cy="29.2" r="1.2" fill="#2a9a2a" fill-opacity="0.78"/>
<circle cx="4.6" cy="16.4" r="1.0" fill="#2a9a2a" fill-opacity="0.79"/>
<circle cx="72.2" cy="10.7" r="1.3" fill="#2a9a2a" fill-opacity="0.39"/>
<circle cx="93.0" cy="39.3" r="1.2" fill="#2a9a2a" fill-opacity="0.84"/>
<circle cx="71.7" cy="10.8" r="1.2" fill="#2a9a2a" fill-opacity="0.94"/>
<circle cx="83.7" cy="58.9" r="1.4" fill="#2a9a2a" fill-opacity="0.59"/>
<circle cx="65.8" cy="95.6" r="1.0" fill="#2a9a2a" fill-opacity="0.62"/>
<circle cx="53.0" cy="4.9" r="1.6" fill="#2a9a2a" fill-opacity="0.88"/>
<circle cx="48.3" cy="50.8" r="1.5" fill="#2a9a2a" fill-opacity="0.38"/>
<circle cx="57.9" cy="73.0" r="0.9" fill="#2a9a2a" fill-opacity="0.54"/>
<circle cx="60.1" cy="88.3" r="1.2" fill="#2a9a2a" fill-opacity="0.54"/>
<circle cx="98.0" cy="91.6" r="1.4" fill="#2a9a2a" fill-opacity="0.46"/>
<circle cx="96.4" cy="97.0" r="1.2" fill="#2a9a2a" fill-opacity="0.35"/>
<circle cx="41.3" cy="70.0" r="1.4" fill="#2a9a2a" fill-opacity="0.47"/>
<circle cx="70.1" cy="86.1" r="1.4" fill="#2a9a2a" fill-opacity="0.95"/>
<circle cx="63.3" cy="20.1" r="1.3" fill="#2a9a2a" fill-opacity="0.47"/>
<circle cx="34.5" cy="67.2" r="1.6" fill="#2a9a2a" fill-opacity="0.74"/>
<circle cx="95.8" cy="50.4" r="1.4" fill="#2a9a2a" fill-opacity="0.49"/>
<circle cx="11.5" cy="35.2" r="1.2" fill="#2a9a2a" fill-opacity="0.68"/>
<circle cx="66.7" cy="41.7" r="1.4" fill="#2a9a2a" fill-opacity="0.88"/>
<circle cx="28.6" cy="84.7" r="1.5" fill="#2a9a2a" fill-opacity="0.64"/>
<circle cx="2.5" cy="14.5" r="1.4" fill="#2a9a2a" fill-opacity="0.40"/>
<circle cx="75.0" cy="16.1" r="1.1" fill="#2a9a2a" fill-opacity="0.44"/>
<circle cx="83.9" cy="69.1" r="1.1" fill="#2a9a2a" fill-opacity="0.82"/>
<circle cx="3.2" cy="81.4" r="0.9" fill="#2a9a2a" fill-opacity="0.90"/>
<circle cx="73.9" cy="86.5" r="1.4" fill="#2a9a2a" fill-opacity="0.67"/>
<circle cx="23.8" cy="78.4" r="1.4" fill="#2a9a2a" fill-opacity="0.47"/>
<circle cx="66.4" cy="92.6" r="1.1" fill="#2a9a2a" fill-opacity="0.97"/>
<circle cx="97.6" cy="31.3" r="1.3" fill="#2a9a2a" fill-opacity="0.26"/>
<circle cx="25.1" cy="62.1" r="1.4" fill="#2a9a2a" fill-opacity="0.90"/>
<circle cx="83.0" cy="91.1" r="1.4" fill="#2a9a2a" fill-opacity="0.74"/>
<circle cx="75.5" cy="54.7" r="1.3" fill="#2a9a2a" fill-opacity="0.83"/>
<circle cx="96.4" cy="29.4" r="1.0" fill="#2a9a2a" fill-opacity="0.76"/>
<circle cx="18.7" cy="17.4" r="1.2" fill="#2a9a2a" fill-opacity="0.53"/>
<circle cx="42.9" cy="55.7" r="0.9" fill="#2a9a2a" fill-opacity="0.69"/>
<circle cx="25.5" cy="33.1" r="1.4" fill="#2a9a2a" fill-opacity="0.37"/>
<circle cx="15.4" cy="32.3" r="0.9" fill="#2a9a2a" fill-opacity="0.95"/>
<circle cx="61.6" cy="66.2" r="1.2" fill="#2a9a2a" fill-opacity="0.68"/>
<circle cx="35.8" cy="78.4" r="1.1" fill="#2a9a2a" fill-opacity="0.41"/>
<circle cx="18.4" cy="6.8" r="1.2" fill="#2a9a2a" fill-opacity="0.56"/>
<circle cx="53.7" cy="9.2" r="1.0" fill="#2a9a2a" fill-opacity="0.41"/>
<circle cx="33.2" cy="36.1" r="1.0" fill="#2a9a2a" fill-opacity="0.81"/>
<circle cx="53.0" cy="99.7" r="1.5" fill="#2a9a2a" fill-opacity="0.99"/>
<circle cx="0.9" cy="66.9" r="1.2" fill="#2a9a2a" fill-opacity="0.93"/>
<circle cx="61.4" cy="62.1" r="1.6" fill="#2a9a2a" fill-opacity="0.76"/>
<circle cx="32.1" cy="91.6" r="1.6" fill="#2a9a2a" fill-opacity="0.54"/>
<circle cx="54.0" cy="28.3" r="1.5" fill="#2a9a2a" fill-opacity="0.87"/>
<circle cx="37.5" cy="80.3" r="1.2" fill="#2a9a2a" fill-opacity="0.28"/>
<circle cx="89.8" cy="19.3" r="1.2" fill="#2a9a2a" fill-opacity="0.96"/>
<circle cx="16.7" cy="95.6" r="1.3" fill="#2a9a2a" fill-opacity="0.26"/>
<circle cx="6.5" cy="67.0" r="1.4" fill="#2a9a2a" fill-opacity="0.90"/>
<circle cx="42.4" cy="10.4" r="1.3" fill="#2a9a2a" fill-opacity="0.78"/>
<circle cx="97.6" cy="77.5" r="1.3" fill="#2a9a2a" fill-opacity="0.95"/>
<circle cx="74.7" cy="15.4" r="1.2" fill="#2a9a2a" fill-opacity="0.50"/>
<circle cx="8.8" cy="5.4" r="1.4" fill="#2a9a2a" fill-opacity="0.67"/>
<circle cx="57.5" cy="22.8" r="1.0" fill="#2a9a2a" fill-opacity="0.54"/>
<circle cx="63.0" cy="43.3" r="0.9" fill="#2a9a2a" fill-opacity="0.75"/>
<circle cx="53.5" cy="64.1" r="1.3" fill="#2a9a2a" fill-opacity="0.82"/>
<circle cx="58.6" cy="70.1" r="0.9" fill="#2a9a2a" fill-opacity="0.95"/>
<circle cx="10.6" cy="78.7" r="1.1" fill="#2a9a2a" fill-opacity="0.31"/>
<circle cx="76.5" cy="43.8" r="1.1" fill="#2a9a2a" fill-opacity="0.75"/>
<circle cx="47.4" cy="53.3" r="1.0" fill="#2a9a2a" fill-opacity="0.54"/>
<circle cx="79.7" cy="54.6" r="1.6" fill="#2a9a2a" fill-opacity="0.36"/>
<circle cx="67.7" cy="91.4" r="1.4" fill="#2a9a2a" fill-opacity="0.80"/>
<circle cx="37.3" cy="94.9" r="1.3" fill="#2a9a2a" fill-opacity="0.67"/>
<circle cx="12.3" cy="0.5" r="1.3" fill="#2a9a2a" fill-opacity="0.65"/>
<circle cx="94.7" cy="30.5" r="1.4" fill="#2a9a2a" fill-opacity="0.93"/>
<circle cx="34.4" cy="41.3" r="1.3" fill="#2a9a2a" fill-opacity="0.63"/>
<circle cx="16.1" cy="22.1" r="1.5" fill="#2a9a2a" fill-opacity="0.40"/>
<circle cx="18.1" cy="80.0" r="1.5" fill="#2a9a2a" fill-opacity="0.89"/>
<circle cx="93.2" cy="99.4" r="1.2" fill="#2a9a2a" fill-opacity="0.66"/>
<circle cx="29.1" cy="6.7" r="0.9" fill="#2a9a2a" fill-opacity="0.79"/>
<circle cx="48.7" cy="33.1" r="0.9" fill="#2a9a2a" fill-opacity="0.74"/>
<circle cx="10.0" cy="62.0" r="1.5" fill="#2a9a2a" fill-opacity="0.49"/>
<circle cx="45.1" cy="61.6" r="1.1" fill="#2a9a2a" fill-opacity="0.69"/>
<circle cx="56.6" cy="36.4" r="1.1" fill="#2a9a2a" fill-opacity="0.57"/>
<circle cx="0.5" cy="24.6" r="1.0" fill="#2a9a2a" fill-opacity="0.80"/>
<circle cx="43.6" cy="84.0" r="1.0" fill="#2a9a2a" fill-opacity="0.80"/>
<circle cx="87.8" cy="46.3" r="1.1" fill="#2a9a2a" fill-opacity="0.48"/>
<circle cx="55.2" cy="17.6" r="1.3" fill="#2a9a2a" fill-opacity="0.88"/>
<circle cx="85.9" cy="14.0" r="1.3" fill="#2a9a2a" fill-opacity="0.45"/>
<circle cx="88.6" cy="7.6" r="0.9" fill="#2a9a2a" fill-opacity="0.26"/>
<circle cx="50.7" cy="3.1" r="1.3" fill="#2a9a2a" fill-opacity="0.55"/>
<circle cx="59.0" cy="90.6" r="1.3" fill="#2a9a2a" fill-opacity="0.66"/>
<circle cx="99.9" cy="47.2" r="1.4" fill="#2a9a2a" fill-opacity="0.52"/>
<circle cx="22.3" cy="77.2" r="1.4" fill="#2a9a2a" fill-opacity="0.47"/>
<circle cx="46.5" cy="51.0" r="1.1" fill="#2a9a2a" fill-opacity="0.63"/>
<circle cx="66.3" cy="84.8" r="1.5" fill="#2a9a2a" fill-opacity="0.71"/>
<circle cx="16.6" cy="51.4" r="1.2" fill="#2a9a2a" fill-opacity="0.38"/>
<circle cx="94.9" cy="65.9" r="1.6" fill="#2a9a2a" fill-opacity="0.80"/>
<circle cx="48.4" cy="35.9" r="1.0" fill="#2a9a2a" fill-opacity="0.62"/>
<circle cx="6.3" cy="36.9" r="0.9" fill="#2a9a2a" fill-opacity="0.41"/>
<circle cx="90.8" cy="36.1" r="1.2" fill="#2a9a2a" fill-opacity="0.59"/>
<circle cx="4.6" cy="98.1" r="1.1" fill="#2a9a2a" fill-opacity="0.78"/>
<circle cx="52.1" cy="83.0" r="1.5" fill="#2a9a2a" fill-opacity="0.45"/>
<circle cx="54.4" cy="17.4" r="1.3" fill="#2a9a2a" fill-opacity="0.52"/>
<circle cx="65.3" cy="83.5" r="1.2" fill="#2a9a2a" fill-opacity="0.53"/>
<circle cx="90.7" cy="51.6" r="1.1" fill="#2a9a2a" fill-opacity="0.90"/>
<circle cx="48.7" cy="48.2" r="1.3" fill="#2a9a2a" fill-opacity="0.63"/>
<circle cx="13.9" cy="16.6" r="0.9" fill="#2a9a2a" fill-opacity="0.73"/>
<circle cx="21.2" cy="18.7" r="1.1" fill="#2a9a2a" fill-opacity="0.79"/>
<circle cx="11.8" cy="23.0" r="1.5" fill="#2a9a2a" fill-opacity="0.79"/>
<circle cx="48.2" cy="47.9" r="1.0" fill="#2a9a2a" fill-opacity="0.37"/>
<circle cx="83.3" cy="2.2" r="0.9" fill="#2a9a2a" fill-opacity="0.68"/>
<circle cx="16.1" cy="63.0" r="0.9" fill="#2a9a2a" fill-opacity="0.68"/>
<circle cx="5.6" cy="25.8" r="1.0" fill="#2a9a2a" fill-opacity="0.97"/>
<circle cx="59.9" cy="56.4" r="0.9" fill="#2a9a2a" fill-opacity="0.79"/>
<circle cx="66.2" cy="28.3" r="0.9" fill="#2a9a2a" fill-opacity="0.59"/>
<circle cx="99.3" cy="86.7" r="1.0" fill="#2a9a2a" fill-opacity="0.87"/>
<circle cx="60.1" cy="79.5" r="1.5" fill="#2a9a2a" fill-opacity="0.39"/>
<circle cx="66.0" cy="26.5" r="1.4" fill="#2a9a2a" fill-opacity="0.51"/>
<circle cx="45.3" cy="59.1" r="1.0" fill="#2a9a2a" fill-opacity="0.54"/>
<circle cx="10.9" cy="20.2" r="1.5" fill="#2a9a2a" fill-opacity="0.63"/>
<circle cx="42.0" cy="15.0" r="0.9" fill="#2a9a2a" fill-opacity="0.61"/>
<circle cx="61.5" cy="3.9" r="1.4" fill="#2a9a2a" fill-opacity="0.63"/>
<circle cx="11.8" cy="48.2" r="0.9" fill="#2a9a2a" fill-opacity="0.70"/>
<circle cx="82.8" cy="89.7" r="1.4" fill="#2a9a2a" fill-opacity="0.74"/>
<circle cx="52.2" cy="37.0" r="0.9" fill="#2a9a2a" fill-opacity="0.65"/>
<circle cx="22.9" cy="80.2" r="1.4" fill="#2a9a2a" fill-opacity="0.54"/>
<circle cx="58.9" cy="74.1" r="1.4" fill="#2a9a2a" fill-opacity="0.77"/>
<circle cx="9.8" cy="13.4" r="1.2" fill="#2a9a2a" fill-opacity="0.42"/>
<circle cx="85.9" cy="28.3" r="1.5" fill="#2a9a2a" fill-opacity="0.56"/>
<circle cx="18.9" cy="70.9" r="1.4" fill="#2a9a2a" fill-opacity="0.68"/>
<circle cx="11.8" cy="0.7" r="1.3" fill="#2a9a2a" fill-opacity="0.77"/>
<circle cx="31.6" cy="36.2" r="1.0" fill="#2a9a2a" fill-opacity="0.74"/>
<circle cx="25.4" cy="85.5" r="1.2" fill="#2a9a2a" fill-opacity="0.52"/>
<circle cx="27.6" cy="68.1" r="1.4" fill="#2a9a2a" fill-opacity="0.56"/>
<circle cx="78.4" cy="48.2" r="1.1" fill="#2a9a2a" fill-opacity="0.67"/>
<circle cx="25.4" cy="30.7" r="1.1" fill="#2a9a2a" fill-opacity="0.78"/>
<circle cx="73.6" cy="85.5" r="1.3" fill="#2a9a2a" fill-opacity="0.81"/>
<circle cx="44.7" cy="69.9" r="1.0" fill="#2a9a2a" fill-opacity="0.41"/>
<circle cx="40.1" cy="33.8" r="1.3" fill="#2a9a2a" fill-opacity="0.77"/>
<circle cx="70.7" cy="16.1" r="1.6" fill="#2a9a2a" fill-opacity="0.25"/>
<circle cx="9.1" cy="14.5" r="1.5" fill="#2a9a2a" fill-opacity="0.58"/>
<circle cx="6.4" cy="22.2" r="0.9" fill="#2a9a2a" fill-opacity="0.28"/>
<circle cx="38.4" cy="98.4" r="1.3" fill="#2a9a2a" fill-opacity="0.64"/>
<circle cx="71.2" cy="59.7" r="1.6" fill="#2a9a2a" fill-opacity="0.87"/>
<circle cx="64.0" cy="43.9" r="1.0" fill="#2a9a2a" fill-opacity="0.74"/>
<circle cx="80.4" cy="28.6" r="0.9" fill="#2a9a2a" fill-opacity="0.70"/>
<circle cx="51.6" cy="23.2" r="1.0" fill="#2a9a2a" fill-opacity="0.28"/>
<circle cx="23.9" cy="0.0" r="1.0" fill="#2a9a2a" fill-opacity="1.00"/>
<circle cx="78.0" cy="35.3" r="1.1" fill="#2a9a2a" fill-opacity="0.69"/>
<circle cx="51.8" cy="73.7" r="0.9" fill="#2a9a2a" fill-opacity="0.32"/>
<circle cx="28.4" cy="83.0" r="1.5" fill="#2a9a2a" fill-opacity="0.51"/>
<circle cx="96.3" cy="27.7" r="1.3" fill="#2a9a2a" fill-opacity="0.40"/>
<circle cx="93.0" cy="57.5" r="1.0" fill="#2a9a2a" fill-opacity="0.56"/>
<circle cx="10.6" cy="7.2" r="1.1" fill="#2a9a2a" fill-opacity="0.96"/>
<circle cx="80.3" cy="95.7" r="1.5" fill="#2a9a2a" fill-opacity="0.86"/>
<circle cx="57.5" cy="69.4" r="1.6" fill="#2a9a2a" fill-opacity="0.67"/>
<circle cx="77.0" cy="75.7" r="1.6" fill="#2a9a2a" fill-opacity="0.59"/>
<circle cx="46.1" cy="58.7" r="0.9" fill="#2a9a2a" fill-opacity="0.34"/>
<circle cx="6.8" cy="63.4" r="1.6" fill="#2a9a2a" fill-opacity="0.76"/>
<circle cx="23.0" cy="31.6" r="1.6" fill="#2a9a2a" fill-opacity="0.64"/>
<circle cx="1.0" cy="83.2" r="1.0" fill="#2a9a2a" fill-opacity="0.32"/>
<circle cx="67.4" cy="82.1" r="0.9" fill="#2a9a2a" fill-opacity="0.95"/>
<circle cx="47.7" cy="35.4" r="1.5" fill="#2a9a2a" fill-opacity="0.45"/>
<circle cx="94.7" cy="68.3" r="1.5" fill="#2a9a2a" fill-opacity="0.62"/>
<circle cx="20.0" cy="73.5" r="1.5" fill="#2a9a2a" fill-opacity="0.41"/>
<circle cx="20.3" cy="25.0" r="1.3" fill="#2a9a2a" fill-opacity="0.37"/>
<circle cx="10.7" cy="92.0" r="1.4" fill="#2a9a2a" fill-opacity="0.75"/>
<circle cx="61.4" cy="76.4" r="1.3" fill="#2a9a2a" fill-opacity="0.28"/>
<circle cx="48.2" cy="62.1" r="1.2" fill="#2a9a2a" fill-opacity="0.99"/>
<circle cx="89.7" cy="86.9" r="1.2" fill="#2a9a2a" fill-opacity="0.99"/>
<circle cx="91.6" cy="28.0" r="1.0" fill="#2a9a2a" fill-opacity="0.68"/>
<circle cx="5.4" cy="79.9" r="1.2" fill="#2a9a2a" fill-opacity="0.66"/>
<circle cx="50.2" cy="39.4" r="1.4" fill="#2a9a2a" fill-opacity="0.38"/>
<circle cx="97.7" cy="69.8" r="1.2" fill="#2a9a2a" fill-opacity="0.77"/>
<circle cx="1.2" cy="21.1" r="1.3" fill="#2a9a2a" fill-opacity="0.49"/>
<circle cx="61.3" cy="26.0" r="1.3" fill="#2a9a2a" fill-opacity="0.43"/>
<circle cx="47.1" cy="61.3" r="1.1" fill="#2a9a2a" fill-opacity="0.62"/>
<circle cx="21.1" cy="70.1" r="1.1" fill="#2a9a2a" fill-opacity="0.89"/>
<circle cx="28.0" cy="18.0" r="0.9" fill="#2a9a2a" fill-opacity="0.68"/>
<circle cx="22.9" cy="10.0" r="1.1" fill="#2a9a2a" fill-opacity="0.43"/>
<circle cx="43.2" cy="38.1" r="1.0" fill="#2a9a2a" fill-opacity="0.97"/>
<circle cx="15.0" cy="80.6" r="1.0" fill="#2a9a2a" fill-opacity="0.62"/>
<circle cx="99.6" cy="84.9" r="1.2" fill="#2a9a2a" fill-opacity="0.79"/>
<circle cx="78.5" cy="30.0" r="1.3" fill="#2a9a2a" fill-opacity="0.68"/>
<circle cx="39.8" cy="69.1" r="0.9" fill="#2a9a2a" fill-opacity="0.86"/>
<circle cx="47.7" cy="63.0" r="1.2" fill="#2a9a2a" fill-opacity="0.50"/>
<circle cx="36.1" cy="56.0" r="1.5" fill="#2a9a2a" fill-opacity="0.44"/>
<circle cx="2.0" cy="12.1" r="1.5" fill="#2a9a2a" fill-opacity="0.97"/>
<circle cx="19.9" cy="57.6" r="1.3" fill="#2a9a2a" fill-opacity="0.38"/>
<circle cx="78.0" cy="35.5" r="1.4" fill="#2a9a2a" fill-opacity="0.62"/>
<circle cx="73.7" cy="89.0" r="1.1" fill="#2a9a2a" fill-opacity="0.46"/>
<circle cx="63.2" cy="14.5" r="1.0" fill="#2a9a2a" fill-opacity="0.86"/>
<circle cx="33.7" cy="63.1" r="1.3" fill="#2a9a2a" fill-opacity="0.89"/>
<circle cx="7.1" cy="16.2" r="1.0" fill="#2a9a2a" fill-opacity="0.49"/>
<circle cx="29.1" cy="26.7" r="1.3" fill="#2a9a2a" fill-opacity="0.45"/>
<circle cx="44.5" cy="86.3" r="1.1" fill="#2a9a2a" fill-opacity="0.69"/>
<circle cx="96.6" cy="41.4" r="1.0" fill="#2a9a2a" fill-opacity="0.27"/>
<circle cx="72.8" cy="66.2" r="1.6" fill="#2a9a2a" fill-opacity="0.78"/>
<circle cx="8.0" cy="16.7" r="0.9" fill="#2a9a2a" fill-opacity="0.30"/>
<circle cx="87.9" cy="54.8" r="0.9" fill="#2a9a2a" fill-opacity="0.55"/>
<circle cx="76.5" cy="8.3" r="1.0" fill="#2a9a2a" fill-opacity="0.37"/>
<circle cx="65.5" cy="88.5" r="1.1" fill="#2a9a2a" fill-opacity="0.44"/>
<circle cx="28.4" cy="62.6" r="0.9" fill="#2a9a2a" fill-opacity="0.88"/>
<circle cx="2.9" cy="66.4" r="1.5" fill="#2a9a2a" fill-opacity="0.49"/>
<circle cx="47.6" cy="97.5" r="1.3" fill="#2a9a2a" fill-opacity="0.45"/>
<circle cx="44.5" cy="97.0" r="1.4" fill="#2a9a2a" fill-opacity="0.38"/>
<circle cx="59.8" cy="63.1" r="1.3" fill="#2a9a2a" fill-opacity="0.67"/>
<circle cx="52.3" cy="64.0" r="1.1" fill="#2a9a2a" fill-opacity="0.51"/>
<circle cx="54.0" cy="80.5" r="1.2" fill="#2a9a2a" fill-opacity="0.52"/>
<circle cx="26.0" cy="30.4" r="0.9" fill="#2a9a2a" fill-opacity="0.86"/>
<circle cx="84.8" cy="34.4" r="1.2" fill="#2a9a2a" fill-opacity="0.26"/>
<circle cx="92.2" cy="94.7" r="1.2" fill="#2a9a2a" fill-opacity="0.26"/>
<circle cx="43.0" cy="29.3" r="1.0" fill="#2a9a2a" fill-opacity="0.26"/>
<circle cx="37.4" cy="41.2" r="1.3" fill="#2a9a2a" fill-opacity="0.55"/>
<circle cx="16.3" cy="73.7" r="1.1" fill="#2a9a2a" fill-opacity="0.53"/>
<circle cx="26.3" cy="42.2" r="1.0" fill="#2a9a2a" fill-opacity="0.82"/>
<circle cx="91.0" cy="80.8" r="1.4" fill="#2a9a2a" fill-opacity="0.46"/>
<circle cx="74.3" cy="80.9" r="1.2" fill="#2a9a2a" fill-opacity="0.89"/>
<circle cx="18.2" cy="29.0" r="1.3" fill="#2a9a2a" fill-opacity="0.71"/>
<circle cx="27.2" cy="62.3" r="1.0" fill="#2a9a2a" fill-opacity="0.26"/>
<circle cx="5.0" cy="53.5" r="1.0" fill="#2a9a2a" fill-opacity="0.33"/>
<circle cx="26.9" cy="71.5" r="1.4" fill="#2a9a2a" fill-opacity="0.42"/>
<circle cx="15.1" cy="49.4" r="1.1" fill="#2a9a2a" fill-opacity="0.48"/>
<circle cx="79.9" cy="99.8" r="1.2" fill="#2a9a2a" fill-opacity="0.84"/>
<circle cx="33.0" cy="84.4" r="1.6" fill="#2a9a2a" fill-opacity="0.29"/>
<circle cx="77.6" cy="7.1" r="1.2" fill="#2a9a2a" fill-opacity="0.39"/>
<circle cx="84.2" cy="81.7" r="1.5" fill="#2a9a2a" fill-opacity="0.34"/>
<circle cx="76.8" cy="24.9" r="1.4" fill="#2a9a2a" fill-opacity="0.58"/>
<circle cx="73.8" cy="3.4" r="1.2" fill="#2a9a2a" fill-opacity="0.83"/>
<circle cx="52.1" cy="98.2" r="1.2" fill="#2a9a2a" fill-opacity="0.76"/>
<circle cx="31.2" cy="32.3" r="1.3" fill="#2a9a2a" fill-opacity="0.28"/>
<circle cx="93.7" cy="52.1" r="1.0" fill="#2a9a2a" fill-opacity="0.73"/>
<circle cx="19.9" cy="88.8" r="1.5" fill="#2a9a2a" fill-opacity="0.41"/>
<circle cx="11.3" cy="63.3" r="1.1" fill="#2a9a2a" fill-opacity="0.38"/>
<circle cx="27.6" cy="12.0" r="1.4" fill="#2a9a2a" fill-opacity="0.26"/>
<circle cx="4.2" cy="78.3" r="1.2" fill="#2a9a2a" fill-opacity="0.70"/>
<circle cx="37.1" cy="8.9" r="1.0" fill="#2a9a2a" fill-opacity="0.32"/>
<circle cx="61.9" cy="93.1" r="1.6" fill="#2a9a2a" fill-opacity="0.72"/>
<circle cx="6.0" cy="64.5" r="1.4" fill="#2a9a2a" fill-opacity="0.84"/>
<circle cx="12.6" cy="23.3" r="1.6" fill="#2a9a2a" fill-opacity="0.84"/>
<circle cx="75.7" cy="80.6" r="1.2" fill="#2a9a2a" fill-opacity="0.39"/>
<circle cx="68.9" cy="35.8" r="1.0" fill="#2a9a2a" fill-opacity="0.92"/>
</pattern>
<filter id="db" x="0" y="0" width="100%" height="100%"><feGaussianBlur stdDeviation="0.55"/></filter>
<radialGradient id="gglow"><stop offset="0" stop-color="#2f9a2f"/><stop offset="0.6" stop-color="#1f6a1f" stop-opacity="0.6"/><stop offset="1" stop-color="#0a300a" stop-opacity="0"/></radialGradient>
<radialGradient id="bglow"><stop offset="0" stop-color="#1a3cc8"/><stop offset="1" stop-color="#0a1a80" stop-opacity="0"/></radialGradient>
<filter id="sb" x="-20%" y="-20%" width="140%" height="140%"><feGaussianBlur stdDeviation="1.5"/></filter>
<linearGradient id="vdark2" x1="0" y1="0" x2="0" y2="1"><stop offset="0" stop-color="#000" stop-opacity="0"/><stop offset="1" stop-color="#000" stop-opacity="0.35"/></linearGradient>
<linearGradient id="vdark" x1="0" y1="0" x2="0" y2="1"><stop offset="0" stop-color="#000" stop-opacity="0.45"/><stop offset="1" stop-color="#000" stop-opacity="0"/></linearGradient>
<filter id="f00" x="0" y="0" width="100%" height="100%" color-interpolation-filters="sRGB"><feTurbulence type="fractalNoise" baseFrequency="0.2" numOctaves="2" seed="1"/><feColorMatrix type="matrix" values="0.025 0.000 0 0 -0.004  0.100 0.000 0 0 -0.016  0.500 0.000 0 0 -0.080  0 0 0 0 1"/><feGaussianBlur stdDeviation="0.6"/></filter>
<filter id="f10" x="0" y="0" width="100%" height="100%" color-interpolation-filters="sRGB"><feTurbulence type="fractalNoise" baseFrequency="0.2" numOctaves="2" seed="4"/><feColorMatrix type="matrix" values="0.025 0.000 0 0 -0.004  0.100 0.000 0 0 -0.016  0.500 0.000 0 0 -0.080  0 0 0 0 1"/><feGaussianBlur stdDeviation="0.6"/></filter>
<filter id="f20" x="0" y="0" width="100%" height="100%" color-interpolation-filters="sRGB"><feTurbulence type="fractalNoise" baseFrequency="0.2" numOctaves="2" seed="7"/><feColorMatrix type="matrix" values="0.025 0.000 0 0 -0.003  0.100 0.000 0 0 -0.012  0.500 0.000 0 0 -0.060  0 0 0 0 1"/><feGaussianBlur stdDeviation="0.6"/></filter>
<filter id="f30" x="0" y="0" width="100%" height="100%" color-interpolation-filters="sRGB"><feTurbulence type="fractalNoise" baseFrequency="0.2" numOctaves="2" seed="10"/><feColorMatrix type="matrix" values="0.025 0.000 0 0 -0.004  0.100 0.000 0 0 -0.014  0.500 0.000 0 0 -0.070  0 0 0 0 1"/><feGaussianBlur stdDeviation="0.6"/></filter>
<filter id="f40" x="0" y="0" width="100%" height="100%" color-interpolation-filters="sRGB"><feTurbulence type="fractalNoise" baseFrequency="0.15" numOctaves="2" seed="13"/><feColorMatrix type="matrix" values="0.038 0.000 0 0 -0.006  0.150 0.000 0 0 -0.025  0.750 0.000 0 0 -0.125  0 0 0 0 1"/><feGaussianBlur stdDeviation="0.6"/></filter>
<filter id="f50" x="0" y="0" width="100%" height="100%" color-interpolation-filters="sRGB"><feTurbulence type="fractalNoise" baseFrequency="0.15" numOctaves="2" seed="16"/><feColorMatrix type="matrix" values="0.038 0.000 0 0 -0.006  0.150 0.000 0 0 -0.025  0.750 0.000 0 0 -0.125  0 0 0 0 1"/><feGaussianBlur stdDeviation="0.6"/></filter>
<filter id="f60" x="0" y="0" width="100%" height="100%" color-interpolation-filters="sRGB"><feTurbulence type="fractalNoise" baseFrequency="0.15" numOctaves="2" seed="19"/><feColorMatrix type="matrix" values="0.038 0.000 0 0 -0.006  0.150 0.000 0 0 -0.023  0.750 0.000 0 0 -0.115  0 0 0 0 1"/><feGaussianBlur stdDeviation="0.6"/></filter>
<filter id="f70" x="0" y="0" width="100%" height="100%" color-interpolation-filters="sRGB"><feTurbulence type="fractalNoise" baseFrequency="0.15" numOctaves="2" seed="22"/><feColorMatrix type="matrix" values="0.038 0.000 0 0 -0.007  0.150 0.000 0 0 -0.029  0.750 0.000 0 0 -0.145  0 0 0 0 1"/><feGaussianBlur stdDeviation="0.6"/></filter>
<filter id="f01" x="0" y="0" width="100%" height="100%" color-interpolation-filters="sRGB"><feTurbulence type="fractalNoise" baseFrequency="0.2" numOctaves="2" seed="2"/><feColorMatrix type="matrix" values="0.000 0.012 0 0 -0.001  0.000 0.080 0 0 -0.005  0.000 0.008 0 0 -0.000  0 0 0 0 1"/><feGaussianBlur stdDeviation="0.6"/></filter>
<filter id="f11" x="0" y="0" width="100%" height="100%" color-interpolation-filters="sRGB"><feTurbulence type="fractalNoise" baseFrequency="0.2" numOctaves="2" seed="5"/><feColorMatrix type="matrix" values="0.000 0.021 0 0 0.001  0.000 0.140 0 0 0.010  0.000 0.014 0 0 0.001  0 0 0 0 1"/><feGaussianBlur stdDeviation="0.6"/></filter>
<filter id="f21" x="0" y="0" width="100%" height="100%" color-interpolation-filters="sRGB"><feTurbulence type="fractalNoise" baseFrequency="0.2" numOctaves="2" seed="8"/><feColorMatrix type="matrix" values="0.000 0.018 0 0 0.002  0.000 0.120 0 0 0.010  0.000 0.012 0 0 0.001  0 0 0 0 1"/><feGaussianBlur stdDeviation="0.6"/></filter>
<filter id="f31" x="0" y="0" width="100%" height="100%" color-interpolation-filters="sRGB"><feTurbulence type="fractalNoise" baseFrequency="0.2" numOctaves="2" seed="11"/><feColorMatrix type="matrix" values="0.000 0.021 0 0 0.003  0.000 0.140 0 0 0.020  0.000 0.014 0 0 0.002  0 0 0 0 1"/><feGaussianBlur stdDeviation="0.6"/></filter>
<filter id="f41" x="0" y="0" width="100%" height="100%" color-interpolation-filters="sRGB"><feTurbulence type="fractalNoise" baseFrequency="0.15" numOctaves="2" seed="14"/><feColorMatrix type="matrix" values="0.000 0.030 0 0 0.000  0.000 0.200 0 0 0.000  0.000 0.020 0 0 0.000  0 0 0 0 1"/><feGaussianBlur stdDeviation="0.6"/></filter>
<filter id="f51" x="0" y="0" width="100%" height="100%" color-interpolation-filters="sRGB"><feTurbulence type="fractalNoise" baseFrequency="0.15" numOctaves="2" seed="17"/><feColorMatrix type="matrix" values="0.000 0.027 0 0 -0.001  0.000 0.180 0 0 -0.010  0.000 0.018 0 0 -0.001  0 0 0 0 1"/><feGaussianBlur stdDeviation="0.6"/></filter>
<filter id="f61" x="0" y="0" width="100%" height="100%" color-interpolation-filters="sRGB"><feTurbulence type="fractalNoise" baseFrequency="0.15" numOctaves="2" seed="20"/><feColorMatrix type="matrix" values="0.000 0.030 0 0 0.001  0.000 0.200 0 0 0.010  0.000 0.020 0 0 0.001  0 0 0 0 1"/><feGaussianBlur stdDeviation="0.6"/></filter>
<filter id="f71" x="0" y="0" width="100%" height="100%" color-interpolation-filters="sRGB"><feTurbulence type="fractalNoise" baseFrequency="0.15" numOctaves="2" seed="23"/><feColorMatrix type="matrix" values="0.000 0.030 0 0 0.001  0.000 0.200 0 0 0.010  0.000 0.020 0 0 0.001  0 0 0 0 1"/><feGaussianBlur stdDeviation="0.6"/></filter>
<filter id="f02" x="0" y="0" width="100%" height="100%" color-interpolation-filters="sRGB"><feTurbulence type="fractalNoise" baseFrequency="0.2" numOctaves="2" seed="3"/><feColorMatrix type="matrix" values="0.023 0.008 0 0 -0.004  0.092 0.056 0 0 -0.018  0.460 0.006 0 0 -0.074  0 0 0 0 1"/><feGaussianBlur stdDeviation="0.6"/></filter>
<filter id="f12" x="0" y="0" width="100%" height="100%" color-interpolation-filters="sRGB"><feTurbulence type="fractalNoise" baseFrequency="0.2" numOctaves="2" seed="6"/><feColorMatrix type="matrix" values="0.023 0.015 0 0 -0.003  0.092 0.098 0 0 -0.008  0.460 0.010 0 0 -0.073  0 0 0 0 1"/><feGaussianBlur stdDeviation="0.6"/></filter>
<filter id="f22" x="0" y="0" width="100%" height="100%" color-interpolation-filters="sRGB"><feTurbulence type="fractalNoise" baseFrequency="0.2" numOctaves="2" seed="9"/><feColorMatrix type="matrix" values="0.023 0.013 0 0 -0.002  0.092 0.084 0 0 -0.004  0.460 0.008 0 0 -0.054  0 0 0 0 1"/><feGaussianBlur stdDeviation="0.6"/></filter>
<filter id="f32" x="0" y="0" width="100%" height="100%" color-interpolation-filters="sRGB"><feTurbulence type="fractalNoise" baseFrequency="0.2" numOctaves="2" seed="12"/><feColorMatrix type="matrix" values="0.023 0.015 0 0 -0.001  0.092 0.098 0 0 0.001  0.460 0.010 0 0 -0.063  0 0 0 0 1"/><feGaussianBlur stdDeviation="0.6"/></filter>
<filter id="f42" x="0" y="0" width="100%" height="100%" color-interpolation-filters="sRGB"><feTurbulence type="fractalNoise" baseFrequency="0.15" numOctaves="2" seed="15"/><feColorMatrix type="matrix" values="0.035 0.021 0 0 -0.006  0.138 0.140 0 0 -0.023  0.690 0.014 0 0 -0.115  0 0 0 0 1"/><feGaussianBlur stdDeviation="0.6"/></filter>
<filter id="f52" x="0" y="0" width="100%" height="100%" color-interpolation-filters="sRGB"><feTurbulence type="fractalNoise" baseFrequency="0.15" numOctaves="2" seed="18"/><feColorMatrix type="matrix" values="0.035 0.019 0 0 -0.007  0.138 0.126 0 0 -0.030  0.690 0.013 0 0 -0.116  0 0 0 0 1"/><feGaussianBlur stdDeviation="0.6"/></filter>
<filter id="f62" x="0" y="0" width="100%" height="100%" color-interpolation-filters="sRGB"><feTurbulence type="fractalNoise" baseFrequency="0.15" numOctaves="2" seed="21"/><feColorMatrix type="matrix" values="0.035 0.021 0 0 -0.004  0.138 0.140 0 0 -0.014  0.690 0.014 0 0 -0.105  0 0 0 0 1"/><feGaussianBlur stdDeviation="0.6"/></filter>
<filter id="f72" x="0" y="0" width="100%" height="100%" color-interpolation-filters="sRGB"><feTurbulence type="fractalNoise" baseFrequency="0.15" numOctaves="2" seed="24"/><feColorMatrix type="matrix" values="0.035 0.021 0 0 -0.006  0.138 0.140 0 0 -0.020  0.690 0.014 0 0 -0.133  0 0 0 0 1"/><feGaussianBlur stdDeviation="0.6"/></filter>
</defs>
<svg x="25.00" y="854.30" width="76.2" height="76.6" viewBox="0 0 100 100" preserveAspectRatio="none">
<rect width="100" height="100" fill="#000"/>
<g>
<rect width="100" height="100" filter="url(#f00)"/>
<g filter="url(#db)"><rect width="100" height="100" fill="url(#dB)" opacity="0.35" transform="translate(0 0)" x="0" y="0"/></g>
</g>
<rect x="88" y="91.5" width="4" height="0.9" fill="#cfcfcf" opacity="0.45"/>
</svg>
<svg x="107.30" y="854.30" width="76.2" height="76.6" viewBox="0 0 100 100" preserveAspectRatio="none">
<rect width="100" height="100" fill="#000"/>
<clipPath id="c10"><path d="M44,0 L100,0 L100,100 L2,100 C3,94 5,88 8,82 C10,76 12,72 13,66 C16,60 17,54 20,48 C22,42 25,36 27,30 C30,24 31,18 35,12 C38,7 41,3 44,0Z"/></clipPath>
<g clip-path="url(#c10)">
<rect width="100" height="100" filter="url(#f10)"/>
<g filter="url(#db)"><rect width="100" height="100" fill="url(#dB)" opacity="0.35" transform="translate(-37 -23)" x="37" y="23"/></g>
</g>
<path d="M76,44 C82,40 90,42 100,38 L100,56 C92,52 84,54 76,48Z" fill="#000" opacity="0.8" filter="url(#sb)"/>
<path d="M88,70 C92,66 96,64 100,62 L100,70 C96,70 92,72 88,74Z" fill="#000" opacity="0.5" filter="url(#sb)"/>
<g clip-path="url(#c10)">
<ellipse cx="55" cy="55" rx="40" ry="45" fill="url(#bglow)" opacity="0.3" style="mix-blend-mode:screen"/>
</g>
<rect x="88" y="91.5" width="4" height="0.9" fill="#cfcfcf" opacity="0.45"/>
</svg>
<svg x="189.60" y="854.30" width="76.2" height="76.6" viewBox="0 0 100 100" preserveAspectRatio="none">
<rect width="100" height="100" fill="#000"/>
<g>
<rect width="100" height="100" filter="url(#f20)"/>
<g filter="url(#db)"><rect width="100" height="100" fill="url(#dB)" opacity="0.38" transform="translate(-74 -46)" x="74" y="46"/></g>
</g>
<rect x="88" y="91.5" width="4" height="0.9" fill="#cfcfcf" opacity="0.45"/>
</svg>
<svg x="271.90" y="854.30" width="76.2" height="76.6" viewBox="0 0 100 100" preserveAspectRatio="none">
<rect width="100" height="100" fill="#000"/>
<clipPath id="c30"><path d="M0,0 L100,0 L100,52 C92,55 85,60 75,62 C68,65 60,62 52,64 C42,66 35,63 25,62 C15,62 8,60 0,58Z"/></clipPath>
<g clip-path="url(#c30)">
<rect width="100" height="100" filter="url(#f30)"/>
<g filter="url(#db)"><rect width="100" height="100" fill="url(#dB)" opacity="0.35" transform="translate(-11 -69)" x="11" y="69"/></g>
</g>
<g clip-path="url(#c30)"><rect width="100" height="50" fill="url(#vdark)"/></g>
<ellipse cx="30" cy="55" rx="7" ry="4" fill="url(#bglow)" opacity="0.45" style="mix-blend-mode:screen"/>
<ellipse cx="45" cy="58" rx="7" ry="4" fill="url(#bglow)" opacity="0.45" style="mix-blend-mode:screen"/>
<ellipse cx="60" cy="56" rx="7" ry="4" fill="url(#bglow)" opacity="0.45" style="mix-blend-mode:screen"/>
<ellipse cx="75" cy="52" rx="7" ry="4" fill="url(#bglow)" opacity="0.45" style="mix-blend-mode:screen"/>
<ellipse cx="20" cy="52" rx="7" ry="4" fill="url(#bglow)" opacity="0.45" style="mix-blend-mode:screen"/>
<ellipse cx="88" cy="48" rx="7" ry="4" fill="url(#bglow)" opacity="0.45" style="mix-blend-mode:screen"/>
<rect x="88" y="91.5" width="4" height="0.9" fill="#cfcfcf" opacity="0.45"/>
</svg>
<svg x="354.20" y="854.30" width="76.2" height="76.6" viewBox="0 0 100 100" preserveAspectRatio="none">
<rect width="100" height="100" fill="#000"/>
<g>
<rect width="100" height="100" filter="url(#f40)"/>
<g filter="url(#db)"><rect width="100" height="100" fill="url(#dB)" opacity="0.72" transform="translate(-48 -92)" x="48" y="92"/></g>
</g>
<path d="M84,0 C82,30 85,60 88,100 L96,100 C93,60 91,30 92,0Z" fill="#000" opacity="0.85" filter="url(#sb)"/>
<path d="M2,30 C4,50 8,70 14,88 C18,95 22,100 26,100 L14,100 C8,90 4,70 0,50 L0,32Z" fill="#000" opacity="0.8" filter="url(#sb)"/>
<path d="M20,0 L62,0 C55,8 45,12 35,14 C28,15 22,10 20,0Z" fill="#000" opacity="0.6" filter="url(#sb)"/>
<path d="M0,90 L0,100 L12,100Z" fill="#000" opacity="0.7" filter="url(#sb)"/>
<ellipse cx="42" cy="42" rx="30" ry="32" fill="url(#bglow)" opacity="0.3" style="mix-blend-mode:screen"/>
<rect x="88" y="91.5" width="4" height="0.9" fill="#cfcfcf" opacity="0.45"/>
</svg>
<svg x="436.50" y="854.30" width="76.2" height="76.6" viewBox="0 0 100 100" preserveAspectRatio="none">
<rect width="100" height="100" fill="#000"/>
<g>
<rect width="100" height="100" filter="url(#f50)"/>
<g filter="url(#db)"><rect width="100" height="100" fill="url(#dB)" opacity="0.72" transform="translate(-85 -15)" x="85" y="15"/></g>
</g>
<path d="M0,74 C15,70 30,64 45,58 C60,53 80,51 100,51 L100,56 C80,56 62,58 48,63 C32,69 15,76 0,81Z" fill="#000" opacity="0.95" filter="url(#sb)"/>
<rect x="88" y="91.5" width="4" height="0.9" fill="#cfcfcf" opacity="0.45"/>
</svg>
<svg x="518.80" y="854.30" width="76.2" height="76.6" viewBox="0 0 100 100" preserveAspectRatio="none">
<rect width="100" height="100" fill="#000"/>
<clipPath id="c60"><path d="M0,0 L100,0 L100,100 L56,100 C48,95 44,88 38,82 C34,76 30,72 24,66 C20,58 18,54 12,48 C8,42 6,34 0,24Z"/></clipPath>
<g clip-path="url(#c60)">
<rect width="100" height="100" filter="url(#f60)"/>
<g filter="url(#db)"><rect width="100" height="100" fill="url(#dB)" opacity="0.72" transform="translate(-22 -38)" x="22" y="38"/></g>
</g>
<g clip-path="url(#c60)">
<ellipse cx="30" cy="40" rx="25" ry="35" fill="url(#bglow)" opacity="0.45" style="mix-blend-mode:screen"/>
<ellipse cx="60" cy="45" rx="40" ry="40" fill="url(#bglow)" opacity="0.25" style="mix-blend-mode:screen"/>
</g>
<path d="M0,24 C6,34 8,42 12,48 C18,54 20,58 24,66 C30,72 34,76 38,82 C44,88 48,95 56,100" fill="none" stroke="#2a50f0" stroke-width="5" opacity="0.35" filter="url(#sb)"/>
<path d="M4,52 C10,62 16,72 22,80 C26,86 30,92 34,98" fill="none" stroke="#1a36a0" stroke-width="3" opacity="0.5" filter="url(#sb)"/>
<path d="M2,64 C6,72 10,78 16,86" fill="none" stroke="#1a36a0" stroke-width="2.5" opacity="0.4" filter="url(#sb)"/>
<rect x="88" y="91.5" width="4" height="0.9" fill="#cfcfcf" opacity="0.45"/>
</svg>
<svg x="601.10" y="854.30" width="76.2" height="76.6" viewBox="0 0 100 100" preserveAspectRatio="none">
<rect width="100" height="100" fill="#000"/>
<g>
<rect width="100" height="100" filter="url(#f70)"/>
<g filter="url(#db)"><rect width="100" height="100" fill="url(#dB)" opacity="0.66" transform="translate(-59 -61)" x="59" y="61"/></g>
</g>
<ellipse cx="50" cy="45" rx="40" ry="30" fill="url(#bglow)" opacity="0.35" style="mix-blend-mode:screen"/>
<rect x="88" y="91.5" width="4" height="0.9" fill="#cfcfcf" opacity="0.45"/>
</svg>
<svg x="25.00" y="935.75" width="76.2" height="76.6" viewBox="0 0 100 100" preserveAspectRatio="none">
<rect width="100" height="100" fill="#000"/>
<g>
<rect width="100" height="100" filter="url(#f01)"/>
<g filter="url(#db)"><rect width="100" height="100" fill="url(#dG)" opacity="0.05" transform="translate(-13 -41)" x="13" y="41"/></g>
</g>
<ellipse cx="25" cy="22" rx="3" ry="3" fill="url(#gglow)" opacity="0.3" style="mix-blend-mode:screen"/>
<ellipse cx="44" cy="15" rx="2.5" ry="2.5" fill="url(#gglow)" opacity="0.3" style="mix-blend-mode:screen"/>
<ellipse cx="28" cy="50" rx="2.5" ry="2.5" fill="url(#gglow)" opacity="0.3" style="mix-blend-mode:screen"/>
<ellipse cx="33" cy="78" rx="3" ry="3" fill="url(#gglow)" opacity="0.3" style="mix-blend-mode:screen"/>
<ellipse cx="63" cy="32" rx="2" ry="2" fill="url(#gglow)" opacity="0.3" style="mix-blend-mode:screen"/>
<ellipse cx="72" cy="82" rx="2" ry="2" fill="url(#gglow)" opacity="0.3" style="mix-blend-mode:screen"/>
<ellipse cx="22" cy="40" rx="6" ry="6" fill="url(#gglow)" opacity="0.3" style="mix-blend-mode:screen"/>
<rect x="88" y="91.5" width="4" height="0.9" fill="#cfcfcf" opacity="0.45"/>
</svg>
<svg x="107.30" y="935.75" width="76.2" height="76.6" viewBox="0 0 100 100" preserveAspectRatio="none">
<rect width="100" height="100" fill="#000"/>
<clipPath id="c11"><path d="M44,0 L100,0 L100,100 L2,100 C3,94 5,88 8,82 C10,76 12,72 13,66 C16,60 17,54 20,48 C22,42 25,36 27,30 C30,24 31,18 35,12 C38,7 41,3 44,0Z"/></clipPath>
<g clip-path="url(#c11)">
<rect width="100" height="100" filter="url(#f11)"/>
<g filter="url(#db)"><rect width="100" height="100" fill="url(#dG)" opacity="0.10" transform="translate(-50 -64)" x="50" y="64"/></g>
</g>
<path d="M76,44 C82,40 90,42 100,38 L100,56 C92,52 84,54 76,48Z" fill="#000" opacity="0.8" filter="url(#sb)"/>
<path d="M88,70 C92,66 96,64 100,62 L100,70 C96,70 92,72 88,74Z" fill="#000" opacity="0.5" filter="url(#sb)"/>
<g clip-path="url(#c11)">
<ellipse cx="62" cy="58" rx="42" ry="48" fill="url(#gglow)" opacity="0.22" style="mix-blend-mode:screen"/>
<ellipse cx="40" cy="35" rx="2.5" ry="2.5" fill="url(#gglow)" opacity="0.45" style="mix-blend-mode:screen"/>
<ellipse cx="30" cy="72" rx="2.5" ry="2.5" fill="url(#gglow)" opacity="0.45" style="mix-blend-mode:screen"/>
<ellipse cx="55" cy="45" rx="2.5" ry="2.5" fill="url(#gglow)" opacity="0.45" style="mix-blend-mode:screen"/>
<ellipse cx="65" cy="30" rx="2.5" ry="2.5" fill="url(#gglow)" opacity="0.45" style="mix-blend-mode:screen"/>
</g>
<rect x="88" y="91.5" width="4" height="0.9" fill="#cfcfcf" opacity="0.45"/>
</svg>
<svg x="189.60" y="935.75" width="76.2" height="76.6" viewBox="0 0 100 100" preserveAspectRatio="none">
<rect width="100" height="100" fill="#000"/>
<clipPath id="c21"><path d="M30,0 L100,0 L100,100 L0,100 L0,38 C10,26 22,12 30,0Z"/></clipPath>
<g clip-path="url(#c21)">
<rect width="100" height="100" filter="url(#f21)"/>
<g filter="url(#db)"><rect width="100" height="100" fill="url(#dG)" opacity="0.09" transform="translate(-87 -87)" x="87" y="87"/></g>
</g>
<ellipse cx="47" cy="68" rx="2.5" ry="2.5" fill="url(#gglow)" opacity="0.7" style="mix-blend-mode:screen"/>
<ellipse cx="45" cy="82" rx="3" ry="3" fill="url(#gglow)" opacity="0.85" style="mix-blend-mode:screen"/>
<ellipse cx="40" cy="50" rx="25" ry="30" fill="url(#gglow)" opacity="0.15" style="mix-blend-mode:screen"/>
<rect x="88" y="91.5" width="4" height="0.9" fill="#cfcfcf" opacity="0.45"/>
</svg>
<svg x="271.90" y="935.75" width="76.2" height="76.6" viewBox="0 0 100 100" preserveAspectRatio="none">
<rect width="100" height="100" fill="#000"/>
<clipPath id="c31"><path d="M0,0 L100,0 L100,52 C92,55 85,60 75,62 C68,65 60,62 52,64 C42,66 35,63 25,62 C15,62 8,60 0,58Z"/></clipPath>
<g clip-path="url(#c31)">
<rect width="100" height="100" filter="url(#f31)"/>
<g filter="url(#db)"><rect width="100" height="100" fill="url(#dG)" opacity="0.10" transform="translate(-24 -10)" x="24" y="10"/></g>
</g>
<g clip-path="url(#c31)">
<ellipse cx="50" cy="48" rx="60" ry="16" fill="url(#gglow)" opacity="0.45" style="mix-blend-mode:screen"/>
<ellipse cx="10" cy="50" rx="7" ry="5" fill="url(#gglow)" opacity="0.5" style="mix-blend-mode:screen"/>
<ellipse cx="25" cy="44" rx="6" ry="4" fill="url(#gglow)" opacity="0.5" style="mix-blend-mode:screen"/>
<ellipse cx="14" cy="58" rx="6" ry="4" fill="url(#gglow)" opacity="0.5" style="mix-blend-mode:screen"/>
<ellipse cx="45" cy="52" rx="8" ry="5" fill="url(#gglow)" opacity="0.5" style="mix-blend-mode:screen"/>
<ellipse cx="62" cy="56" rx="6" ry="4" fill="url(#gglow)" opacity="0.5" style="mix-blend-mode:screen"/>
<ellipse cx="78" cy="48" rx="7" ry="4" fill="url(#gglow)" opacity="0.5" style="mix-blend-mode:screen"/>
<ellipse cx="62" cy="40" rx="5" ry="3" fill="url(#gglow)" opacity="0.5" style="mix-blend-mode:screen"/>
<ellipse cx="92" cy="44" rx="6" ry="4" fill="url(#gglow)" opacity="0.5" style="mix-blend-mode:screen"/>
<rect y="12" width="100" height="1.5" fill="#1a4a1a" opacity="0.25"/>
<rect y="20" width="100" height="1.5" fill="#1a4a1a" opacity="0.25"/>
<rect y="28" width="100" height="1.5" fill="#1a4a1a" opacity="0.25"/>
</g>
<rect x="88" y="91.5" width="4" height="0.9" fill="#cfcfcf" opacity="0.45"/>
</svg>
<svg x="354.20" y="935.75" width="76.2" height="76.6" viewBox="0 0 100 100" preserveAspectRatio="none">
<rect width="100" height="100" fill="#000"/>
<g>
<rect width="100" height="100" filter="url(#f41)"/>
<g filter="url(#db)"><rect width="100" height="100" fill="url(#dG)" opacity="0.14" transform="translate(-61 -33)" x="61" y="33"/></g>
</g>
<path d="M84,0 C82,30 85,60 88,100 L96,100 C93,60 91,30 92,0Z" fill="#000" opacity="0.85" filter="url(#sb)"/>
<path d="M2,30 C4,50 8,70 14,88 C18,95 22,100 26,100 L14,100 C8,90 4,70 0,50 L0,32Z" fill="#000" opacity="0.8" filter="url(#sb)"/>
<path d="M20,0 L62,0 C55,8 45,12 35,14 C28,15 22,10 20,0Z" fill="#000" opacity="0.6" filter="url(#sb)"/>
<path d="M0,90 L0,100 L12,100Z" fill="#000" opacity="0.7" filter="url(#sb)"/>
<ellipse cx="38" cy="62" rx="16" ry="20" fill="url(#gglow)" opacity="0.45" style="mix-blend-mode:screen"/>
<ellipse cx="72" cy="80" rx="4" ry="4" fill="url(#gglow)" opacity="0.35" style="mix-blend-mode:screen"/>
<rect x="88" y="91.5" width="4" height="0.9" fill="#cfcfcf" opacity="0.45"/>
</svg>
<svg x="436.50" y="935.75" width="76.2" height="76.6" viewBox="0 0 100 100" preserveAspectRatio="none">
<rect width="100" height="100" fill="#000"/>
<g>
<rect width="100" height="100" filter="url(#f51)"/>
<g filter="url(#db)"><rect width="100" height="100" fill="url(#dG)" opacity="0.13" transform="translate(-98 -56)" x="98" y="56"/></g>
</g>
<path d="M0,74 C15,70 30,64 45,58 C60,53 80,51 100,51 L100,56 C80,56 62,58 48,63 C32,69 15,76 0,81Z" fill="#000" opacity="0.95" filter="url(#sb)"/>
<ellipse cx="58" cy="28" rx="5.5" ry="6.5" fill="url(#gglow)" opacity="0.95" style="mix-blend-mode:screen"/>
<ellipse cx="84" cy="80" rx="5.5" ry="4.5" fill="url(#gglow)" opacity="0.75" style="mix-blend-mode:screen"/>
<ellipse cx="38" cy="95" rx="4" ry="3" fill="url(#gglow)" opacity="0.65" style="mix-blend-mode:screen"/>
<ellipse cx="23" cy="80" rx="3" ry="3" fill="url(#gglow)" opacity="0.45" style="mix-blend-mode:screen"/>
<rect x="88" y="91.5" width="4" height="0.9" fill="#cfcfcf" opacity="0.45"/>
</svg>
<svg x="518.80" y="935.75" width="76.2" height="76.6" viewBox="0 0 100 100" preserveAspectRatio="none">
<rect width="100" height="100" fill="#000"/>
<clipPath id="c61"><path d="M0,0 L100,0 L100,100 L56,100 C48,95 44,88 38,82 C34,76 30,72 24,66 C20,58 18,54 12,48 C8,42 6,34 0,24Z"/></clipPath>
<g clip-path="url(#c61)">
<rect width="100" height="100" filter="url(#f61)"/>
<g filter="url(#db)"><rect width="100" height="100" fill="url(#dG)" opacity="0.16" transform="translate(-35 -79)" x="35" y="79"/></g>
</g>
<g clip-path="url(#c61)">
<ellipse cx="50" cy="42" rx="48" ry="45" fill="url(#gglow)" opacity="0.3" style="mix-blend-mode:screen"/>
<ellipse cx="48" cy="63" rx="5.5" ry="5.5" fill="url(#gglow)" opacity="1.0" style="mix-blend-mode:screen"/>
<ellipse cx="30" cy="18" rx="3.5" ry="3.5" fill="url(#gglow)" opacity="0.55" style="mix-blend-mode:screen"/>
<ellipse cx="65" cy="36" rx="3.5" ry="3.5" fill="url(#gglow)" opacity="0.55" style="mix-blend-mode:screen"/>
<ellipse cx="90" cy="55" rx="3.5" ry="3.5" fill="url(#gglow)" opacity="0.55" style="mix-blend-mode:screen"/>
<ellipse cx="72" cy="45" rx="3.5" ry="3.5" fill="url(#gglow)" opacity="0.55" style="mix-blend-mode:screen"/>
<ellipse cx="35" cy="45" rx="3.5" ry="3.5" fill="url(#gglow)" opacity="0.55" style="mix-blend-mode:screen"/>
<ellipse cx="25" cy="10" rx="3.5" ry="3.5" fill="url(#gglow)" opacity="0.55" style="mix-blend-mode:screen"/>
<ellipse cx="60" cy="75" rx="3.5" ry="3.5" fill="url(#gglow)" opacity="0.55" style="mix-blend-mode:screen"/>
</g>
<rect x="88" y="91.5" width="4" height="0.9" fill="#cfcfcf" opacity="0.45"/>
</svg>
<svg x="601.10" y="935.75" width="76.2" height="76.6" viewBox="0 0 100 100" preserveAspectRatio="none">
<rect width="100" height="100" fill="#000"/>
<g>
<rect width="100" height="100" filter="url(#f71)"/>
<g filter="url(#db)"><rect width="100" height="100" fill="url(#dG)" opacity="0.16" transform="translate(-72 -2)" x="72" y="2"/></g>
</g>
<ellipse cx="58" cy="38" rx="55" ry="30" fill="url(#gglow)" opacity="0.6" style="mix-blend-mode:screen"/>
<ellipse cx="55" cy="30" rx="30" ry="14" fill="url(#gglow)" opacity="0.45" style="mix-blend-mode:screen"/>
<ellipse cx="80" cy="45" rx="20" ry="20" fill="url(#gglow)" opacity="0.3" style="mix-blend-mode:screen"/>
<ellipse cx="48" cy="4" rx="6" ry="4" fill="url(#gglow)" opacity="0.9" style="mix-blend-mode:screen"/>
<rect y="70" width="100" height="30" fill="url(#vdark2)"/>
<rect x="88" y="91.5" width="4" height="0.9" fill="#cfcfcf" opacity="0.45"/>
</svg>
<svg x="25.00" y="1017.20" width="76.2" height="76.6" viewBox="0 0 100 100" preserveAspectRatio="none">
<rect width="100" height="100" fill="#000"/>
<g>
<rect width="100" height="100" filter="url(#f02)"/>
<g filter="url(#db)"><rect width="100" height="100" fill="url(#dB)" opacity="0.32" transform="translate(-26 -82)" x="26" y="82"/></g>
</g>
<ellipse cx="25" cy="22" rx="3" ry="3" fill="url(#gglow)" opacity="0.21" style="mix-blend-mode:screen"/>
<ellipse cx="44" cy="15" rx="2.5" ry="2.5" fill="url(#gglow)" opacity="0.21" style="mix-blend-mode:screen"/>
<ellipse cx="28" cy="50" rx="2.5" ry="2.5" fill="url(#gglow)" opacity="0.21" style="mix-blend-mode:screen"/>
<ellipse cx="33" cy="78" rx="3" ry="3" fill="url(#gglow)" opacity="0.21" style="mix-blend-mode:screen"/>
<ellipse cx="63" cy="32" rx="2" ry="2" fill="url(#gglow)" opacity="0.21" style="mix-blend-mode:screen"/>
<ellipse cx="72" cy="82" rx="2" ry="2" fill="url(#gglow)" opacity="0.21" style="mix-blend-mode:screen"/>
<ellipse cx="22" cy="40" rx="6" ry="6" fill="url(#gglow)" opacity="0.21" style="mix-blend-mode:screen"/>
<rect x="88" y="91.5" width="4" height="0.9" fill="#cfcfcf" opacity="0.45"/>
</svg>
<svg x="107.30" y="1017.20" width="76.2" height="76.6" viewBox="0 0 100 100" preserveAspectRatio="none">
<rect width="100" height="100" fill="#000"/>
<clipPath id="c12"><path d="M44,0 L100,0 L100,100 L2,100 C3,94 5,88 8,82 C10,76 12,72 13,66 C16,60 17,54 20,48 C22,42 25,36 27,30 C30,24 31,18 35,12 C38,7 41,3 44,0Z"/></clipPath>
<g clip-path="url(#c12)">
<rect width="100" height="100" filter="url(#f12)"/>
<g filter="url(#db)"><rect width="100" height="100" fill="url(#dB)" opacity="0.32" transform="translate(-63 -5)" x="63" y="5"/></g>
</g>
<path d="M76,44 C82,40 90,42 100,38 L100,56 C92,52 84,54 76,48Z" fill="#000" opacity="0.8" filter="url(#sb)"/>
<path d="M88,70 C92,66 96,64 100,62 L100,70 C96,70 92,72 88,74Z" fill="#000" opacity="0.5" filter="url(#sb)"/>
<g clip-path="url(#c12)">
<ellipse cx="62" cy="58" rx="42" ry="48" fill="url(#gglow)" opacity="0.154" style="mix-blend-mode:screen"/>
<ellipse cx="40" cy="35" rx="2.5" ry="2.5" fill="url(#gglow)" opacity="0.315" style="mix-blend-mode:screen"/>
<ellipse cx="30" cy="72" rx="2.5" ry="2.5" fill="url(#gglow)" opacity="0.315" style="mix-blend-mode:screen"/>
<ellipse cx="55" cy="45" rx="2.5" ry="2.5" fill="url(#gglow)" opacity="0.315" style="mix-blend-mode:screen"/>
<ellipse cx="65" cy="30" rx="2.5" ry="2.5" fill="url(#gglow)" opacity="0.315" style="mix-blend-mode:screen"/>
</g>
<g clip-path="url(#c12)">
<ellipse cx="55" cy="55" rx="40" ry="45" fill="url(#bglow)" opacity="0.3" style="mix-blend-mode:screen"/>
</g>
<rect x="88" y="91.5" width="4" height="0.9" fill="#cfcfcf" opacity="0.45"/>
</svg>
<svg x="189.60" y="1017.20" width="76.2" height="76.6" viewBox="0 0 100 100" preserveAspectRatio="none">
<rect width="100" height="100" fill="#000"/>
<g>
<rect width="100" height="100" filter="url(#f22)"/>
<g filter="url(#db)"><rect width="100" height="100" fill="url(#dB)" opacity="0.34" transform="translate(0 -28)" x="0" y="28"/></g>
</g>
<path d="M0,0 L18,0 C10,8 5,15 0,22Z" fill="#000" opacity="0.5" filter="url(#sb)"/>
<ellipse cx="47" cy="68" rx="2.5" ry="2.5" fill="url(#gglow)" opacity="0.48999999999999994" style="mix-blend-mode:screen"/>
<ellipse cx="45" cy="82" rx="3" ry="3" fill="url(#gglow)" opacity="0.595" style="mix-blend-mode:screen"/>
<ellipse cx="40" cy="50" rx="25" ry="30" fill="url(#gglow)" opacity="0.105" style="mix-blend-mode:screen"/>
<rect x="88" y="91.5" width="4" height="0.9" fill="#cfcfcf" opacity="0.45"/>
</svg>
<svg x="271.90" y="1017.20" width="76.2" height="76.6" viewBox="0 0 100 100" preserveAspectRatio="none">
<rect width="100" height="100" fill="#000"/>
<clipPath id="c32"><path d="M0,0 L100,0 L100,52 C92,55 85,60 75,62 C68,65 60,62 52,64 C42,66 35,63 25,62 C15,62 8,60 0,58Z"/></clipPath>
<g clip-path="url(#c32)">
<rect width="100" height="100" filter="url(#f32)"/>
<g filter="url(#db)"><rect width="100" height="100" fill="url(#dB)" opacity="0.32" transform="translate(-37 -51)" x="37" y="51"/></g>
</g>
<g clip-path="url(#c32)">
<ellipse cx="50" cy="48" rx="60" ry="16" fill="url(#gglow)" opacity="0.315" style="mix-blend-mode:screen"/>
<ellipse cx="10" cy="50" rx="7" ry="5" fill="url(#gglow)" opacity="0.35" style="mix-blend-mode:screen"/>
<ellipse cx="25" cy="44" rx="6" ry="4" fill="url(#gglow)" opacity="0.35" style="mix-blend-mode:screen"/>
<ellipse cx="14" cy="58" rx="6" ry="4" fill="url(#gglow)" opacity="0.35" style="mix-blend-mode:screen"/>
<ellipse cx="45" cy="52" rx="8" ry="5" fill="url(#gglow)" opacity="0.35" style="mix-blend-mode:screen"/>
<ellipse cx="62" cy="56" rx="6" ry="4" fill="url(#gglow)" opacity="0.35" style="mix-blend-mode:screen"/>
<ellipse cx="78" cy="48" rx="7" ry="4" fill="url(#gglow)" opacity="0.35" style="mix-blend-mode:screen"/>
<ellipse cx="62" cy="40" rx="5" ry="3" fill="url(#gglow)" opacity="0.35" style="mix-blend-mode:screen"/>
<ellipse cx="92" cy="44" rx="6" ry="4" fill="url(#gglow)" opacity="0.35" style="mix-blend-mode:screen"/>
<rect y="12" width="100" height="1.5" fill="#1a4a1a" opacity="0.25"/>
<rect y="20" width="100" height="1.5" fill="#1a4a1a" opacity="0.25"/>
<rect y="28" width="100" height="1.5" fill="#1a4a1a" opacity="0.25"/>
</g>
<g clip-path="url(#c32)"><rect width="100" height="50" fill="url(#vdark)"/></g>
<ellipse cx="30" cy="55" rx="7" ry="4" fill="url(#bglow)" opacity="0.45" style="mix-blend-mode:screen"/>
<ellipse cx="45" cy="58" rx="7" ry="4" fill="url(#bglow)" opacity="0.45" style="mix-blend-mode:screen"/>
<ellipse cx="60" cy="56" rx="7" ry="4" fill="url(#bglow)" opacity="0.45" style="mix-blend-mode:screen"/>
<ellipse cx="75" cy="52" rx="7" ry="4" fill="url(#bglow)" opacity="0.45" style="mix-blend-mode:screen"/>
<ellipse cx="20" cy="52" rx="7" ry="4" fill="url(#bglow)" opacity="0.45" style="mix-blend-mode:screen"/>
<ellipse cx="88" cy="48" rx="7" ry="4" fill="url(#bglow)" opacity="0.45" style="mix-blend-mode:screen"/>
<rect x="88" y="91.5" width="4" height="0.9" fill="#cfcfcf" opacity="0.45"/>
</svg>
<svg x="354.20" y="1017.20" width="76.2" height="76.6" viewBox="0 0 100 100" preserveAspectRatio="none">
<rect width="100" height="100" fill="#000"/>
<g>
<rect width="100" height="100" filter="url(#f42)"/>
<g filter="url(#db)"><rect width="100" height="100" fill="url(#dB)" opacity="0.65" transform="translate(-74 -74)" x="74" y="74"/></g>
</g>
<path d="M84,0 C82,30 85,60 88,100 L96,100 C93,60 91,30 92,0Z" fill="#000" opacity="0.85" filter="url(#sb)"/>
<path d="M2,30 C4,50 8,70 14,88 C18,95 22,100 26,100 L14,100 C8,90 4,70 0,50 L0,32Z" fill="#000" opacity="0.8" filter="url(#sb)"/>
<path d="M20,0 L62,0 C55,8 45,12 35,14 C28,15 22,10 20,0Z" fill="#000" opacity="0.6" filter="url(#sb)"/>
<path d="M0,90 L0,100 L12,100Z" fill="#000" opacity="0.7" filter="url(#sb)"/>
<ellipse cx="38" cy="62" rx="16" ry="20" fill="url(#gglow)" opacity="0.315" style="mix-blend-mode:screen"/>
<ellipse cx="72" cy="80" rx="4" ry="4" fill="url(#gglow)" opacity="0.24499999999999997" style="mix-blend-mode:screen"/>
<ellipse cx="42" cy="42" rx="30" ry="32" fill="url(#bglow)" opacity="0.3" style="mix-blend-mode:screen"/>
<rect x="88" y="91.5" width="4" height="0.9" fill="#cfcfcf" opacity="0.45"/>
</svg>
<svg x="436.50" y="1017.20" width="76.2" height="76.6" viewBox="0 0 100 100" preserveAspectRatio="none">
<rect width="100" height="100" fill="#000"/>
<g>
<rect width="100" height="100" filter="url(#f52)"/>
<g filter="url(#db)"><rect width="100" height="100" fill="url(#dB)" opacity="0.65" transform="translate(-11 -97)" x="11" y="97"/></g>
</g>
<path d="M0,74 C15,70 30,64 45,58 C60,53 80,51 100,51 L100,56 C80,56 62,58 48,63 C32,69 15,76 0,81Z" fill="#000" opacity="0.95" filter="url(#sb)"/>
<ellipse cx="58" cy="28" rx="5.5" ry="6.5" fill="url(#gglow)" opacity="0.6649999999999999" style="mix-blend-mode:screen"/>
<ellipse cx="84" cy="80" rx="5.5" ry="4.5" fill="url(#gglow)" opacity="0.5249999999999999" style="mix-blend-mode:screen"/>
<ellipse cx="38" cy="95" rx="4" ry="3" fill="url(#gglow)" opacity="0.45499999999999996" style="mix-blend-mode:screen"/>
<ellipse cx="23" cy="80" rx="3" ry="3" fill="url(#gglow)" opacity="0.315" style="mix-blend-mode:screen"/>
<rect x="88" y="91.5" width="4" height="0.9" fill="#cfcfcf" opacity="0.45"/>
</svg>
<svg x="518.80" y="1017.20" width="76.2" height="76.6" viewBox="0 0 100 100" preserveAspectRatio="none">
<rect width="100" height="100" fill="#000"/>
<clipPath id="c62"><path d="M0,0 L100,0 L100,100 L56,100 C48,95 44,88 38,82 C34,76 30,72 24,66 C20,58 18,54 12,48 C8,42 6,34 0,24Z"/></clipPath>
<g clip-path="url(#c62)">
<rect width="100" height="100" filter="url(#f62)"/>
<g filter="url(#db)"><rect width="100" height="100" fill="url(#dB)" opacity="0.65" transform="translate(-48 -20)" x="48" y="20"/></g>
</g>
<g clip-path="url(#c62)">
<ellipse cx="50" cy="42" rx="48" ry="45" fill="url(#gglow)" opacity="0.21" style="mix-blend-mode:screen"/>
<ellipse cx="48" cy="63" rx="5.5" ry="5.5" fill="url(#gglow)" opacity="0.7" style="mix-blend-mode:screen"/>
<ellipse cx="30" cy="18" rx="3.5" ry="3.5" fill="url(#gglow)" opacity="0.385" style="mix-blend-mode:screen"/>
<ellipse cx="65" cy="36" rx="3.5" ry="3.5" fill="url(#gglow)" opacity="0.385" style="mix-blend-mode:screen"/>
<ellipse cx="90" cy="55" rx="3.5" ry="3.5" fill="url(#gglow)" opacity="0.385" style="mix-blend-mode:screen"/>
<ellipse cx="72" cy="45" rx="3.5" ry="3.5" fill="url(#gglow)" opacity="0.385" style="mix-blend-mode:screen"/>
<ellipse cx="35" cy="45" rx="3.5" ry="3.5" fill="url(#gglow)" opacity="0.385" style="mix-blend-mode:screen"/>
<ellipse cx="25" cy="10" rx="3.5" ry="3.5" fill="url(#gglow)" opacity="0.385" style="mix-blend-mode:screen"/>
<ellipse cx="60" cy="75" rx="3.5" ry="3.5" fill="url(#gglow)" opacity="0.385" style="mix-blend-mode:screen"/>
</g>
<path d="M0,24 C6,34 8,42 12,48 C18,54 20,58 24,66 C30,72 34,76 38,82 C44,88 48,95 56,100" fill="none" stroke="#2a50f0" stroke-width="5" opacity="0.35" filter="url(#sb)"/>
<path d="M4,52 C10,62 16,72 22,80 C26,86 30,92 34,98" fill="none" stroke="#1a36a0" stroke-width="3" opacity="0.5" filter="url(#sb)"/>
<path d="M2,64 C6,72 10,78 16,86" fill="none" stroke="#1a36a0" stroke-width="2.5" opacity="0.4" filter="url(#sb)"/>
<rect x="88" y="91.5" width="4" height="0.9" fill="#cfcfcf" opacity="0.45"/>
</svg>
<svg x="601.10" y="1017.20" width="76.2" height="76.6" viewBox="0 0 100 100" preserveAspectRatio="none">
<rect width="100" height="100" fill="#000"/>
<g>
<rect width="100" height="100" filter="url(#f72)"/>
<g filter="url(#db)"><rect width="100" height="100" fill="url(#dB)" opacity="0.59" transform="translate(-85 -43)" x="85" y="43"/></g>
</g>
<ellipse cx="58" cy="38" rx="55" ry="30" fill="url(#gglow)" opacity="0.42" style="mix-blend-mode:screen"/>
<ellipse cx="55" cy="30" rx="30" ry="14" fill="url(#gglow)" opacity="0.315" style="mix-blend-mode:screen"/>
<ellipse cx="80" cy="45" rx="20" ry="20" fill="url(#gglow)" opacity="0.21" style="mix-blend-mode:screen"/>
<ellipse cx="48" cy="4" rx="6" ry="4" fill="url(#gglow)" opacity="0.63" style="mix-blend-mode:screen"/>
<rect y="70" width="100" height="30" fill="url(#vdark2)"/>
<rect x="88" y="91.5" width="4" height="0.9" fill="#cfcfcf" opacity="0.45"/>
</svg>
</svg></body></html>
